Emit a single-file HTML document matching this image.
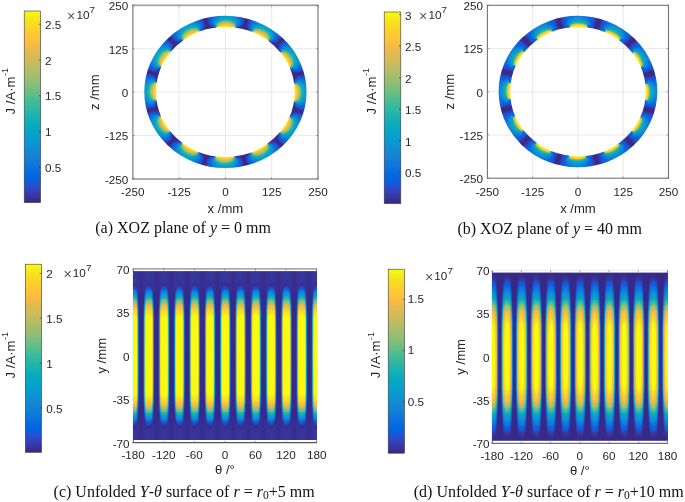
<!DOCTYPE html>
<html><head><meta charset="utf-8"><title>Figure</title>
<style>html,body{margin:0;padding:0;background:#fff}svg{display:block}</style></head>
<body><svg width="685" height="502" viewBox="0 0 685 502">
<defs><linearGradient id="ga_14750" gradientUnits="userSpaceOnUse" x1="187" y1="0" x2="219" y2="0"><stop offset="0" stop-color="#352a87"/><stop offset="0.05" stop-color="#352a87"/><stop offset="0.1" stop-color="#352a87"/><stop offset="0.15" stop-color="#352a87"/><stop offset="0.2" stop-color="#352a87"/><stop offset="0.25" stop-color="#352a87"/><stop offset="0.3" stop-color="#352a87"/><stop offset="0.35" stop-color="#352a87"/><stop offset="0.4" stop-color="#352a87"/><stop offset="0.45" stop-color="#352a87"/><stop offset="0.5" stop-color="#352b87"/><stop offset="0.55" stop-color="#352b87"/><stop offset="0.6" stop-color="#352b87"/><stop offset="0.65" stop-color="#352b87"/><stop offset="0.7" stop-color="#352a87"/><stop offset="0.75" stop-color="#352a87"/><stop offset="0.8" stop-color="#352a87"/><stop offset="0.85" stop-color="#352a87"/><stop offset="0.9" stop-color="#352a87"/><stop offset="0.95" stop-color="#352a87"/><stop offset="1" stop-color="#352a87"/></linearGradient>
<linearGradient id="ga_14250" gradientUnits="userSpaceOnUse" x1="187" y1="0" x2="219" y2="0"><stop offset="0" stop-color="#352a87"/><stop offset="0.05" stop-color="#352a87"/><stop offset="0.1" stop-color="#352a87"/><stop offset="0.15" stop-color="#352b87"/><stop offset="0.2" stop-color="#352b87"/><stop offset="0.25" stop-color="#352b88"/><stop offset="0.3" stop-color="#352b89"/><stop offset="0.35" stop-color="#352c89"/><stop offset="0.4" stop-color="#352c8a"/><stop offset="0.45" stop-color="#352d8b"/><stop offset="0.5" stop-color="#352d8c"/><stop offset="0.55" stop-color="#352d8c"/><stop offset="0.6" stop-color="#352d8c"/><stop offset="0.65" stop-color="#352d8c"/><stop offset="0.7" stop-color="#352d8c"/><stop offset="0.75" stop-color="#352c8b"/><stop offset="0.8" stop-color="#352c8b"/><stop offset="0.85" stop-color="#352c8b"/><stop offset="0.9" stop-color="#352c8a"/><stop offset="0.95" stop-color="#352c8a"/><stop offset="1" stop-color="#352c8a"/></linearGradient>
<linearGradient id="ga_13750" gradientUnits="userSpaceOnUse" x1="187" y1="0" x2="219" y2="0"><stop offset="0" stop-color="#352a87"/><stop offset="0.05" stop-color="#352a87"/><stop offset="0.1" stop-color="#352b87"/><stop offset="0.15" stop-color="#352b88"/><stop offset="0.2" stop-color="#352c89"/><stop offset="0.25" stop-color="#352d8c"/><stop offset="0.3" stop-color="#362e8e"/><stop offset="0.35" stop-color="#363092"/><stop offset="0.4" stop-color="#363195"/><stop offset="0.45" stop-color="#363398"/><stop offset="0.5" stop-color="#36339a"/><stop offset="0.55" stop-color="#36349a"/><stop offset="0.6" stop-color="#36349a"/><stop offset="0.65" stop-color="#36339a"/><stop offset="0.7" stop-color="#363398"/><stop offset="0.75" stop-color="#363297"/><stop offset="0.8" stop-color="#363296"/><stop offset="0.85" stop-color="#363195"/><stop offset="0.9" stop-color="#363194"/><stop offset="0.95" stop-color="#363093"/><stop offset="1" stop-color="#363092"/></linearGradient>
<linearGradient id="ga_13250" gradientUnits="userSpaceOnUse" x1="187" y1="0" x2="219" y2="0"><stop offset="0" stop-color="#352a87"/><stop offset="0.05" stop-color="#352a87"/><stop offset="0.1" stop-color="#352b88"/><stop offset="0.15" stop-color="#352c8a"/><stop offset="0.2" stop-color="#362e8e"/><stop offset="0.25" stop-color="#363093"/><stop offset="0.3" stop-color="#36339a"/><stop offset="0.35" stop-color="#3637a0"/><stop offset="0.4" stop-color="#3639a6"/><stop offset="0.45" stop-color="#353cab"/><stop offset="0.5" stop-color="#353eae"/><stop offset="0.55" stop-color="#353eaf"/><stop offset="0.6" stop-color="#353eaf"/><stop offset="0.65" stop-color="#353dad"/><stop offset="0.7" stop-color="#353cac"/><stop offset="0.75" stop-color="#353ba9"/><stop offset="0.8" stop-color="#363aa7"/><stop offset="0.85" stop-color="#3639a6"/><stop offset="0.9" stop-color="#3638a4"/><stop offset="0.95" stop-color="#3637a2"/><stop offset="1" stop-color="#36369f"/></linearGradient>
<linearGradient id="ga_12750" gradientUnits="userSpaceOnUse" x1="187" y1="0" x2="219" y2="0"><stop offset="0" stop-color="#352a87"/><stop offset="0.05" stop-color="#352b87"/><stop offset="0.1" stop-color="#352b89"/><stop offset="0.15" stop-color="#362e8e"/><stop offset="0.2" stop-color="#363195"/><stop offset="0.25" stop-color="#36369f"/><stop offset="0.3" stop-color="#353baa"/><stop offset="0.35" stop-color="#3440b3"/><stop offset="0.4" stop-color="#3244ba"/><stop offset="0.45" stop-color="#2e47c1"/><stop offset="0.5" stop-color="#2d49c4"/><stop offset="0.55" stop-color="#2d49c5"/><stop offset="0.6" stop-color="#2d49c4"/><stop offset="0.65" stop-color="#2e48c2"/><stop offset="0.7" stop-color="#2f47c0"/><stop offset="0.75" stop-color="#3045bd"/><stop offset="0.8" stop-color="#3244bb"/><stop offset="0.85" stop-color="#3243b8"/><stop offset="0.9" stop-color="#3341b6"/><stop offset="0.95" stop-color="#3440b3"/><stop offset="1" stop-color="#343eb0"/></linearGradient>
<linearGradient id="ga_12250" gradientUnits="userSpaceOnUse" x1="187" y1="0" x2="219" y2="0"><stop offset="0" stop-color="#352a87"/><stop offset="0.05" stop-color="#352b88"/><stop offset="0.1" stop-color="#352c8b"/><stop offset="0.15" stop-color="#363194"/><stop offset="0.2" stop-color="#3637a0"/><stop offset="0.25" stop-color="#343eaf"/><stop offset="0.3" stop-color="#3145bd"/><stop offset="0.35" stop-color="#2b4bc7"/><stop offset="0.4" stop-color="#2450cf"/><stop offset="0.45" stop-color="#1e53d5"/><stop offset="0.5" stop-color="#1b55d7"/><stop offset="0.55" stop-color="#1a56d7"/><stop offset="0.6" stop-color="#1c55d6"/><stop offset="0.65" stop-color="#1e54d5"/><stop offset="0.7" stop-color="#2152d2"/><stop offset="0.75" stop-color="#244fcf"/><stop offset="0.8" stop-color="#274ecc"/><stop offset="0.85" stop-color="#294cca"/><stop offset="0.9" stop-color="#2c4ac7"/><stop offset="0.95" stop-color="#2d49c3"/><stop offset="1" stop-color="#2f47c0"/></linearGradient>
<linearGradient id="ga_11750" gradientUnits="userSpaceOnUse" x1="187" y1="0" x2="219" y2="0"><stop offset="0" stop-color="#352a87"/><stop offset="0.05" stop-color="#352b88"/><stop offset="0.1" stop-color="#362e8f"/><stop offset="0.15" stop-color="#36369e"/><stop offset="0.2" stop-color="#343eb0"/><stop offset="0.25" stop-color="#2e48c2"/><stop offset="0.3" stop-color="#2350d0"/><stop offset="0.35" stop-color="#1857d9"/><stop offset="0.4" stop-color="#0e5cde"/><stop offset="0.45" stop-color="#0860df"/><stop offset="0.5" stop-color="#0661e0"/><stop offset="0.55" stop-color="#0661e0"/><stop offset="0.6" stop-color="#0860df"/><stop offset="0.65" stop-color="#0a5fdf"/><stop offset="0.7" stop-color="#0d5dde"/><stop offset="0.75" stop-color="#125adc"/><stop offset="0.8" stop-color="#1558da"/><stop offset="0.85" stop-color="#1956d8"/><stop offset="0.9" stop-color="#1d54d5"/><stop offset="0.95" stop-color="#2152d2"/><stop offset="1" stop-color="#254fcf"/></linearGradient>
<linearGradient id="ga_11250" gradientUnits="userSpaceOnUse" x1="187" y1="0" x2="219" y2="0"><stop offset="0" stop-color="#352a87"/><stop offset="0.05" stop-color="#352c8a"/><stop offset="0.1" stop-color="#363296"/><stop offset="0.15" stop-color="#353dad"/><stop offset="0.2" stop-color="#2e48c2"/><stop offset="0.25" stop-color="#1e54d5"/><stop offset="0.3" stop-color="#0d5dde"/><stop offset="0.35" stop-color="#0363e1"/><stop offset="0.4" stop-color="#0266e1"/><stop offset="0.45" stop-color="#0268e1"/><stop offset="0.5" stop-color="#0269e1"/><stop offset="0.55" stop-color="#0269e1"/><stop offset="0.6" stop-color="#0268e1"/><stop offset="0.65" stop-color="#0266e1"/><stop offset="0.7" stop-color="#0265e1"/><stop offset="0.75" stop-color="#0363e1"/><stop offset="0.8" stop-color="#0661e0"/><stop offset="0.85" stop-color="#095fdf"/><stop offset="0.9" stop-color="#0c5dde"/><stop offset="0.95" stop-color="#105bdd"/><stop offset="1" stop-color="#1658da"/></linearGradient>
<linearGradient id="ga_10750" gradientUnits="userSpaceOnUse" x1="187" y1="0" x2="219" y2="0"><stop offset="0" stop-color="#352a87"/><stop offset="0.05" stop-color="#352d8d"/><stop offset="0.1" stop-color="#3637a1"/><stop offset="0.15" stop-color="#2f46bf"/><stop offset="0.2" stop-color="#1d54d6"/><stop offset="0.25" stop-color="#0761e0"/><stop offset="0.3" stop-color="#0267e1"/><stop offset="0.35" stop-color="#036be0"/><stop offset="0.4" stop-color="#056ee0"/><stop offset="0.45" stop-color="#076fdf"/><stop offset="0.5" stop-color="#0770df"/><stop offset="0.55" stop-color="#066fdf"/><stop offset="0.6" stop-color="#056ee0"/><stop offset="0.65" stop-color="#046de0"/><stop offset="0.7" stop-color="#036be1"/><stop offset="0.75" stop-color="#0269e1"/><stop offset="0.8" stop-color="#0267e1"/><stop offset="0.85" stop-color="#0266e1"/><stop offset="0.9" stop-color="#0364e1"/><stop offset="0.95" stop-color="#0462e1"/><stop offset="1" stop-color="#0860df"/></linearGradient>
<linearGradient id="ga_10250" gradientUnits="userSpaceOnUse" x1="187" y1="0" x2="219" y2="0"><stop offset="0" stop-color="#352a87"/><stop offset="0.05" stop-color="#363093"/><stop offset="0.1" stop-color="#3440b2"/><stop offset="0.15" stop-color="#1f53d5"/><stop offset="0.2" stop-color="#0462e1"/><stop offset="0.25" stop-color="#036be1"/><stop offset="0.3" stop-color="#0770df"/><stop offset="0.35" stop-color="#0b73dd"/><stop offset="0.4" stop-color="#0d75dc"/><stop offset="0.45" stop-color="#0e76dc"/><stop offset="0.5" stop-color="#0e76dc"/><stop offset="0.55" stop-color="#0d75dc"/><stop offset="0.6" stop-color="#0b74dd"/><stop offset="0.65" stop-color="#0972de"/><stop offset="0.7" stop-color="#0770df"/><stop offset="0.75" stop-color="#056ee0"/><stop offset="0.8" stop-color="#046ce0"/><stop offset="0.85" stop-color="#036be1"/><stop offset="0.9" stop-color="#0269e1"/><stop offset="0.95" stop-color="#0267e1"/><stop offset="1" stop-color="#0265e1"/></linearGradient>
<linearGradient id="ga_9750" gradientUnits="userSpaceOnUse" x1="187" y1="0" x2="219" y2="0"><stop offset="0" stop-color="#352a87"/><stop offset="0.05" stop-color="#36369f"/><stop offset="0.1" stop-color="#284dca"/><stop offset="0.15" stop-color="#0363e1"/><stop offset="0.2" stop-color="#056de0"/><stop offset="0.25" stop-color="#0c74dd"/><stop offset="0.3" stop-color="#1079da"/><stop offset="0.35" stop-color="#127cd8"/><stop offset="0.4" stop-color="#137dd8"/><stop offset="0.45" stop-color="#137ed7"/><stop offset="0.5" stop-color="#127dd8"/><stop offset="0.55" stop-color="#117bd9"/><stop offset="0.6" stop-color="#1079da"/><stop offset="0.65" stop-color="#0f77db"/><stop offset="0.7" stop-color="#0d75dc"/><stop offset="0.75" stop-color="#0a72de"/><stop offset="0.8" stop-color="#0871de"/><stop offset="0.85" stop-color="#076fdf"/><stop offset="0.9" stop-color="#056ee0"/><stop offset="0.95" stop-color="#046ce0"/><stop offset="1" stop-color="#026ae1"/></linearGradient>
<linearGradient id="ga_9250" gradientUnits="userSpaceOnUse" x1="187" y1="0" x2="219" y2="0"><stop offset="0" stop-color="#352b87"/><stop offset="0.05" stop-color="#3342b6"/><stop offset="0.1" stop-color="#0760e0"/><stop offset="0.15" stop-color="#0870df"/><stop offset="0.2" stop-color="#1079da"/><stop offset="0.25" stop-color="#1480d6"/><stop offset="0.3" stop-color="#1484d4"/><stop offset="0.35" stop-color="#1486d4"/><stop offset="0.4" stop-color="#1487d3"/><stop offset="0.45" stop-color="#1486d4"/><stop offset="0.5" stop-color="#1484d4"/><stop offset="0.55" stop-color="#1481d5"/><stop offset="0.6" stop-color="#137fd7"/><stop offset="0.65" stop-color="#127cd8"/><stop offset="0.7" stop-color="#117ada"/><stop offset="0.75" stop-color="#0e77db"/><stop offset="0.8" stop-color="#0d75dc"/><stop offset="0.85" stop-color="#0b73dd"/><stop offset="0.9" stop-color="#0972de"/><stop offset="0.95" stop-color="#0770df"/><stop offset="1" stop-color="#056ee0"/></linearGradient>
<linearGradient id="ga_8750" gradientUnits="userSpaceOnUse" x1="187" y1="0" x2="219" y2="0"><stop offset="0" stop-color="#352b88"/><stop offset="0.05" stop-color="#125adc"/><stop offset="0.1" stop-color="#0a73de"/><stop offset="0.15" stop-color="#1481d6"/><stop offset="0.2" stop-color="#138ad3"/><stop offset="0.25" stop-color="#0f90d2"/><stop offset="0.3" stop-color="#0c93d2"/><stop offset="0.35" stop-color="#0c94d2"/><stop offset="0.4" stop-color="#0d93d2"/><stop offset="0.45" stop-color="#0f90d2"/><stop offset="0.5" stop-color="#118cd2"/><stop offset="0.55" stop-color="#1389d3"/><stop offset="0.6" stop-color="#1485d4"/><stop offset="0.65" stop-color="#1482d5"/><stop offset="0.7" stop-color="#137ed7"/><stop offset="0.75" stop-color="#117bd9"/><stop offset="0.8" stop-color="#1079da"/><stop offset="0.85" stop-color="#0f77db"/><stop offset="0.9" stop-color="#0d75dc"/><stop offset="0.95" stop-color="#0b73dd"/><stop offset="1" stop-color="#0971de"/></linearGradient>
<linearGradient id="ga_8250" gradientUnits="userSpaceOnUse" x1="187" y1="0" x2="219" y2="0"><stop offset="0" stop-color="#363093"/><stop offset="0.05" stop-color="#117ad9"/><stop offset="0.1" stop-color="#0e92d2"/><stop offset="0.15" stop-color="#069ece"/><stop offset="0.2" stop-color="#06a2cb"/><stop offset="0.25" stop-color="#06a3ca"/><stop offset="0.3" stop-color="#06a3cb"/><stop offset="0.35" stop-color="#06a1cc"/><stop offset="0.4" stop-color="#069fce"/><stop offset="0.45" stop-color="#089bd0"/><stop offset="0.5" stop-color="#0a96d1"/><stop offset="0.55" stop-color="#0e91d2"/><stop offset="0.6" stop-color="#128cd2"/><stop offset="0.65" stop-color="#1487d3"/><stop offset="0.7" stop-color="#1483d5"/><stop offset="0.75" stop-color="#137fd6"/><stop offset="0.8" stop-color="#137dd8"/><stop offset="0.85" stop-color="#117bd9"/><stop offset="0.9" stop-color="#1079da"/><stop offset="0.95" stop-color="#0e77db"/><stop offset="1" stop-color="#0c74dd"/></linearGradient>
<linearGradient id="ga_7750" gradientUnits="userSpaceOnUse" x1="187" y1="0" x2="219" y2="0"><stop offset="0" stop-color="#cabb5c"/><stop offset="0.05" stop-color="#45bb96"/><stop offset="0.1" stop-color="#32b8a1"/><stop offset="0.15" stop-color="#26b5a9"/><stop offset="0.2" stop-color="#1db3af"/><stop offset="0.25" stop-color="#14b0b5"/><stop offset="0.3" stop-color="#0daeba"/><stop offset="0.35" stop-color="#08abc0"/><stop offset="0.4" stop-color="#06a8c5"/><stop offset="0.45" stop-color="#06a3ca"/><stop offset="0.5" stop-color="#069ece"/><stop offset="0.55" stop-color="#0899d1"/><stop offset="0.6" stop-color="#0c93d2"/><stop offset="0.65" stop-color="#108ed2"/><stop offset="0.7" stop-color="#1389d3"/><stop offset="0.75" stop-color="#1484d4"/><stop offset="0.8" stop-color="#1481d5"/><stop offset="0.85" stop-color="#137fd7"/><stop offset="0.9" stop-color="#127cd8"/><stop offset="0.95" stop-color="#117ad9"/><stop offset="1" stop-color="#0f77db"/></linearGradient>
<linearGradient id="ga_7250" gradientUnits="userSpaceOnUse" x1="187" y1="0" x2="219" y2="0"><stop offset="0" stop-color="#f5ea19"/><stop offset="0.05" stop-color="#e9b94e"/><stop offset="0.1" stop-color="#b0bd67"/><stop offset="0.15" stop-color="#80bf7a"/><stop offset="0.2" stop-color="#5cbe8a"/><stop offset="0.25" stop-color="#3eba9a"/><stop offset="0.3" stop-color="#2ab6a6"/><stop offset="0.35" stop-color="#1bb2b0"/><stop offset="0.4" stop-color="#0faeb9"/><stop offset="0.45" stop-color="#07aac2"/><stop offset="0.5" stop-color="#06a5c9"/><stop offset="0.55" stop-color="#06a0cd"/><stop offset="0.6" stop-color="#089ad0"/><stop offset="0.65" stop-color="#0b95d2"/><stop offset="0.7" stop-color="#108ed2"/><stop offset="0.75" stop-color="#1388d3"/><stop offset="0.8" stop-color="#1485d4"/><stop offset="0.85" stop-color="#1483d5"/><stop offset="0.9" stop-color="#1480d6"/><stop offset="0.95" stop-color="#137dd8"/><stop offset="1" stop-color="#117ad9"/></linearGradient>
<linearGradient id="ga_6750" gradientUnits="userSpaceOnUse" x1="187" y1="0" x2="219" y2="0"><stop offset="0" stop-color="#f6f114"/><stop offset="0.05" stop-color="#fec931"/><stop offset="0.1" stop-color="#e5b950"/><stop offset="0.15" stop-color="#b9bd63"/><stop offset="0.2" stop-color="#95bf71"/><stop offset="0.25" stop-color="#70bf81"/><stop offset="0.3" stop-color="#4fbc91"/><stop offset="0.35" stop-color="#36b89f"/><stop offset="0.4" stop-color="#22b4ac"/><stop offset="0.45" stop-color="#10afb8"/><stop offset="0.5" stop-color="#07aac1"/><stop offset="0.55" stop-color="#06a5c8"/><stop offset="0.6" stop-color="#06a0cd"/><stop offset="0.65" stop-color="#089ad0"/><stop offset="0.7" stop-color="#0c94d2"/><stop offset="0.75" stop-color="#118dd2"/><stop offset="0.8" stop-color="#138ad3"/><stop offset="0.85" stop-color="#1487d3"/><stop offset="0.9" stop-color="#1483d5"/><stop offset="0.95" stop-color="#1480d6"/><stop offset="1" stop-color="#137dd8"/></linearGradient>
<linearGradient id="ga_6250" gradientUnits="userSpaceOnUse" x1="187" y1="0" x2="219" y2="0"><stop offset="0" stop-color="#f7f412"/><stop offset="0.05" stop-color="#f9d528"/><stop offset="0.1" stop-color="#fcbd3f"/><stop offset="0.15" stop-color="#daba55"/><stop offset="0.2" stop-color="#b8bd63"/><stop offset="0.25" stop-color="#96bf71"/><stop offset="0.3" stop-color="#73bf7f"/><stop offset="0.35" stop-color="#53bd8f"/><stop offset="0.4" stop-color="#37b99e"/><stop offset="0.45" stop-color="#1eb3ae"/><stop offset="0.5" stop-color="#0eaeba"/><stop offset="0.55" stop-color="#07a9c2"/><stop offset="0.6" stop-color="#06a4c9"/><stop offset="0.65" stop-color="#069fce"/><stop offset="0.7" stop-color="#089ad1"/><stop offset="0.75" stop-color="#0d93d2"/><stop offset="0.8" stop-color="#108ed2"/><stop offset="0.85" stop-color="#128bd3"/><stop offset="0.9" stop-color="#1487d3"/><stop offset="0.95" stop-color="#1483d5"/><stop offset="1" stop-color="#1480d6"/></linearGradient>
<linearGradient id="ga_5750" gradientUnits="userSpaceOnUse" x1="187" y1="0" x2="219" y2="0"><stop offset="0" stop-color="#f7f511"/><stop offset="0.05" stop-color="#f6db24"/><stop offset="0.1" stop-color="#fec734"/><stop offset="0.15" stop-color="#edb94c"/><stop offset="0.2" stop-color="#cfbb5a"/><stop offset="0.25" stop-color="#afbe67"/><stop offset="0.3" stop-color="#8fbf74"/><stop offset="0.35" stop-color="#6fbf81"/><stop offset="0.4" stop-color="#4ebc91"/><stop offset="0.45" stop-color="#2eb7a4"/><stop offset="0.5" stop-color="#19b2b2"/><stop offset="0.55" stop-color="#0cadbc"/><stop offset="0.6" stop-color="#06a8c4"/><stop offset="0.65" stop-color="#06a3ca"/><stop offset="0.7" stop-color="#079ecf"/><stop offset="0.75" stop-color="#0a97d1"/><stop offset="0.8" stop-color="#0d93d2"/><stop offset="0.85" stop-color="#108fd2"/><stop offset="0.9" stop-color="#128ad3"/><stop offset="0.95" stop-color="#1486d3"/><stop offset="1" stop-color="#1483d5"/></linearGradient>
<linearGradient id="ga_5250" gradientUnits="userSpaceOnUse" x1="187" y1="0" x2="219" y2="0"><stop offset="0" stop-color="#f8f611"/><stop offset="0.05" stop-color="#f5df21"/><stop offset="0.1" stop-color="#fccd2e"/><stop offset="0.15" stop-color="#fabb42"/><stop offset="0.2" stop-color="#dfba53"/><stop offset="0.25" stop-color="#c2bc5f"/><stop offset="0.3" stop-color="#a4be6b"/><stop offset="0.35" stop-color="#85bf78"/><stop offset="0.4" stop-color="#64be86"/><stop offset="0.45" stop-color="#3eba9a"/><stop offset="0.5" stop-color="#24b5aa"/><stop offset="0.55" stop-color="#14b0b5"/><stop offset="0.6" stop-color="#09abbf"/><stop offset="0.65" stop-color="#06a7c6"/><stop offset="0.7" stop-color="#06a1cc"/><stop offset="0.75" stop-color="#079bd0"/><stop offset="0.8" stop-color="#0a97d1"/><stop offset="0.85" stop-color="#0d93d2"/><stop offset="0.9" stop-color="#108ed2"/><stop offset="0.95" stop-color="#138ad3"/><stop offset="1" stop-color="#1485d4"/></linearGradient>
<linearGradient id="ga_4750" gradientUnits="userSpaceOnUse" x1="187" y1="0" x2="219" y2="0"><stop offset="0" stop-color="#f8f710"/><stop offset="0.05" stop-color="#f5e21f"/><stop offset="0.1" stop-color="#fad22b"/><stop offset="0.15" stop-color="#fec03b"/><stop offset="0.2" stop-color="#ebb94d"/><stop offset="0.25" stop-color="#cfbb5a"/><stop offset="0.3" stop-color="#b3bd65"/><stop offset="0.35" stop-color="#97bf71"/><stop offset="0.4" stop-color="#77bf7e"/><stop offset="0.45" stop-color="#4ebc91"/><stop offset="0.5" stop-color="#30b7a2"/><stop offset="0.55" stop-color="#1cb3af"/><stop offset="0.6" stop-color="#0daeba"/><stop offset="0.65" stop-color="#07a9c2"/><stop offset="0.7" stop-color="#06a4c9"/><stop offset="0.75" stop-color="#069ece"/><stop offset="0.8" stop-color="#089ad0"/><stop offset="0.85" stop-color="#0a96d1"/><stop offset="0.9" stop-color="#0e91d2"/><stop offset="0.95" stop-color="#118dd2"/><stop offset="1" stop-color="#1388d3"/></linearGradient>
<linearGradient id="ga_4250" gradientUnits="userSpaceOnUse" x1="187" y1="0" x2="219" y2="0"><stop offset="0" stop-color="#f8f710"/><stop offset="0.05" stop-color="#f5e41d"/><stop offset="0.1" stop-color="#f9d528"/><stop offset="0.15" stop-color="#fec536"/><stop offset="0.2" stop-color="#f3ba48"/><stop offset="0.25" stop-color="#d9ba55"/><stop offset="0.3" stop-color="#bfbc61"/><stop offset="0.35" stop-color="#a4be6b"/><stop offset="0.4" stop-color="#86bf78"/><stop offset="0.45" stop-color="#5dbe89"/><stop offset="0.5" stop-color="#3cba9b"/><stop offset="0.55" stop-color="#25b5a9"/><stop offset="0.6" stop-color="#13b0b6"/><stop offset="0.65" stop-color="#09acbe"/><stop offset="0.7" stop-color="#06a7c6"/><stop offset="0.75" stop-color="#06a1cc"/><stop offset="0.8" stop-color="#079dcf"/><stop offset="0.85" stop-color="#0899d1"/><stop offset="0.9" stop-color="#0b95d2"/><stop offset="0.95" stop-color="#0f90d2"/><stop offset="1" stop-color="#128bd3"/></linearGradient>
<linearGradient id="ga_3750" gradientUnits="userSpaceOnUse" x1="187" y1="0" x2="219" y2="0"><stop offset="0" stop-color="#f8f710"/><stop offset="0.05" stop-color="#f5e61c"/><stop offset="0.1" stop-color="#f8d726"/><stop offset="0.15" stop-color="#fec832"/><stop offset="0.2" stop-color="#f9bb43"/><stop offset="0.25" stop-color="#e1b952"/><stop offset="0.3" stop-color="#c8bc5d"/><stop offset="0.35" stop-color="#aebe67"/><stop offset="0.4" stop-color="#91bf73"/><stop offset="0.45" stop-color="#6abe83"/><stop offset="0.5" stop-color="#47bb95"/><stop offset="0.55" stop-color="#2db7a4"/><stop offset="0.6" stop-color="#19b2b1"/><stop offset="0.65" stop-color="#0dadbb"/><stop offset="0.7" stop-color="#07a9c3"/><stop offset="0.75" stop-color="#06a3ca"/><stop offset="0.8" stop-color="#06a0cd"/><stop offset="0.85" stop-color="#079cd0"/><stop offset="0.9" stop-color="#0997d1"/><stop offset="0.95" stop-color="#0d92d2"/><stop offset="1" stop-color="#118dd2"/></linearGradient>
<linearGradient id="ga_3250" gradientUnits="userSpaceOnUse" x1="187" y1="0" x2="219" y2="0"><stop offset="0" stop-color="#f8f810"/><stop offset="0.05" stop-color="#f5e71b"/><stop offset="0.1" stop-color="#f7d925"/><stop offset="0.15" stop-color="#fdcb30"/><stop offset="0.2" stop-color="#fcbd3f"/><stop offset="0.25" stop-color="#e7b94f"/><stop offset="0.3" stop-color="#cfbb5a"/><stop offset="0.35" stop-color="#b6bd64"/><stop offset="0.4" stop-color="#9bbf6f"/><stop offset="0.45" stop-color="#75bf7f"/><stop offset="0.5" stop-color="#50bc90"/><stop offset="0.55" stop-color="#35b89f"/><stop offset="0.6" stop-color="#1fb3ad"/><stop offset="0.65" stop-color="#11afb7"/><stop offset="0.7" stop-color="#08aac0"/><stop offset="0.75" stop-color="#06a5c8"/><stop offset="0.8" stop-color="#06a2cc"/><stop offset="0.85" stop-color="#079ecf"/><stop offset="0.9" stop-color="#0899d1"/><stop offset="0.95" stop-color="#0b94d2"/><stop offset="1" stop-color="#0f8fd2"/></linearGradient>
<linearGradient id="ga_2750" gradientUnits="userSpaceOnUse" x1="187" y1="0" x2="219" y2="0"><stop offset="0" stop-color="#f8f810"/><stop offset="0.05" stop-color="#f5e81a"/><stop offset="0.1" stop-color="#f7da24"/><stop offset="0.15" stop-color="#fccd2f"/><stop offset="0.2" stop-color="#febf3c"/><stop offset="0.25" stop-color="#ecb94c"/><stop offset="0.3" stop-color="#d5ba58"/><stop offset="0.35" stop-color="#bdbd61"/><stop offset="0.4" stop-color="#a2be6c"/><stop offset="0.45" stop-color="#7dbf7b"/><stop offset="0.5" stop-color="#59bd8c"/><stop offset="0.55" stop-color="#3cba9b"/><stop offset="0.6" stop-color="#24b5aa"/><stop offset="0.65" stop-color="#15b0b5"/><stop offset="0.7" stop-color="#0aacbe"/><stop offset="0.75" stop-color="#06a6c6"/><stop offset="0.8" stop-color="#06a3ca"/><stop offset="0.85" stop-color="#06a0cd"/><stop offset="0.9" stop-color="#079bd0"/><stop offset="0.95" stop-color="#0a96d1"/><stop offset="1" stop-color="#0e91d2"/></linearGradient>
<linearGradient id="ga_2250" gradientUnits="userSpaceOnUse" x1="187" y1="0" x2="219" y2="0"><stop offset="0" stop-color="#f8f810"/><stop offset="0.05" stop-color="#f5e81a"/><stop offset="0.1" stop-color="#f6dc23"/><stop offset="0.15" stop-color="#fcce2d"/><stop offset="0.2" stop-color="#fec139"/><stop offset="0.25" stop-color="#f0b94a"/><stop offset="0.3" stop-color="#d9ba56"/><stop offset="0.35" stop-color="#c2bc5f"/><stop offset="0.4" stop-color="#a7be6a"/><stop offset="0.45" stop-color="#84bf78"/><stop offset="0.5" stop-color="#60be88"/><stop offset="0.55" stop-color="#42bb98"/><stop offset="0.6" stop-color="#29b6a7"/><stop offset="0.65" stop-color="#18b2b2"/><stop offset="0.7" stop-color="#0cadbc"/><stop offset="0.75" stop-color="#06a8c5"/><stop offset="0.8" stop-color="#06a4c9"/><stop offset="0.85" stop-color="#06a1cc"/><stop offset="0.9" stop-color="#079dcf"/><stop offset="0.95" stop-color="#0998d1"/><stop offset="1" stop-color="#0d93d2"/></linearGradient>
<linearGradient id="ga_1750" gradientUnits="userSpaceOnUse" x1="187" y1="0" x2="219" y2="0"><stop offset="0" stop-color="#f8f810"/><stop offset="0.05" stop-color="#f5e91a"/><stop offset="0.1" stop-color="#f6dc23"/><stop offset="0.15" stop-color="#fbcf2c"/><stop offset="0.2" stop-color="#ffc338"/><stop offset="0.25" stop-color="#f2b948"/><stop offset="0.3" stop-color="#dcba54"/><stop offset="0.35" stop-color="#c5bc5e"/><stop offset="0.4" stop-color="#acbe68"/><stop offset="0.45" stop-color="#89bf76"/><stop offset="0.5" stop-color="#65be85"/><stop offset="0.55" stop-color="#47bb95"/><stop offset="0.6" stop-color="#2db7a5"/><stop offset="0.65" stop-color="#1bb2b0"/><stop offset="0.7" stop-color="#0eaeba"/><stop offset="0.75" stop-color="#06a9c3"/><stop offset="0.8" stop-color="#06a5c8"/><stop offset="0.85" stop-color="#06a2cb"/><stop offset="0.9" stop-color="#079ecf"/><stop offset="0.95" stop-color="#0899d1"/><stop offset="1" stop-color="#0c94d2"/></linearGradient>
<linearGradient id="ga_1250" gradientUnits="userSpaceOnUse" x1="187" y1="0" x2="219" y2="0"><stop offset="0" stop-color="#f8f810"/><stop offset="0.05" stop-color="#f5e919"/><stop offset="0.1" stop-color="#f6dd22"/><stop offset="0.15" stop-color="#fbd02c"/><stop offset="0.2" stop-color="#ffc437"/><stop offset="0.25" stop-color="#f4ba47"/><stop offset="0.3" stop-color="#dfba53"/><stop offset="0.35" stop-color="#c8bc5d"/><stop offset="0.4" stop-color="#afbe67"/><stop offset="0.45" stop-color="#8dbf75"/><stop offset="0.5" stop-color="#6abe84"/><stop offset="0.55" stop-color="#4bbc93"/><stop offset="0.6" stop-color="#30b7a3"/><stop offset="0.65" stop-color="#1eb3ae"/><stop offset="0.7" stop-color="#0faeb9"/><stop offset="0.75" stop-color="#07a9c2"/><stop offset="0.8" stop-color="#06a6c7"/><stop offset="0.85" stop-color="#06a3cb"/><stop offset="0.9" stop-color="#069fce"/><stop offset="0.95" stop-color="#089ad0"/><stop offset="1" stop-color="#0b95d2"/></linearGradient>
<linearGradient id="ga_750" gradientUnits="userSpaceOnUse" x1="187" y1="0" x2="219" y2="0"><stop offset="0" stop-color="#f8f80f"/><stop offset="0.05" stop-color="#f5ea19"/><stop offset="0.1" stop-color="#f6dd22"/><stop offset="0.15" stop-color="#fbd12b"/><stop offset="0.2" stop-color="#ffc436"/><stop offset="0.25" stop-color="#f5ba46"/><stop offset="0.3" stop-color="#e0ba52"/><stop offset="0.35" stop-color="#cabb5c"/><stop offset="0.4" stop-color="#b1bd66"/><stop offset="0.45" stop-color="#8fbf74"/><stop offset="0.5" stop-color="#6cbf82"/><stop offset="0.55" stop-color="#4dbc92"/><stop offset="0.6" stop-color="#32b8a2"/><stop offset="0.65" stop-color="#1fb3ad"/><stop offset="0.7" stop-color="#10afb8"/><stop offset="0.75" stop-color="#07aac2"/><stop offset="0.8" stop-color="#06a7c6"/><stop offset="0.85" stop-color="#06a3ca"/><stop offset="0.9" stop-color="#069fce"/><stop offset="0.95" stop-color="#089bd0"/><stop offset="1" stop-color="#0b95d1"/></linearGradient>
<linearGradient id="ga_250" gradientUnits="userSpaceOnUse" x1="187" y1="0" x2="219" y2="0"><stop offset="0" stop-color="#f8f80f"/><stop offset="0.05" stop-color="#f5ea19"/><stop offset="0.1" stop-color="#f6dd22"/><stop offset="0.15" stop-color="#fbd12b"/><stop offset="0.2" stop-color="#fec536"/><stop offset="0.25" stop-color="#f6ba46"/><stop offset="0.3" stop-color="#e1ba52"/><stop offset="0.35" stop-color="#cbbb5c"/><stop offset="0.4" stop-color="#b2bd66"/><stop offset="0.45" stop-color="#90bf73"/><stop offset="0.5" stop-color="#6ebf82"/><stop offset="0.55" stop-color="#4ebc91"/><stop offset="0.6" stop-color="#33b8a1"/><stop offset="0.65" stop-color="#20b4ad"/><stop offset="0.7" stop-color="#11afb8"/><stop offset="0.75" stop-color="#07aac1"/><stop offset="0.8" stop-color="#06a7c6"/><stop offset="0.85" stop-color="#06a3ca"/><stop offset="0.9" stop-color="#06a0cd"/><stop offset="0.95" stop-color="#079bd0"/><stop offset="1" stop-color="#0b96d1"/></linearGradient>
<g id="seca"><polygon transform="rotate(-14.75)" points="184,-0.8 222,-0.97 222.01,2.91 221.9,6.78 183.91,5.62" fill="url(#ga_14750)"/><polygon transform="rotate(-14.25)" points="184,-0.8 222,-0.97 222.01,2.91 221.9,6.78 183.91,5.62" fill="url(#ga_14250)"/><polygon transform="rotate(-13.75)" points="184,-0.8 222,-0.97 222.01,2.91 221.9,6.78 183.91,5.62" fill="url(#ga_13750)"/><polygon transform="rotate(-13.25)" points="184,-0.8 222,-0.97 222.01,2.91 221.9,6.78 183.91,5.62" fill="url(#ga_13250)"/><polygon transform="rotate(-12.75)" points="184,-0.8 222,-0.97 222.01,2.91 221.9,6.78 183.91,5.62" fill="url(#ga_12750)"/><polygon transform="rotate(-12.25)" points="184,-0.8 222,-0.97 222.01,2.91 221.9,6.78 183.91,5.62" fill="url(#ga_12250)"/><polygon transform="rotate(-11.75)" points="184,-0.8 222,-0.97 222.01,2.91 221.9,6.78 183.91,5.62" fill="url(#ga_11750)"/><polygon transform="rotate(-11.25)" points="184,-0.8 222,-0.97 222.01,2.91 221.9,6.78 183.91,5.62" fill="url(#ga_11250)"/><polygon transform="rotate(-10.75)" points="184,-0.8 222,-0.97 222.01,2.91 221.9,6.78 183.91,5.62" fill="url(#ga_10750)"/><polygon transform="rotate(-10.25)" points="184,-0.8 222,-0.97 222.01,2.91 221.9,6.78 183.91,5.62" fill="url(#ga_10250)"/><polygon transform="rotate(-9.75)" points="184,-0.8 222,-0.97 222.01,2.91 221.9,6.78 183.91,5.62" fill="url(#ga_9750)"/><polygon transform="rotate(-9.25)" points="184,-0.8 222,-0.97 222.01,2.91 221.9,6.78 183.91,5.62" fill="url(#ga_9250)"/><polygon transform="rotate(-8.75)" points="184,-0.8 222,-0.97 222.01,2.91 221.9,6.78 183.91,5.62" fill="url(#ga_8750)"/><polygon transform="rotate(-8.25)" points="184,-0.8 222,-0.97 222.01,2.91 221.9,6.78 183.91,5.62" fill="url(#ga_8250)"/><polygon transform="rotate(-7.75)" points="184,-0.8 222,-0.97 222.01,2.91 221.9,6.78 183.91,5.62" fill="url(#ga_7750)"/><polygon transform="rotate(-7.25)" points="184,-0.8 222,-0.97 222.01,2.91 221.9,6.78 183.91,5.62" fill="url(#ga_7250)"/><polygon transform="rotate(-6.75)" points="184,-0.8 222,-0.97 222.01,2.91 221.9,6.78 183.91,5.62" fill="url(#ga_6750)"/><polygon transform="rotate(-6.25)" points="184,-0.8 222,-0.97 222.01,2.91 221.9,6.78 183.91,5.62" fill="url(#ga_6250)"/><polygon transform="rotate(-5.75)" points="184,-0.8 222,-0.97 222.01,2.91 221.9,6.78 183.91,5.62" fill="url(#ga_5750)"/><polygon transform="rotate(-5.25)" points="184,-0.8 222,-0.97 222.01,2.91 221.9,6.78 183.91,5.62" fill="url(#ga_5250)"/><polygon transform="rotate(-4.75)" points="184,-0.8 222,-0.97 222.01,2.91 221.9,6.78 183.91,5.62" fill="url(#ga_4750)"/><polygon transform="rotate(-4.25)" points="184,-0.8 222,-0.97 222.01,2.91 221.9,6.78 183.91,5.62" fill="url(#ga_4250)"/><polygon transform="rotate(-3.75)" points="184,-0.8 222,-0.97 222.01,2.91 221.9,6.78 183.91,5.62" fill="url(#ga_3750)"/><polygon transform="rotate(-3.25)" points="184,-0.8 222,-0.97 222.01,2.91 221.9,6.78 183.91,5.62" fill="url(#ga_3250)"/><polygon transform="rotate(-2.75)" points="184,-0.8 222,-0.97 222.01,2.91 221.9,6.78 183.91,5.62" fill="url(#ga_2750)"/><polygon transform="rotate(-2.25)" points="184,-0.8 222,-0.97 222.01,2.91 221.9,6.78 183.91,5.62" fill="url(#ga_2250)"/><polygon transform="rotate(-1.75)" points="184,-0.8 222,-0.97 222.01,2.91 221.9,6.78 183.91,5.62" fill="url(#ga_1750)"/><polygon transform="rotate(-1.25)" points="184,-0.8 222,-0.97 222.01,2.91 221.9,6.78 183.91,5.62" fill="url(#ga_1250)"/><polygon transform="rotate(-0.75)" points="184,-0.8 222,-0.97 222.01,2.91 221.9,6.78 183.91,5.62" fill="url(#ga_750)"/><polygon transform="rotate(-0.25)" points="184,-0.8 222,-0.97 222.01,2.91 221.9,6.78 183.91,5.62" fill="url(#ga_250)"/><polygon transform="rotate(0.25)" points="184,-0.8 222,-0.97 222.01,2.91 221.9,6.78 183.91,5.62" fill="url(#ga_250)"/><polygon transform="rotate(0.75)" points="184,-0.8 222,-0.97 222.01,2.91 221.9,6.78 183.91,5.62" fill="url(#ga_750)"/><polygon transform="rotate(1.25)" points="184,-0.8 222,-0.97 222.01,2.91 221.9,6.78 183.91,5.62" fill="url(#ga_1250)"/><polygon transform="rotate(1.75)" points="184,-0.8 222,-0.97 222.01,2.91 221.9,6.78 183.91,5.62" fill="url(#ga_1750)"/><polygon transform="rotate(2.25)" points="184,-0.8 222,-0.97 222.01,2.91 221.9,6.78 183.91,5.62" fill="url(#ga_2250)"/><polygon transform="rotate(2.75)" points="184,-0.8 222,-0.97 222.01,2.91 221.9,6.78 183.91,5.62" fill="url(#ga_2750)"/><polygon transform="rotate(3.25)" points="184,-0.8 222,-0.97 222.01,2.91 221.9,6.78 183.91,5.62" fill="url(#ga_3250)"/><polygon transform="rotate(3.75)" points="184,-0.8 222,-0.97 222.01,2.91 221.9,6.78 183.91,5.62" fill="url(#ga_3750)"/><polygon transform="rotate(4.25)" points="184,-0.8 222,-0.97 222.01,2.91 221.9,6.78 183.91,5.62" fill="url(#ga_4250)"/><polygon transform="rotate(4.75)" points="184,-0.8 222,-0.97 222.01,2.91 221.9,6.78 183.91,5.62" fill="url(#ga_4750)"/><polygon transform="rotate(5.25)" points="184,-0.8 222,-0.97 222.01,2.91 221.9,6.78 183.91,5.62" fill="url(#ga_5250)"/><polygon transform="rotate(5.75)" points="184,-0.8 222,-0.97 222.01,2.91 221.9,6.78 183.91,5.62" fill="url(#ga_5750)"/><polygon transform="rotate(6.25)" points="184,-0.8 222,-0.97 222.01,2.91 221.9,6.78 183.91,5.62" fill="url(#ga_6250)"/><polygon transform="rotate(6.75)" points="184,-0.8 222,-0.97 222.01,2.91 221.9,6.78 183.91,5.62" fill="url(#ga_6750)"/><polygon transform="rotate(7.25)" points="184,-0.8 222,-0.97 222.01,2.91 221.9,6.78 183.91,5.62" fill="url(#ga_7250)"/><polygon transform="rotate(7.75)" points="184,-0.8 222,-0.97 222.01,2.91 221.9,6.78 183.91,5.62" fill="url(#ga_7750)"/><polygon transform="rotate(8.25)" points="184,-0.8 222,-0.97 222.01,2.91 221.9,6.78 183.91,5.62" fill="url(#ga_8250)"/><polygon transform="rotate(8.75)" points="184,-0.8 222,-0.97 222.01,2.91 221.9,6.78 183.91,5.62" fill="url(#ga_8750)"/><polygon transform="rotate(9.25)" points="184,-0.8 222,-0.97 222.01,2.91 221.9,6.78 183.91,5.62" fill="url(#ga_9250)"/><polygon transform="rotate(9.75)" points="184,-0.8 222,-0.97 222.01,2.91 221.9,6.78 183.91,5.62" fill="url(#ga_9750)"/><polygon transform="rotate(10.25)" points="184,-0.8 222,-0.97 222.01,2.91 221.9,6.78 183.91,5.62" fill="url(#ga_10250)"/><polygon transform="rotate(10.75)" points="184,-0.8 222,-0.97 222.01,2.91 221.9,6.78 183.91,5.62" fill="url(#ga_10750)"/><polygon transform="rotate(11.25)" points="184,-0.8 222,-0.97 222.01,2.91 221.9,6.78 183.91,5.62" fill="url(#ga_11250)"/><polygon transform="rotate(11.75)" points="184,-0.8 222,-0.97 222.01,2.91 221.9,6.78 183.91,5.62" fill="url(#ga_11750)"/><polygon transform="rotate(12.25)" points="184,-0.8 222,-0.97 222.01,2.91 221.9,6.78 183.91,5.62" fill="url(#ga_12250)"/><polygon transform="rotate(12.75)" points="184,-0.8 222,-0.97 222.01,2.91 221.9,6.78 183.91,5.62" fill="url(#ga_12750)"/><polygon transform="rotate(13.25)" points="184,-0.8 222,-0.97 222.01,2.91 221.9,6.78 183.91,5.62" fill="url(#ga_13250)"/><polygon transform="rotate(13.75)" points="184,-0.8 222,-0.97 222.01,2.91 221.9,6.78 183.91,5.62" fill="url(#ga_13750)"/><polygon transform="rotate(14.25)" points="184,-0.8 222,-0.97 222.01,2.91 221.9,6.78 183.91,5.62" fill="url(#ga_14250)"/><polygon transform="rotate(14.75)" points="184,-0.8 222,-0.97 222.01,2.91 221.9,6.78 183.91,5.62" fill="url(#ga_14750)"/></g>
<g id="fixa"><polygon transform="rotate(-14.75)" points="184,-0.8 222,-0.97 222.01,2.32 221.93,5.62 183.94,4.66" fill="url(#ga_14750)"/><polygon transform="rotate(-14.25)" points="184,-0.8 222,-0.97 222,1.74 221.96,4.46 183.96,3.69" fill="url(#ga_14250)"/><polygon transform="rotate(-13.75)" points="184,-0.8 222,-0.97 222,1.16 221.98,3.29 183.98,2.73" fill="url(#ga_13750)"/><polygon transform="rotate(-13.25)" points="184,-0.8 222,-0.97 222,0.58 221.99,2.13 183.99,1.77" fill="url(#ga_13250)"/><polygon transform="rotate(-12.75)" points="184,-0.8 222,-0.97 222,0 222,0.97 184,0.8" fill="url(#ga_12750)"/></g>
<mask id="rca" maskUnits="userSpaceOnUse" x="-260" y="-260" width="520" height="520"><rect x="-260" y="-260" width="520" height="520" fill="#000"/><circle r="203" fill="none" stroke="#fff" stroke-width="32"/></mask>
<linearGradient id="cba" x1="0" y1="0" x2="0" y2="1"><stop offset="0" stop-color="#f9fb0e"/><stop offset="0.02" stop-color="#f6f313"/><stop offset="0.03" stop-color="#f5eb18"/><stop offset="0.05" stop-color="#f5e51d"/><stop offset="0.06" stop-color="#f5de21"/><stop offset="0.08" stop-color="#f7d925"/><stop offset="0.09" stop-color="#f9d329"/><stop offset="0.11" stop-color="#fcce2d"/><stop offset="0.12" stop-color="#fec932"/><stop offset="0.14" stop-color="#ffc436"/><stop offset="0.16" stop-color="#febf3c"/><stop offset="0.17" stop-color="#f9bb43"/><stop offset="0.19" stop-color="#f2b949"/><stop offset="0.2" stop-color="#ebb94d"/><stop offset="0.22" stop-color="#e3b951"/><stop offset="0.23" stop-color="#dbba55"/><stop offset="0.25" stop-color="#d3bb58"/><stop offset="0.27" stop-color="#cbbb5c"/><stop offset="0.28" stop-color="#c2bc5f"/><stop offset="0.3" stop-color="#babd63"/><stop offset="0.31" stop-color="#b1bd66"/><stop offset="0.33" stop-color="#a8be6a"/><stop offset="0.34" stop-color="#9fbe6d"/><stop offset="0.36" stop-color="#95bf71"/><stop offset="0.38" stop-color="#8bbf75"/><stop offset="0.39" stop-color="#80bf7a"/><stop offset="0.41" stop-color="#75bf7e"/><stop offset="0.42" stop-color="#6abe83"/><stop offset="0.44" stop-color="#5ebe89"/><stop offset="0.45" stop-color="#52bd8f"/><stop offset="0.47" stop-color="#47bb95"/><stop offset="0.48" stop-color="#3dba9b"/><stop offset="0.5" stop-color="#33b8a1"/><stop offset="0.52" stop-color="#2ab6a7"/><stop offset="0.53" stop-color="#21b4ac"/><stop offset="0.55" stop-color="#1ab2b1"/><stop offset="0.56" stop-color="#13b0b6"/><stop offset="0.58" stop-color="#0dadbb"/><stop offset="0.59" stop-color="#09abbf"/><stop offset="0.61" stop-color="#06a8c4"/><stop offset="0.62" stop-color="#06a6c7"/><stop offset="0.64" stop-color="#06a2cb"/><stop offset="0.66" stop-color="#069fce"/><stop offset="0.67" stop-color="#079bd0"/><stop offset="0.69" stop-color="#0a97d1"/><stop offset="0.7" stop-color="#0e92d2"/><stop offset="0.72" stop-color="#118dd2"/><stop offset="0.73" stop-color="#1388d3"/><stop offset="0.75" stop-color="#1484d4"/><stop offset="0.77" stop-color="#1480d6"/><stop offset="0.78" stop-color="#127cd8"/><stop offset="0.8" stop-color="#0f78db"/><stop offset="0.81" stop-color="#0c74dd"/><stop offset="0.83" stop-color="#0870df"/><stop offset="0.84" stop-color="#046ce0"/><stop offset="0.86" stop-color="#0267e1"/><stop offset="0.88" stop-color="#0462e0"/><stop offset="0.89" stop-color="#115bdc"/><stop offset="0.91" stop-color="#2152d3"/><stop offset="0.92" stop-color="#2c4ac6"/><stop offset="0.94" stop-color="#3243b9"/><stop offset="0.95" stop-color="#353dac"/><stop offset="0.97" stop-color="#36369f"/><stop offset="0.98" stop-color="#363093"/><stop offset="1" stop-color="#352a87"/></linearGradient>
<linearGradient id="gb_14750" gradientUnits="userSpaceOnUse" x1="187" y1="0" x2="219" y2="0"><stop offset="0" stop-color="#352a87"/><stop offset="0.05" stop-color="#352a87"/><stop offset="0.1" stop-color="#352a87"/><stop offset="0.15" stop-color="#352a87"/><stop offset="0.2" stop-color="#352a87"/><stop offset="0.25" stop-color="#352a87"/><stop offset="0.3" stop-color="#352a87"/><stop offset="0.35" stop-color="#352a87"/><stop offset="0.4" stop-color="#352a87"/><stop offset="0.45" stop-color="#352a87"/><stop offset="0.5" stop-color="#352a87"/><stop offset="0.55" stop-color="#352a87"/><stop offset="0.6" stop-color="#352a87"/><stop offset="0.65" stop-color="#352a87"/><stop offset="0.7" stop-color="#352a87"/><stop offset="0.75" stop-color="#352a87"/><stop offset="0.8" stop-color="#352a87"/><stop offset="0.85" stop-color="#352a87"/><stop offset="0.9" stop-color="#352a87"/><stop offset="0.95" stop-color="#352a87"/><stop offset="1" stop-color="#352a87"/></linearGradient>
<linearGradient id="gb_14250" gradientUnits="userSpaceOnUse" x1="187" y1="0" x2="219" y2="0"><stop offset="0" stop-color="#352b88"/><stop offset="0.05" stop-color="#352b88"/><stop offset="0.1" stop-color="#352b88"/><stop offset="0.15" stop-color="#352b88"/><stop offset="0.2" stop-color="#352b88"/><stop offset="0.25" stop-color="#352b88"/><stop offset="0.3" stop-color="#352b88"/><stop offset="0.35" stop-color="#352b88"/><stop offset="0.4" stop-color="#352b88"/><stop offset="0.45" stop-color="#352b88"/><stop offset="0.5" stop-color="#352b88"/><stop offset="0.55" stop-color="#352b88"/><stop offset="0.6" stop-color="#352b88"/><stop offset="0.65" stop-color="#352b88"/><stop offset="0.7" stop-color="#352b88"/><stop offset="0.75" stop-color="#352b88"/><stop offset="0.8" stop-color="#352b88"/><stop offset="0.85" stop-color="#352b88"/><stop offset="0.9" stop-color="#352b88"/><stop offset="0.95" stop-color="#352b88"/><stop offset="1" stop-color="#352b88"/></linearGradient>
<linearGradient id="gb_13750" gradientUnits="userSpaceOnUse" x1="187" y1="0" x2="219" y2="0"><stop offset="0" stop-color="#362d8d"/><stop offset="0.05" stop-color="#362d8d"/><stop offset="0.1" stop-color="#362d8d"/><stop offset="0.15" stop-color="#362d8d"/><stop offset="0.2" stop-color="#362d8d"/><stop offset="0.25" stop-color="#362d8d"/><stop offset="0.3" stop-color="#362d8d"/><stop offset="0.35" stop-color="#362d8d"/><stop offset="0.4" stop-color="#362d8d"/><stop offset="0.45" stop-color="#362d8d"/><stop offset="0.5" stop-color="#362d8d"/><stop offset="0.55" stop-color="#362d8d"/><stop offset="0.6" stop-color="#362d8d"/><stop offset="0.65" stop-color="#362d8d"/><stop offset="0.7" stop-color="#362d8d"/><stop offset="0.75" stop-color="#362d8d"/><stop offset="0.8" stop-color="#362d8d"/><stop offset="0.85" stop-color="#362d8d"/><stop offset="0.9" stop-color="#362d8d"/><stop offset="0.95" stop-color="#362d8d"/><stop offset="1" stop-color="#362d8d"/></linearGradient>
<linearGradient id="gb_13250" gradientUnits="userSpaceOnUse" x1="187" y1="0" x2="219" y2="0"><stop offset="0" stop-color="#363296"/><stop offset="0.05" stop-color="#363296"/><stop offset="0.1" stop-color="#363296"/><stop offset="0.15" stop-color="#363296"/><stop offset="0.2" stop-color="#363296"/><stop offset="0.25" stop-color="#363296"/><stop offset="0.3" stop-color="#363296"/><stop offset="0.35" stop-color="#363296"/><stop offset="0.4" stop-color="#363296"/><stop offset="0.45" stop-color="#363296"/><stop offset="0.5" stop-color="#363296"/><stop offset="0.55" stop-color="#363296"/><stop offset="0.6" stop-color="#363296"/><stop offset="0.65" stop-color="#363296"/><stop offset="0.7" stop-color="#363296"/><stop offset="0.75" stop-color="#363296"/><stop offset="0.8" stop-color="#363296"/><stop offset="0.85" stop-color="#363296"/><stop offset="0.9" stop-color="#363296"/><stop offset="0.95" stop-color="#363296"/><stop offset="1" stop-color="#363296"/></linearGradient>
<linearGradient id="gb_12750" gradientUnits="userSpaceOnUse" x1="187" y1="0" x2="219" y2="0"><stop offset="0" stop-color="#3638a2"/><stop offset="0.05" stop-color="#3638a2"/><stop offset="0.1" stop-color="#3638a2"/><stop offset="0.15" stop-color="#3638a2"/><stop offset="0.2" stop-color="#3638a2"/><stop offset="0.25" stop-color="#3638a2"/><stop offset="0.3" stop-color="#3638a2"/><stop offset="0.35" stop-color="#3638a2"/><stop offset="0.4" stop-color="#3638a2"/><stop offset="0.45" stop-color="#3638a2"/><stop offset="0.5" stop-color="#3638a2"/><stop offset="0.55" stop-color="#3638a2"/><stop offset="0.6" stop-color="#3638a2"/><stop offset="0.65" stop-color="#3638a2"/><stop offset="0.7" stop-color="#3638a2"/><stop offset="0.75" stop-color="#3638a2"/><stop offset="0.8" stop-color="#3638a2"/><stop offset="0.85" stop-color="#3638a2"/><stop offset="0.9" stop-color="#3638a2"/><stop offset="0.95" stop-color="#3638a2"/><stop offset="1" stop-color="#3638a2"/></linearGradient>
<linearGradient id="gb_12250" gradientUnits="userSpaceOnUse" x1="187" y1="0" x2="219" y2="0"><stop offset="0" stop-color="#343fb1"/><stop offset="0.05" stop-color="#343fb1"/><stop offset="0.1" stop-color="#343fb1"/><stop offset="0.15" stop-color="#343fb1"/><stop offset="0.2" stop-color="#343fb1"/><stop offset="0.25" stop-color="#343fb1"/><stop offset="0.3" stop-color="#343fb1"/><stop offset="0.35" stop-color="#343fb1"/><stop offset="0.4" stop-color="#343fb1"/><stop offset="0.45" stop-color="#343fb1"/><stop offset="0.5" stop-color="#343fb1"/><stop offset="0.55" stop-color="#343fb1"/><stop offset="0.6" stop-color="#343fb1"/><stop offset="0.65" stop-color="#343fb1"/><stop offset="0.7" stop-color="#343fb1"/><stop offset="0.75" stop-color="#343fb1"/><stop offset="0.8" stop-color="#343fb1"/><stop offset="0.85" stop-color="#343fb1"/><stop offset="0.9" stop-color="#343fb1"/><stop offset="0.95" stop-color="#343fb1"/><stop offset="1" stop-color="#343fb1"/></linearGradient>
<linearGradient id="gb_11750" gradientUnits="userSpaceOnUse" x1="187" y1="0" x2="219" y2="0"><stop offset="0" stop-color="#2f47c0"/><stop offset="0.05" stop-color="#2f47c0"/><stop offset="0.1" stop-color="#2f47c0"/><stop offset="0.15" stop-color="#2f47c0"/><stop offset="0.2" stop-color="#2f47c0"/><stop offset="0.25" stop-color="#2f47c0"/><stop offset="0.3" stop-color="#2f47c0"/><stop offset="0.35" stop-color="#2f47c0"/><stop offset="0.4" stop-color="#2f47c0"/><stop offset="0.45" stop-color="#2f47c0"/><stop offset="0.5" stop-color="#2f47c0"/><stop offset="0.55" stop-color="#2f47c0"/><stop offset="0.6" stop-color="#2f47c0"/><stop offset="0.65" stop-color="#2f47c0"/><stop offset="0.7" stop-color="#2f47c0"/><stop offset="0.75" stop-color="#2f47c0"/><stop offset="0.8" stop-color="#2f47c0"/><stop offset="0.85" stop-color="#2f47c0"/><stop offset="0.9" stop-color="#2f47c0"/><stop offset="0.95" stop-color="#2f47c0"/><stop offset="1" stop-color="#2f47c0"/></linearGradient>
<linearGradient id="gb_11250" gradientUnits="userSpaceOnUse" x1="187" y1="0" x2="219" y2="0"><stop offset="0" stop-color="#254fcf"/><stop offset="0.05" stop-color="#254fcf"/><stop offset="0.1" stop-color="#254fcf"/><stop offset="0.15" stop-color="#254fcf"/><stop offset="0.2" stop-color="#254fcf"/><stop offset="0.25" stop-color="#254fcf"/><stop offset="0.3" stop-color="#254fcf"/><stop offset="0.35" stop-color="#254fcf"/><stop offset="0.4" stop-color="#254fcf"/><stop offset="0.45" stop-color="#254fcf"/><stop offset="0.5" stop-color="#254fcf"/><stop offset="0.55" stop-color="#254fcf"/><stop offset="0.6" stop-color="#254fcf"/><stop offset="0.65" stop-color="#254fcf"/><stop offset="0.7" stop-color="#254fcf"/><stop offset="0.75" stop-color="#254fcf"/><stop offset="0.8" stop-color="#254fcf"/><stop offset="0.85" stop-color="#254fcf"/><stop offset="0.9" stop-color="#254fcf"/><stop offset="0.95" stop-color="#254fcf"/><stop offset="1" stop-color="#254fcf"/></linearGradient>
<linearGradient id="gb_10750" gradientUnits="userSpaceOnUse" x1="187" y1="0" x2="219" y2="0"><stop offset="0" stop-color="#1658da"/><stop offset="0.05" stop-color="#1658da"/><stop offset="0.1" stop-color="#1658da"/><stop offset="0.15" stop-color="#1658da"/><stop offset="0.2" stop-color="#1658da"/><stop offset="0.25" stop-color="#1658da"/><stop offset="0.3" stop-color="#1658da"/><stop offset="0.35" stop-color="#1658da"/><stop offset="0.4" stop-color="#1658da"/><stop offset="0.45" stop-color="#1658da"/><stop offset="0.5" stop-color="#1658da"/><stop offset="0.55" stop-color="#1658da"/><stop offset="0.6" stop-color="#1658da"/><stop offset="0.65" stop-color="#1658da"/><stop offset="0.7" stop-color="#1658da"/><stop offset="0.75" stop-color="#1658da"/><stop offset="0.8" stop-color="#1658da"/><stop offset="0.85" stop-color="#1658da"/><stop offset="0.9" stop-color="#1658da"/><stop offset="0.95" stop-color="#1658da"/><stop offset="1" stop-color="#1658da"/></linearGradient>
<linearGradient id="gb_10250" gradientUnits="userSpaceOnUse" x1="187" y1="0" x2="219" y2="0"><stop offset="0" stop-color="#095fdf"/><stop offset="0.05" stop-color="#095fdf"/><stop offset="0.1" stop-color="#095fdf"/><stop offset="0.15" stop-color="#095fdf"/><stop offset="0.2" stop-color="#095fdf"/><stop offset="0.25" stop-color="#095fdf"/><stop offset="0.3" stop-color="#0363e1"/><stop offset="0.35" stop-color="#0364e1"/><stop offset="0.4" stop-color="#0462e1"/><stop offset="0.45" stop-color="#095fdf"/><stop offset="0.5" stop-color="#095fdf"/><stop offset="0.55" stop-color="#095fdf"/><stop offset="0.6" stop-color="#095fdf"/><stop offset="0.65" stop-color="#095fdf"/><stop offset="0.7" stop-color="#095fdf"/><stop offset="0.75" stop-color="#095fdf"/><stop offset="0.8" stop-color="#095fdf"/><stop offset="0.85" stop-color="#095fdf"/><stop offset="0.9" stop-color="#095fdf"/><stop offset="0.95" stop-color="#095fdf"/><stop offset="1" stop-color="#095fdf"/></linearGradient>
<linearGradient id="gb_9750" gradientUnits="userSpaceOnUse" x1="187" y1="0" x2="219" y2="0"><stop offset="0" stop-color="#0364e1"/><stop offset="0.05" stop-color="#0364e1"/><stop offset="0.1" stop-color="#0364e1"/><stop offset="0.15" stop-color="#0364e1"/><stop offset="0.2" stop-color="#0364e1"/><stop offset="0.25" stop-color="#0364e1"/><stop offset="0.3" stop-color="#066fdf"/><stop offset="0.35" stop-color="#066fdf"/><stop offset="0.4" stop-color="#046ce0"/><stop offset="0.45" stop-color="#026ae1"/><stop offset="0.5" stop-color="#0267e1"/><stop offset="0.55" stop-color="#0364e1"/><stop offset="0.6" stop-color="#0364e1"/><stop offset="0.65" stop-color="#0364e1"/><stop offset="0.7" stop-color="#0364e1"/><stop offset="0.75" stop-color="#0364e1"/><stop offset="0.8" stop-color="#0364e1"/><stop offset="0.85" stop-color="#0364e1"/><stop offset="0.9" stop-color="#0364e1"/><stop offset="0.95" stop-color="#0364e1"/><stop offset="1" stop-color="#0364e1"/></linearGradient>
<linearGradient id="gb_9250" gradientUnits="userSpaceOnUse" x1="187" y1="0" x2="219" y2="0"><stop offset="0" stop-color="#0268e1"/><stop offset="0.05" stop-color="#0268e1"/><stop offset="0.1" stop-color="#0268e1"/><stop offset="0.15" stop-color="#0268e1"/><stop offset="0.2" stop-color="#0268e1"/><stop offset="0.25" stop-color="#0972de"/><stop offset="0.3" stop-color="#1079da"/><stop offset="0.35" stop-color="#0f77db"/><stop offset="0.4" stop-color="#0c74dd"/><stop offset="0.45" stop-color="#0972de"/><stop offset="0.5" stop-color="#066edf"/><stop offset="0.55" stop-color="#036be1"/><stop offset="0.6" stop-color="#0268e1"/><stop offset="0.65" stop-color="#0268e1"/><stop offset="0.7" stop-color="#0268e1"/><stop offset="0.75" stop-color="#0268e1"/><stop offset="0.8" stop-color="#0268e1"/><stop offset="0.85" stop-color="#0268e1"/><stop offset="0.9" stop-color="#0268e1"/><stop offset="0.95" stop-color="#0268e1"/><stop offset="1" stop-color="#0268e1"/></linearGradient>
<linearGradient id="gb_8750" gradientUnits="userSpaceOnUse" x1="187" y1="0" x2="219" y2="0"><stop offset="0" stop-color="#036ae1"/><stop offset="0.05" stop-color="#036ae1"/><stop offset="0.1" stop-color="#036ae1"/><stop offset="0.15" stop-color="#036ae1"/><stop offset="0.2" stop-color="#036ae1"/><stop offset="0.25" stop-color="#137fd7"/><stop offset="0.3" stop-color="#1482d5"/><stop offset="0.35" stop-color="#1480d6"/><stop offset="0.4" stop-color="#127bd9"/><stop offset="0.45" stop-color="#1078da"/><stop offset="0.5" stop-color="#0d75dc"/><stop offset="0.55" stop-color="#0971de"/><stop offset="0.6" stop-color="#056ee0"/><stop offset="0.65" stop-color="#036be0"/><stop offset="0.7" stop-color="#036ae1"/><stop offset="0.75" stop-color="#036ae1"/><stop offset="0.8" stop-color="#036ae1"/><stop offset="0.85" stop-color="#036ae1"/><stop offset="0.9" stop-color="#036ae1"/><stop offset="0.95" stop-color="#036ae1"/><stop offset="1" stop-color="#036ae1"/></linearGradient>
<linearGradient id="gb_8250" gradientUnits="userSpaceOnUse" x1="187" y1="0" x2="219" y2="0"><stop offset="0" stop-color="#046ce0"/><stop offset="0.05" stop-color="#046ce0"/><stop offset="0.1" stop-color="#046ce0"/><stop offset="0.15" stop-color="#046ce0"/><stop offset="0.2" stop-color="#137dd8"/><stop offset="0.25" stop-color="#0f8fd2"/><stop offset="0.3" stop-color="#118dd2"/><stop offset="0.35" stop-color="#1388d3"/><stop offset="0.4" stop-color="#1482d5"/><stop offset="0.45" stop-color="#137fd7"/><stop offset="0.5" stop-color="#127bd9"/><stop offset="0.55" stop-color="#0f77db"/><stop offset="0.6" stop-color="#0b73dd"/><stop offset="0.65" stop-color="#0871de"/><stop offset="0.7" stop-color="#056ee0"/><stop offset="0.75" stop-color="#046ce0"/><stop offset="0.8" stop-color="#046ce0"/><stop offset="0.85" stop-color="#046ce0"/><stop offset="0.9" stop-color="#046ce0"/><stop offset="0.95" stop-color="#046ce0"/><stop offset="1" stop-color="#046ce0"/></linearGradient>
<linearGradient id="gb_7750" gradientUnits="userSpaceOnUse" x1="187" y1="0" x2="219" y2="0"><stop offset="0" stop-color="#056ee0"/><stop offset="0.05" stop-color="#056ee0"/><stop offset="0.1" stop-color="#056ee0"/><stop offset="0.15" stop-color="#118dd2"/><stop offset="0.2" stop-color="#089bd0"/><stop offset="0.25" stop-color="#06a0cd"/><stop offset="0.3" stop-color="#0899d1"/><stop offset="0.35" stop-color="#0d92d2"/><stop offset="0.4" stop-color="#138ad3"/><stop offset="0.45" stop-color="#1486d4"/><stop offset="0.5" stop-color="#1481d6"/><stop offset="0.55" stop-color="#127cd8"/><stop offset="0.6" stop-color="#1078da"/><stop offset="0.65" stop-color="#0d76dc"/><stop offset="0.7" stop-color="#0a73dd"/><stop offset="0.75" stop-color="#0770df"/><stop offset="0.8" stop-color="#056ee0"/><stop offset="0.85" stop-color="#056ee0"/><stop offset="0.9" stop-color="#056ee0"/><stop offset="0.95" stop-color="#056ee0"/><stop offset="1" stop-color="#056ee0"/></linearGradient>
<linearGradient id="gb_7250" gradientUnits="userSpaceOnUse" x1="187" y1="0" x2="219" y2="0"><stop offset="0" stop-color="#1482d5"/><stop offset="0.05" stop-color="#0eaeba"/><stop offset="0.1" stop-color="#17b1b3"/><stop offset="0.15" stop-color="#1ab2b1"/><stop offset="0.2" stop-color="#16b1b4"/><stop offset="0.25" stop-color="#09abbf"/><stop offset="0.3" stop-color="#06a2cc"/><stop offset="0.35" stop-color="#079bd0"/><stop offset="0.4" stop-color="#0d92d2"/><stop offset="0.45" stop-color="#118dd2"/><stop offset="0.5" stop-color="#1487d3"/><stop offset="0.55" stop-color="#1482d5"/><stop offset="0.6" stop-color="#137dd8"/><stop offset="0.65" stop-color="#117ad9"/><stop offset="0.7" stop-color="#0f77db"/><stop offset="0.75" stop-color="#0c74dd"/><stop offset="0.8" stop-color="#0871de"/><stop offset="0.85" stop-color="#066fdf"/><stop offset="0.9" stop-color="#066fdf"/><stop offset="0.95" stop-color="#066fdf"/><stop offset="1" stop-color="#066fdf"/></linearGradient>
<linearGradient id="gb_6750" gradientUnits="userSpaceOnUse" x1="187" y1="0" x2="219" y2="0"><stop offset="0" stop-color="#f5e81a"/><stop offset="0.05" stop-color="#fdbe3d"/><stop offset="0.1" stop-color="#d3bb58"/><stop offset="0.15" stop-color="#8ebf74"/><stop offset="0.2" stop-color="#61be88"/><stop offset="0.25" stop-color="#22b4ac"/><stop offset="0.3" stop-color="#06a8c3"/><stop offset="0.35" stop-color="#06a2cb"/><stop offset="0.4" stop-color="#089ad1"/><stop offset="0.45" stop-color="#0c94d2"/><stop offset="0.5" stop-color="#118dd2"/><stop offset="0.55" stop-color="#1487d3"/><stop offset="0.6" stop-color="#1482d5"/><stop offset="0.65" stop-color="#137fd7"/><stop offset="0.7" stop-color="#127cd9"/><stop offset="0.75" stop-color="#1078da"/><stop offset="0.8" stop-color="#0d75dc"/><stop offset="0.85" stop-color="#0971de"/><stop offset="0.9" stop-color="#0770df"/><stop offset="0.95" stop-color="#0770df"/><stop offset="1" stop-color="#0770df"/></linearGradient>
<linearGradient id="gb_6250" gradientUnits="userSpaceOnUse" x1="187" y1="0" x2="219" y2="0"><stop offset="0" stop-color="#f6f114"/><stop offset="0.05" stop-color="#f8d727"/><stop offset="0.1" stop-color="#ffc338"/><stop offset="0.15" stop-color="#cfbb5a"/><stop offset="0.2" stop-color="#a2be6c"/><stop offset="0.25" stop-color="#44bb97"/><stop offset="0.3" stop-color="#0eaeba"/><stop offset="0.35" stop-color="#06a7c5"/><stop offset="0.4" stop-color="#06a0cd"/><stop offset="0.45" stop-color="#089ad0"/><stop offset="0.5" stop-color="#0c94d2"/><stop offset="0.55" stop-color="#118cd2"/><stop offset="0.6" stop-color="#1486d3"/><stop offset="0.65" stop-color="#1483d5"/><stop offset="0.7" stop-color="#1380d6"/><stop offset="0.75" stop-color="#127cd8"/><stop offset="0.8" stop-color="#1079da"/><stop offset="0.85" stop-color="#0d75dc"/><stop offset="0.9" stop-color="#0871de"/><stop offset="0.95" stop-color="#0871de"/><stop offset="1" stop-color="#0871de"/></linearGradient>
<linearGradient id="gb_5750" gradientUnits="userSpaceOnUse" x1="187" y1="0" x2="219" y2="0"><stop offset="0" stop-color="#f7f412"/><stop offset="0.05" stop-color="#f5e020"/><stop offset="0.1" stop-color="#fbd12b"/><stop offset="0.15" stop-color="#efb94b"/><stop offset="0.2" stop-color="#c7bc5d"/><stop offset="0.25" stop-color="#68be84"/><stop offset="0.3" stop-color="#1bb2b0"/><stop offset="0.35" stop-color="#0aacbe"/><stop offset="0.4" stop-color="#06a4c9"/><stop offset="0.45" stop-color="#069fce"/><stop offset="0.5" stop-color="#0899d1"/><stop offset="0.55" stop-color="#0e92d2"/><stop offset="0.6" stop-color="#128bd2"/><stop offset="0.65" stop-color="#1487d3"/><stop offset="0.7" stop-color="#1483d5"/><stop offset="0.75" stop-color="#1480d6"/><stop offset="0.8" stop-color="#127cd8"/><stop offset="0.85" stop-color="#0f78db"/><stop offset="0.9" stop-color="#0c74dd"/><stop offset="0.95" stop-color="#0972de"/><stop offset="1" stop-color="#0972de"/></linearGradient>
<linearGradient id="gb_5250" gradientUnits="userSpaceOnUse" x1="187" y1="0" x2="219" y2="0"><stop offset="0" stop-color="#f7f511"/><stop offset="0.05" stop-color="#f5e51c"/><stop offset="0.1" stop-color="#f7d826"/><stop offset="0.15" stop-color="#fdbe3d"/><stop offset="0.2" stop-color="#deba53"/><stop offset="0.25" stop-color="#86bf77"/><stop offset="0.3" stop-color="#2ab6a6"/><stop offset="0.35" stop-color="#12afb7"/><stop offset="0.4" stop-color="#06a8c4"/><stop offset="0.45" stop-color="#06a3ca"/><stop offset="0.5" stop-color="#079dcf"/><stop offset="0.55" stop-color="#0a96d1"/><stop offset="0.6" stop-color="#0f90d2"/><stop offset="0.65" stop-color="#128bd2"/><stop offset="0.7" stop-color="#1487d3"/><stop offset="0.75" stop-color="#1483d5"/><stop offset="0.8" stop-color="#137fd7"/><stop offset="0.85" stop-color="#117bd9"/><stop offset="0.9" stop-color="#0e77db"/><stop offset="0.95" stop-color="#0a72de"/><stop offset="1" stop-color="#0a72de"/></linearGradient>
<linearGradient id="gb_4750" gradientUnits="userSpaceOnUse" x1="187" y1="0" x2="219" y2="0"><stop offset="0" stop-color="#f8f611"/><stop offset="0.05" stop-color="#f5e81a"/><stop offset="0.1" stop-color="#f6dc23"/><stop offset="0.15" stop-color="#fec635"/><stop offset="0.2" stop-color="#edb94c"/><stop offset="0.25" stop-color="#9cbf6f"/><stop offset="0.3" stop-color="#3ab99d"/><stop offset="0.35" stop-color="#1cb3b0"/><stop offset="0.4" stop-color="#09abbf"/><stop offset="0.45" stop-color="#06a6c6"/><stop offset="0.5" stop-color="#06a1cc"/><stop offset="0.55" stop-color="#089ad0"/><stop offset="0.6" stop-color="#0c94d2"/><stop offset="0.65" stop-color="#108fd2"/><stop offset="0.7" stop-color="#128ad3"/><stop offset="0.75" stop-color="#1486d4"/><stop offset="0.8" stop-color="#1482d5"/><stop offset="0.85" stop-color="#137ed7"/><stop offset="0.9" stop-color="#1079da"/><stop offset="0.95" stop-color="#0d75dc"/><stop offset="1" stop-color="#0a73de"/></linearGradient>
<linearGradient id="gb_4250" gradientUnits="userSpaceOnUse" x1="187" y1="0" x2="219" y2="0"><stop offset="0" stop-color="#f8f710"/><stop offset="0.05" stop-color="#f5ea19"/><stop offset="0.1" stop-color="#f5e020"/><stop offset="0.15" stop-color="#fdcb30"/><stop offset="0.2" stop-color="#f8ba44"/><stop offset="0.25" stop-color="#acbe68"/><stop offset="0.3" stop-color="#49bc94"/><stop offset="0.35" stop-color="#26b5a9"/><stop offset="0.4" stop-color="#0dadbb"/><stop offset="0.45" stop-color="#07a9c3"/><stop offset="0.5" stop-color="#06a4c9"/><stop offset="0.55" stop-color="#079ecf"/><stop offset="0.6" stop-color="#0997d1"/><stop offset="0.65" stop-color="#0d93d2"/><stop offset="0.7" stop-color="#108ed2"/><stop offset="0.75" stop-color="#1389d3"/><stop offset="0.8" stop-color="#1484d4"/><stop offset="0.85" stop-color="#1480d6"/><stop offset="0.9" stop-color="#127cd8"/><stop offset="0.95" stop-color="#0f77db"/><stop offset="1" stop-color="#0b73dd"/></linearGradient>
<linearGradient id="gb_3750" gradientUnits="userSpaceOnUse" x1="187" y1="0" x2="219" y2="0"><stop offset="0" stop-color="#f8f710"/><stop offset="0.05" stop-color="#f5ec18"/><stop offset="0.1" stop-color="#f5e21f"/><stop offset="0.15" stop-color="#fbcf2d"/><stop offset="0.2" stop-color="#fdbe3e"/><stop offset="0.25" stop-color="#b8bd63"/><stop offset="0.3" stop-color="#58bd8c"/><stop offset="0.35" stop-color="#30b7a3"/><stop offset="0.4" stop-color="#13b0b6"/><stop offset="0.45" stop-color="#09abbf"/><stop offset="0.5" stop-color="#06a6c7"/><stop offset="0.55" stop-color="#06a0cd"/><stop offset="0.6" stop-color="#089ad0"/><stop offset="0.65" stop-color="#0a96d1"/><stop offset="0.7" stop-color="#0e91d2"/><stop offset="0.75" stop-color="#128cd2"/><stop offset="0.8" stop-color="#1487d3"/><stop offset="0.85" stop-color="#1482d5"/><stop offset="0.9" stop-color="#137ed7"/><stop offset="0.95" stop-color="#1079da"/><stop offset="1" stop-color="#0c74dd"/></linearGradient>
<linearGradient id="gb_3250" gradientUnits="userSpaceOnUse" x1="187" y1="0" x2="219" y2="0"><stop offset="0" stop-color="#f8f810"/><stop offset="0.05" stop-color="#f5ed17"/><stop offset="0.1" stop-color="#f5e41d"/><stop offset="0.15" stop-color="#fad22b"/><stop offset="0.2" stop-color="#fec139"/><stop offset="0.25" stop-color="#c1bc60"/><stop offset="0.3" stop-color="#64be86"/><stop offset="0.35" stop-color="#39b99d"/><stop offset="0.4" stop-color="#18b2b2"/><stop offset="0.45" stop-color="#0cadbb"/><stop offset="0.5" stop-color="#06a8c4"/><stop offset="0.55" stop-color="#06a2cb"/><stop offset="0.6" stop-color="#079dcf"/><stop offset="0.65" stop-color="#0999d1"/><stop offset="0.7" stop-color="#0c94d2"/><stop offset="0.75" stop-color="#108ed2"/><stop offset="0.8" stop-color="#1389d3"/><stop offset="0.85" stop-color="#1484d4"/><stop offset="0.9" stop-color="#137fd6"/><stop offset="0.95" stop-color="#117bd9"/><stop offset="1" stop-color="#0d76dc"/></linearGradient>
<linearGradient id="gb_2750" gradientUnits="userSpaceOnUse" x1="187" y1="0" x2="219" y2="0"><stop offset="0" stop-color="#f8f810"/><stop offset="0.05" stop-color="#f5ee16"/><stop offset="0.1" stop-color="#f5e51c"/><stop offset="0.15" stop-color="#f9d429"/><stop offset="0.2" stop-color="#ffc436"/><stop offset="0.25" stop-color="#c8bc5d"/><stop offset="0.3" stop-color="#6fbf81"/><stop offset="0.35" stop-color="#41ba98"/><stop offset="0.4" stop-color="#1eb3ae"/><stop offset="0.45" stop-color="#10afb8"/><stop offset="0.5" stop-color="#07aac1"/><stop offset="0.55" stop-color="#06a4c9"/><stop offset="0.6" stop-color="#069fce"/><stop offset="0.65" stop-color="#089bd0"/><stop offset="0.7" stop-color="#0a96d1"/><stop offset="0.75" stop-color="#0e91d2"/><stop offset="0.8" stop-color="#128bd2"/><stop offset="0.85" stop-color="#1486d4"/><stop offset="0.9" stop-color="#1481d6"/><stop offset="0.95" stop-color="#127cd8"/><stop offset="1" stop-color="#0f77db"/></linearGradient>
<linearGradient id="gb_2250" gradientUnits="userSpaceOnUse" x1="187" y1="0" x2="219" y2="0"><stop offset="0" stop-color="#f8f810"/><stop offset="0.05" stop-color="#f5ee16"/><stop offset="0.1" stop-color="#f5e61c"/><stop offset="0.15" stop-color="#f9d528"/><stop offset="0.2" stop-color="#fec634"/><stop offset="0.25" stop-color="#cebb5a"/><stop offset="0.3" stop-color="#77bf7e"/><stop offset="0.35" stop-color="#48bb94"/><stop offset="0.4" stop-color="#23b4ab"/><stop offset="0.45" stop-color="#13b0b6"/><stop offset="0.5" stop-color="#09abbf"/><stop offset="0.55" stop-color="#06a6c7"/><stop offset="0.6" stop-color="#06a0cd"/><stop offset="0.65" stop-color="#079ccf"/><stop offset="0.7" stop-color="#0998d1"/><stop offset="0.75" stop-color="#0d93d2"/><stop offset="0.8" stop-color="#118dd2"/><stop offset="0.85" stop-color="#1487d3"/><stop offset="0.9" stop-color="#1482d5"/><stop offset="0.95" stop-color="#137dd7"/><stop offset="1" stop-color="#1078da"/></linearGradient>
<linearGradient id="gb_1750" gradientUnits="userSpaceOnUse" x1="187" y1="0" x2="219" y2="0"><stop offset="0" stop-color="#f8f810"/><stop offset="0.05" stop-color="#f6ef16"/><stop offset="0.1" stop-color="#f5e61b"/><stop offset="0.15" stop-color="#f8d627"/><stop offset="0.2" stop-color="#fec833"/><stop offset="0.25" stop-color="#d2bb59"/><stop offset="0.3" stop-color="#7dbf7b"/><stop offset="0.35" stop-color="#4ebc91"/><stop offset="0.4" stop-color="#26b5a9"/><stop offset="0.45" stop-color="#16b1b4"/><stop offset="0.5" stop-color="#0aacbd"/><stop offset="0.55" stop-color="#06a7c6"/><stop offset="0.6" stop-color="#06a1cc"/><stop offset="0.65" stop-color="#079ecf"/><stop offset="0.7" stop-color="#0899d1"/><stop offset="0.75" stop-color="#0c94d2"/><stop offset="0.8" stop-color="#108ed2"/><stop offset="0.85" stop-color="#1389d3"/><stop offset="0.9" stop-color="#1483d4"/><stop offset="0.95" stop-color="#137ed7"/><stop offset="1" stop-color="#1079da"/></linearGradient>
<linearGradient id="gb_1250" gradientUnits="userSpaceOnUse" x1="187" y1="0" x2="219" y2="0"><stop offset="0" stop-color="#f8f810"/><stop offset="0.05" stop-color="#f6ef16"/><stop offset="0.1" stop-color="#f5e71b"/><stop offset="0.15" stop-color="#f8d727"/><stop offset="0.2" stop-color="#fec932"/><stop offset="0.25" stop-color="#d5ba57"/><stop offset="0.3" stop-color="#81bf79"/><stop offset="0.35" stop-color="#53bd8f"/><stop offset="0.4" stop-color="#2ab6a7"/><stop offset="0.45" stop-color="#19b2b2"/><stop offset="0.5" stop-color="#0cadbc"/><stop offset="0.55" stop-color="#06a7c5"/><stop offset="0.6" stop-color="#06a2cb"/><stop offset="0.65" stop-color="#069fce"/><stop offset="0.7" stop-color="#089ad0"/><stop offset="0.75" stop-color="#0b95d2"/><stop offset="0.8" stop-color="#0f8fd2"/><stop offset="0.85" stop-color="#138ad3"/><stop offset="0.9" stop-color="#1484d4"/><stop offset="0.95" stop-color="#137fd7"/><stop offset="1" stop-color="#117ad9"/></linearGradient>
<linearGradient id="gb_750" gradientUnits="userSpaceOnUse" x1="187" y1="0" x2="219" y2="0"><stop offset="0" stop-color="#f8f80f"/><stop offset="0.05" stop-color="#f6ef15"/><stop offset="0.1" stop-color="#f5e71b"/><stop offset="0.15" stop-color="#f8d726"/><stop offset="0.2" stop-color="#fdca31"/><stop offset="0.25" stop-color="#d7ba57"/><stop offset="0.3" stop-color="#84bf78"/><stop offset="0.35" stop-color="#56bd8d"/><stop offset="0.4" stop-color="#2cb6a5"/><stop offset="0.45" stop-color="#1ab2b1"/><stop offset="0.5" stop-color="#0dadbb"/><stop offset="0.55" stop-color="#06a8c4"/><stop offset="0.6" stop-color="#06a3cb"/><stop offset="0.65" stop-color="#069fce"/><stop offset="0.7" stop-color="#089bd0"/><stop offset="0.75" stop-color="#0b96d1"/><stop offset="0.8" stop-color="#0f90d2"/><stop offset="0.85" stop-color="#128ad3"/><stop offset="0.9" stop-color="#1485d4"/><stop offset="0.95" stop-color="#1480d6"/><stop offset="1" stop-color="#117bd9"/></linearGradient>
<linearGradient id="gb_250" gradientUnits="userSpaceOnUse" x1="187" y1="0" x2="219" y2="0"><stop offset="0" stop-color="#f8f80f"/><stop offset="0.05" stop-color="#f6ef15"/><stop offset="0.1" stop-color="#f5e71b"/><stop offset="0.15" stop-color="#f8d826"/><stop offset="0.2" stop-color="#fdca31"/><stop offset="0.25" stop-color="#d8ba56"/><stop offset="0.3" stop-color="#86bf77"/><stop offset="0.35" stop-color="#57bd8c"/><stop offset="0.4" stop-color="#2db7a5"/><stop offset="0.45" stop-color="#1bb2b0"/><stop offset="0.5" stop-color="#0daebb"/><stop offset="0.55" stop-color="#06a8c4"/><stop offset="0.6" stop-color="#06a3ca"/><stop offset="0.65" stop-color="#069fce"/><stop offset="0.7" stop-color="#079bd0"/><stop offset="0.75" stop-color="#0a96d1"/><stop offset="0.8" stop-color="#0f90d2"/><stop offset="0.85" stop-color="#128bd3"/><stop offset="0.9" stop-color="#1485d4"/><stop offset="0.95" stop-color="#1480d6"/><stop offset="1" stop-color="#117bd9"/></linearGradient>
<g id="secb"><polygon transform="rotate(-14.75)" points="184,-0.8 222,-0.97 222.01,2.91 221.9,6.78 183.91,5.62" fill="url(#gb_14750)"/><polygon transform="rotate(-14.25)" points="184,-0.8 222,-0.97 222.01,2.91 221.9,6.78 183.91,5.62" fill="url(#gb_14250)"/><polygon transform="rotate(-13.75)" points="184,-0.8 222,-0.97 222.01,2.91 221.9,6.78 183.91,5.62" fill="url(#gb_13750)"/><polygon transform="rotate(-13.25)" points="184,-0.8 222,-0.97 222.01,2.91 221.9,6.78 183.91,5.62" fill="url(#gb_13250)"/><polygon transform="rotate(-12.75)" points="184,-0.8 222,-0.97 222.01,2.91 221.9,6.78 183.91,5.62" fill="url(#gb_12750)"/><polygon transform="rotate(-12.25)" points="184,-0.8 222,-0.97 222.01,2.91 221.9,6.78 183.91,5.62" fill="url(#gb_12250)"/><polygon transform="rotate(-11.75)" points="184,-0.8 222,-0.97 222.01,2.91 221.9,6.78 183.91,5.62" fill="url(#gb_11750)"/><polygon transform="rotate(-11.25)" points="184,-0.8 222,-0.97 222.01,2.91 221.9,6.78 183.91,5.62" fill="url(#gb_11250)"/><polygon transform="rotate(-10.75)" points="184,-0.8 222,-0.97 222.01,2.91 221.9,6.78 183.91,5.62" fill="url(#gb_10750)"/><polygon transform="rotate(-10.25)" points="184,-0.8 222,-0.97 222.01,2.91 221.9,6.78 183.91,5.62" fill="url(#gb_10250)"/><polygon transform="rotate(-9.75)" points="184,-0.8 222,-0.97 222.01,2.91 221.9,6.78 183.91,5.62" fill="url(#gb_9750)"/><polygon transform="rotate(-9.25)" points="184,-0.8 222,-0.97 222.01,2.91 221.9,6.78 183.91,5.62" fill="url(#gb_9250)"/><polygon transform="rotate(-8.75)" points="184,-0.8 222,-0.97 222.01,2.91 221.9,6.78 183.91,5.62" fill="url(#gb_8750)"/><polygon transform="rotate(-8.25)" points="184,-0.8 222,-0.97 222.01,2.91 221.9,6.78 183.91,5.62" fill="url(#gb_8250)"/><polygon transform="rotate(-7.75)" points="184,-0.8 222,-0.97 222.01,2.91 221.9,6.78 183.91,5.62" fill="url(#gb_7750)"/><polygon transform="rotate(-7.25)" points="184,-0.8 222,-0.97 222.01,2.91 221.9,6.78 183.91,5.62" fill="url(#gb_7250)"/><polygon transform="rotate(-6.75)" points="184,-0.8 222,-0.97 222.01,2.91 221.9,6.78 183.91,5.62" fill="url(#gb_6750)"/><polygon transform="rotate(-6.25)" points="184,-0.8 222,-0.97 222.01,2.91 221.9,6.78 183.91,5.62" fill="url(#gb_6250)"/><polygon transform="rotate(-5.75)" points="184,-0.8 222,-0.97 222.01,2.91 221.9,6.78 183.91,5.62" fill="url(#gb_5750)"/><polygon transform="rotate(-5.25)" points="184,-0.8 222,-0.97 222.01,2.91 221.9,6.78 183.91,5.62" fill="url(#gb_5250)"/><polygon transform="rotate(-4.75)" points="184,-0.8 222,-0.97 222.01,2.91 221.9,6.78 183.91,5.62" fill="url(#gb_4750)"/><polygon transform="rotate(-4.25)" points="184,-0.8 222,-0.97 222.01,2.91 221.9,6.78 183.91,5.62" fill="url(#gb_4250)"/><polygon transform="rotate(-3.75)" points="184,-0.8 222,-0.97 222.01,2.91 221.9,6.78 183.91,5.62" fill="url(#gb_3750)"/><polygon transform="rotate(-3.25)" points="184,-0.8 222,-0.97 222.01,2.91 221.9,6.78 183.91,5.62" fill="url(#gb_3250)"/><polygon transform="rotate(-2.75)" points="184,-0.8 222,-0.97 222.01,2.91 221.9,6.78 183.91,5.62" fill="url(#gb_2750)"/><polygon transform="rotate(-2.25)" points="184,-0.8 222,-0.97 222.01,2.91 221.9,6.78 183.91,5.62" fill="url(#gb_2250)"/><polygon transform="rotate(-1.75)" points="184,-0.8 222,-0.97 222.01,2.91 221.9,6.78 183.91,5.62" fill="url(#gb_1750)"/><polygon transform="rotate(-1.25)" points="184,-0.8 222,-0.97 222.01,2.91 221.9,6.78 183.91,5.62" fill="url(#gb_1250)"/><polygon transform="rotate(-0.75)" points="184,-0.8 222,-0.97 222.01,2.91 221.9,6.78 183.91,5.62" fill="url(#gb_750)"/><polygon transform="rotate(-0.25)" points="184,-0.8 222,-0.97 222.01,2.91 221.9,6.78 183.91,5.62" fill="url(#gb_250)"/><polygon transform="rotate(0.25)" points="184,-0.8 222,-0.97 222.01,2.91 221.9,6.78 183.91,5.62" fill="url(#gb_250)"/><polygon transform="rotate(0.75)" points="184,-0.8 222,-0.97 222.01,2.91 221.9,6.78 183.91,5.62" fill="url(#gb_750)"/><polygon transform="rotate(1.25)" points="184,-0.8 222,-0.97 222.01,2.91 221.9,6.78 183.91,5.62" fill="url(#gb_1250)"/><polygon transform="rotate(1.75)" points="184,-0.8 222,-0.97 222.01,2.91 221.9,6.78 183.91,5.62" fill="url(#gb_1750)"/><polygon transform="rotate(2.25)" points="184,-0.8 222,-0.97 222.01,2.91 221.9,6.78 183.91,5.62" fill="url(#gb_2250)"/><polygon transform="rotate(2.75)" points="184,-0.8 222,-0.97 222.01,2.91 221.9,6.78 183.91,5.62" fill="url(#gb_2750)"/><polygon transform="rotate(3.25)" points="184,-0.8 222,-0.97 222.01,2.91 221.9,6.78 183.91,5.62" fill="url(#gb_3250)"/><polygon transform="rotate(3.75)" points="184,-0.8 222,-0.97 222.01,2.91 221.9,6.78 183.91,5.62" fill="url(#gb_3750)"/><polygon transform="rotate(4.25)" points="184,-0.8 222,-0.97 222.01,2.91 221.9,6.78 183.91,5.62" fill="url(#gb_4250)"/><polygon transform="rotate(4.75)" points="184,-0.8 222,-0.97 222.01,2.91 221.9,6.78 183.91,5.62" fill="url(#gb_4750)"/><polygon transform="rotate(5.25)" points="184,-0.8 222,-0.97 222.01,2.91 221.9,6.78 183.91,5.62" fill="url(#gb_5250)"/><polygon transform="rotate(5.75)" points="184,-0.8 222,-0.97 222.01,2.91 221.9,6.78 183.91,5.62" fill="url(#gb_5750)"/><polygon transform="rotate(6.25)" points="184,-0.8 222,-0.97 222.01,2.91 221.9,6.78 183.91,5.62" fill="url(#gb_6250)"/><polygon transform="rotate(6.75)" points="184,-0.8 222,-0.97 222.01,2.91 221.9,6.78 183.91,5.62" fill="url(#gb_6750)"/><polygon transform="rotate(7.25)" points="184,-0.8 222,-0.97 222.01,2.91 221.9,6.78 183.91,5.62" fill="url(#gb_7250)"/><polygon transform="rotate(7.75)" points="184,-0.8 222,-0.97 222.01,2.91 221.9,6.78 183.91,5.62" fill="url(#gb_7750)"/><polygon transform="rotate(8.25)" points="184,-0.8 222,-0.97 222.01,2.91 221.9,6.78 183.91,5.62" fill="url(#gb_8250)"/><polygon transform="rotate(8.75)" points="184,-0.8 222,-0.97 222.01,2.91 221.9,6.78 183.91,5.62" fill="url(#gb_8750)"/><polygon transform="rotate(9.25)" points="184,-0.8 222,-0.97 222.01,2.91 221.9,6.78 183.91,5.62" fill="url(#gb_9250)"/><polygon transform="rotate(9.75)" points="184,-0.8 222,-0.97 222.01,2.91 221.9,6.78 183.91,5.62" fill="url(#gb_9750)"/><polygon transform="rotate(10.25)" points="184,-0.8 222,-0.97 222.01,2.91 221.9,6.78 183.91,5.62" fill="url(#gb_10250)"/><polygon transform="rotate(10.75)" points="184,-0.8 222,-0.97 222.01,2.91 221.9,6.78 183.91,5.62" fill="url(#gb_10750)"/><polygon transform="rotate(11.25)" points="184,-0.8 222,-0.97 222.01,2.91 221.9,6.78 183.91,5.62" fill="url(#gb_11250)"/><polygon transform="rotate(11.75)" points="184,-0.8 222,-0.97 222.01,2.91 221.9,6.78 183.91,5.62" fill="url(#gb_11750)"/><polygon transform="rotate(12.25)" points="184,-0.8 222,-0.97 222.01,2.91 221.9,6.78 183.91,5.62" fill="url(#gb_12250)"/><polygon transform="rotate(12.75)" points="184,-0.8 222,-0.97 222.01,2.91 221.9,6.78 183.91,5.62" fill="url(#gb_12750)"/><polygon transform="rotate(13.25)" points="184,-0.8 222,-0.97 222.01,2.91 221.9,6.78 183.91,5.62" fill="url(#gb_13250)"/><polygon transform="rotate(13.75)" points="184,-0.8 222,-0.97 222.01,2.91 221.9,6.78 183.91,5.62" fill="url(#gb_13750)"/><polygon transform="rotate(14.25)" points="184,-0.8 222,-0.97 222.01,2.91 221.9,6.78 183.91,5.62" fill="url(#gb_14250)"/><polygon transform="rotate(14.75)" points="184,-0.8 222,-0.97 222.01,2.91 221.9,6.78 183.91,5.62" fill="url(#gb_14750)"/></g>
<g id="fixb"><polygon transform="rotate(-14.75)" points="184,-0.8 222,-0.97 222.01,2.32 221.93,5.62 183.94,4.66" fill="url(#gb_14750)"/><polygon transform="rotate(-14.25)" points="184,-0.8 222,-0.97 222,1.74 221.96,4.46 183.96,3.69" fill="url(#gb_14250)"/><polygon transform="rotate(-13.75)" points="184,-0.8 222,-0.97 222,1.16 221.98,3.29 183.98,2.73" fill="url(#gb_13750)"/><polygon transform="rotate(-13.25)" points="184,-0.8 222,-0.97 222,0.58 221.99,2.13 183.99,1.77" fill="url(#gb_13250)"/><polygon transform="rotate(-12.75)" points="184,-0.8 222,-0.97 222,0 222,0.97 184,0.8" fill="url(#gb_12750)"/></g>
<mask id="rcb" maskUnits="userSpaceOnUse" x="-260" y="-260" width="520" height="520"><rect x="-260" y="-260" width="520" height="520" fill="#000"/><circle r="203" fill="none" stroke="#fff" stroke-width="32"/></mask>
<linearGradient id="cbb" x1="0" y1="0" x2="0" y2="1"><stop offset="0" stop-color="#f9fb0e"/><stop offset="0.02" stop-color="#f6f313"/><stop offset="0.03" stop-color="#f5eb18"/><stop offset="0.05" stop-color="#f5e51d"/><stop offset="0.06" stop-color="#f5de21"/><stop offset="0.08" stop-color="#f7d925"/><stop offset="0.09" stop-color="#f9d329"/><stop offset="0.11" stop-color="#fcce2d"/><stop offset="0.12" stop-color="#fec932"/><stop offset="0.14" stop-color="#ffc436"/><stop offset="0.16" stop-color="#febf3c"/><stop offset="0.17" stop-color="#f9bb43"/><stop offset="0.19" stop-color="#f2b949"/><stop offset="0.2" stop-color="#ebb94d"/><stop offset="0.22" stop-color="#e3b951"/><stop offset="0.23" stop-color="#dbba55"/><stop offset="0.25" stop-color="#d3bb58"/><stop offset="0.27" stop-color="#cbbb5c"/><stop offset="0.28" stop-color="#c2bc5f"/><stop offset="0.3" stop-color="#babd63"/><stop offset="0.31" stop-color="#b1bd66"/><stop offset="0.33" stop-color="#a8be6a"/><stop offset="0.34" stop-color="#9fbe6d"/><stop offset="0.36" stop-color="#95bf71"/><stop offset="0.38" stop-color="#8bbf75"/><stop offset="0.39" stop-color="#80bf7a"/><stop offset="0.41" stop-color="#75bf7e"/><stop offset="0.42" stop-color="#6abe83"/><stop offset="0.44" stop-color="#5ebe89"/><stop offset="0.45" stop-color="#52bd8f"/><stop offset="0.47" stop-color="#47bb95"/><stop offset="0.48" stop-color="#3dba9b"/><stop offset="0.5" stop-color="#33b8a1"/><stop offset="0.52" stop-color="#2ab6a7"/><stop offset="0.53" stop-color="#21b4ac"/><stop offset="0.55" stop-color="#1ab2b1"/><stop offset="0.56" stop-color="#13b0b6"/><stop offset="0.58" stop-color="#0dadbb"/><stop offset="0.59" stop-color="#09abbf"/><stop offset="0.61" stop-color="#06a8c4"/><stop offset="0.62" stop-color="#06a6c7"/><stop offset="0.64" stop-color="#06a2cb"/><stop offset="0.66" stop-color="#069fce"/><stop offset="0.67" stop-color="#079bd0"/><stop offset="0.69" stop-color="#0a97d1"/><stop offset="0.7" stop-color="#0e92d2"/><stop offset="0.72" stop-color="#118dd2"/><stop offset="0.73" stop-color="#1388d3"/><stop offset="0.75" stop-color="#1484d4"/><stop offset="0.77" stop-color="#1480d6"/><stop offset="0.78" stop-color="#127cd8"/><stop offset="0.8" stop-color="#0f78db"/><stop offset="0.81" stop-color="#0c74dd"/><stop offset="0.83" stop-color="#0870df"/><stop offset="0.84" stop-color="#046ce0"/><stop offset="0.86" stop-color="#0267e1"/><stop offset="0.88" stop-color="#0462e0"/><stop offset="0.89" stop-color="#115bdc"/><stop offset="0.91" stop-color="#2152d3"/><stop offset="0.92" stop-color="#2c4ac6"/><stop offset="0.94" stop-color="#3243b9"/><stop offset="0.95" stop-color="#353dac"/><stop offset="0.97" stop-color="#36369f"/><stop offset="0.98" stop-color="#363093"/><stop offset="1" stop-color="#352a87"/></linearGradient>
<linearGradient id="hc_48438" x1="0" y1="0" x2="0" y2="1"><stop offset="0" stop-color="#352c8b"/><stop offset="0.02" stop-color="#352c8b"/><stop offset="0.03" stop-color="#352c8b"/><stop offset="0.05" stop-color="#352c8b"/><stop offset="0.06" stop-color="#352c8b"/><stop offset="0.08" stop-color="#352c8b"/><stop offset="0.09" stop-color="#352c8b"/><stop offset="0.11" stop-color="#352c8a"/><stop offset="0.12" stop-color="#352b89"/><stop offset="0.14" stop-color="#352b87"/><stop offset="0.16" stop-color="#352a87"/><stop offset="0.17" stop-color="#352a87"/><stop offset="0.19" stop-color="#352a87"/><stop offset="0.2" stop-color="#352a87"/><stop offset="0.22" stop-color="#352a87"/><stop offset="0.23" stop-color="#352a87"/><stop offset="0.25" stop-color="#352a87"/><stop offset="0.27" stop-color="#352a87"/><stop offset="0.28" stop-color="#352a87"/><stop offset="0.3" stop-color="#352a87"/><stop offset="0.31" stop-color="#352a87"/><stop offset="0.33" stop-color="#352a87"/><stop offset="0.34" stop-color="#352a87"/><stop offset="0.36" stop-color="#352a87"/><stop offset="0.38" stop-color="#352a87"/><stop offset="0.39" stop-color="#352a87"/><stop offset="0.41" stop-color="#352a87"/><stop offset="0.42" stop-color="#352a87"/><stop offset="0.44" stop-color="#352a87"/><stop offset="0.45" stop-color="#352a87"/><stop offset="0.47" stop-color="#352a87"/><stop offset="0.48" stop-color="#352a87"/><stop offset="0.5" stop-color="#352a87"/><stop offset="0.52" stop-color="#352a87"/><stop offset="0.53" stop-color="#352a87"/><stop offset="0.55" stop-color="#352a87"/><stop offset="0.56" stop-color="#352a87"/><stop offset="0.58" stop-color="#352a87"/><stop offset="0.59" stop-color="#352a87"/><stop offset="0.61" stop-color="#352a87"/><stop offset="0.62" stop-color="#352a87"/><stop offset="0.64" stop-color="#352a87"/><stop offset="0.66" stop-color="#352a87"/><stop offset="0.67" stop-color="#352a87"/><stop offset="0.69" stop-color="#352a87"/><stop offset="0.7" stop-color="#352a87"/><stop offset="0.72" stop-color="#352a87"/><stop offset="0.73" stop-color="#352a87"/><stop offset="0.75" stop-color="#352a87"/><stop offset="0.77" stop-color="#352a87"/><stop offset="0.78" stop-color="#352a87"/><stop offset="0.8" stop-color="#352a87"/><stop offset="0.81" stop-color="#352a87"/><stop offset="0.83" stop-color="#352a87"/><stop offset="0.84" stop-color="#352a87"/><stop offset="0.86" stop-color="#352b87"/><stop offset="0.88" stop-color="#352b89"/><stop offset="0.89" stop-color="#352c8a"/><stop offset="0.91" stop-color="#352c8b"/><stop offset="0.92" stop-color="#352c8b"/><stop offset="0.94" stop-color="#352c8b"/><stop offset="0.95" stop-color="#352c8b"/><stop offset="0.97" stop-color="#352c8b"/><stop offset="0.98" stop-color="#352c8b"/><stop offset="1" stop-color="#352c8b"/></linearGradient>
<linearGradient id="hc_45312" x1="0" y1="0" x2="0" y2="1"><stop offset="0" stop-color="#362e8e"/><stop offset="0.02" stop-color="#362e8e"/><stop offset="0.03" stop-color="#362e8e"/><stop offset="0.05" stop-color="#362e8e"/><stop offset="0.06" stop-color="#362e8e"/><stop offset="0.08" stop-color="#362e8e"/><stop offset="0.09" stop-color="#362e8e"/><stop offset="0.11" stop-color="#362d8d"/><stop offset="0.12" stop-color="#352c8b"/><stop offset="0.14" stop-color="#352b88"/><stop offset="0.16" stop-color="#352a87"/><stop offset="0.17" stop-color="#352a87"/><stop offset="0.19" stop-color="#352a87"/><stop offset="0.2" stop-color="#352a87"/><stop offset="0.22" stop-color="#352a87"/><stop offset="0.23" stop-color="#352a87"/><stop offset="0.25" stop-color="#352a87"/><stop offset="0.27" stop-color="#352a87"/><stop offset="0.28" stop-color="#352a87"/><stop offset="0.3" stop-color="#352a87"/><stop offset="0.31" stop-color="#352a87"/><stop offset="0.33" stop-color="#352a87"/><stop offset="0.34" stop-color="#352a87"/><stop offset="0.36" stop-color="#352a87"/><stop offset="0.38" stop-color="#352a87"/><stop offset="0.39" stop-color="#352a87"/><stop offset="0.41" stop-color="#352a87"/><stop offset="0.42" stop-color="#352a87"/><stop offset="0.44" stop-color="#352a87"/><stop offset="0.45" stop-color="#352a87"/><stop offset="0.47" stop-color="#352a87"/><stop offset="0.48" stop-color="#352a87"/><stop offset="0.5" stop-color="#352a87"/><stop offset="0.52" stop-color="#352a87"/><stop offset="0.53" stop-color="#352a87"/><stop offset="0.55" stop-color="#352a87"/><stop offset="0.56" stop-color="#352a87"/><stop offset="0.58" stop-color="#352a87"/><stop offset="0.59" stop-color="#352a87"/><stop offset="0.61" stop-color="#352a87"/><stop offset="0.62" stop-color="#352a87"/><stop offset="0.64" stop-color="#352a87"/><stop offset="0.66" stop-color="#352a87"/><stop offset="0.67" stop-color="#352a87"/><stop offset="0.69" stop-color="#352a87"/><stop offset="0.7" stop-color="#352a87"/><stop offset="0.72" stop-color="#352a87"/><stop offset="0.73" stop-color="#352a87"/><stop offset="0.75" stop-color="#352a87"/><stop offset="0.77" stop-color="#352a87"/><stop offset="0.78" stop-color="#352a87"/><stop offset="0.8" stop-color="#352a87"/><stop offset="0.81" stop-color="#352a87"/><stop offset="0.83" stop-color="#352a87"/><stop offset="0.84" stop-color="#352a87"/><stop offset="0.86" stop-color="#352b88"/><stop offset="0.88" stop-color="#352c8b"/><stop offset="0.89" stop-color="#362d8d"/><stop offset="0.91" stop-color="#362e8e"/><stop offset="0.92" stop-color="#362e8e"/><stop offset="0.94" stop-color="#362e8e"/><stop offset="0.95" stop-color="#362e8e"/><stop offset="0.97" stop-color="#362e8e"/><stop offset="0.98" stop-color="#362e8e"/><stop offset="1" stop-color="#362e8e"/></linearGradient>
<linearGradient id="hc_42188" x1="0" y1="0" x2="0" y2="1"><stop offset="0" stop-color="#362f91"/><stop offset="0.02" stop-color="#362f91"/><stop offset="0.03" stop-color="#362f91"/><stop offset="0.05" stop-color="#362f91"/><stop offset="0.06" stop-color="#362f91"/><stop offset="0.08" stop-color="#362f91"/><stop offset="0.09" stop-color="#362f91"/><stop offset="0.11" stop-color="#362f90"/><stop offset="0.12" stop-color="#352d8c"/><stop offset="0.14" stop-color="#352b88"/><stop offset="0.16" stop-color="#352a87"/><stop offset="0.17" stop-color="#352a87"/><stop offset="0.19" stop-color="#352a87"/><stop offset="0.2" stop-color="#352a87"/><stop offset="0.22" stop-color="#352a87"/><stop offset="0.23" stop-color="#352a87"/><stop offset="0.25" stop-color="#352a87"/><stop offset="0.27" stop-color="#352a87"/><stop offset="0.28" stop-color="#352a87"/><stop offset="0.3" stop-color="#352a87"/><stop offset="0.31" stop-color="#352a87"/><stop offset="0.33" stop-color="#352a87"/><stop offset="0.34" stop-color="#352a87"/><stop offset="0.36" stop-color="#352a87"/><stop offset="0.38" stop-color="#352a87"/><stop offset="0.39" stop-color="#352a87"/><stop offset="0.41" stop-color="#352a87"/><stop offset="0.42" stop-color="#352a87"/><stop offset="0.44" stop-color="#352a87"/><stop offset="0.45" stop-color="#352a87"/><stop offset="0.47" stop-color="#352a87"/><stop offset="0.48" stop-color="#352a87"/><stop offset="0.5" stop-color="#352a87"/><stop offset="0.52" stop-color="#352a87"/><stop offset="0.53" stop-color="#352a87"/><stop offset="0.55" stop-color="#352a87"/><stop offset="0.56" stop-color="#352a87"/><stop offset="0.58" stop-color="#352a87"/><stop offset="0.59" stop-color="#352a87"/><stop offset="0.61" stop-color="#352a87"/><stop offset="0.62" stop-color="#352a87"/><stop offset="0.64" stop-color="#352a87"/><stop offset="0.66" stop-color="#352a87"/><stop offset="0.67" stop-color="#352a87"/><stop offset="0.69" stop-color="#352a87"/><stop offset="0.7" stop-color="#352a87"/><stop offset="0.72" stop-color="#352a87"/><stop offset="0.73" stop-color="#352a87"/><stop offset="0.75" stop-color="#352a87"/><stop offset="0.77" stop-color="#352a87"/><stop offset="0.78" stop-color="#352a87"/><stop offset="0.8" stop-color="#352a87"/><stop offset="0.81" stop-color="#352a87"/><stop offset="0.83" stop-color="#352a87"/><stop offset="0.84" stop-color="#352a87"/><stop offset="0.86" stop-color="#352b88"/><stop offset="0.88" stop-color="#352d8c"/><stop offset="0.89" stop-color="#362f90"/><stop offset="0.91" stop-color="#362f91"/><stop offset="0.92" stop-color="#362f91"/><stop offset="0.94" stop-color="#362f91"/><stop offset="0.95" stop-color="#362f91"/><stop offset="0.97" stop-color="#362f91"/><stop offset="0.98" stop-color="#362f91"/><stop offset="1" stop-color="#362f91"/></linearGradient>
<linearGradient id="hc_39062" x1="0" y1="0" x2="0" y2="1"><stop offset="0" stop-color="#363093"/><stop offset="0.02" stop-color="#363093"/><stop offset="0.03" stop-color="#363093"/><stop offset="0.05" stop-color="#363093"/><stop offset="0.06" stop-color="#363093"/><stop offset="0.08" stop-color="#363093"/><stop offset="0.09" stop-color="#363093"/><stop offset="0.11" stop-color="#362f91"/><stop offset="0.12" stop-color="#362d8d"/><stop offset="0.14" stop-color="#352b89"/><stop offset="0.16" stop-color="#352a87"/><stop offset="0.17" stop-color="#352a87"/><stop offset="0.19" stop-color="#352a87"/><stop offset="0.2" stop-color="#352a87"/><stop offset="0.22" stop-color="#352a87"/><stop offset="0.23" stop-color="#352a87"/><stop offset="0.25" stop-color="#352a87"/><stop offset="0.27" stop-color="#352a87"/><stop offset="0.28" stop-color="#352a87"/><stop offset="0.3" stop-color="#352a87"/><stop offset="0.31" stop-color="#352a87"/><stop offset="0.33" stop-color="#352a87"/><stop offset="0.34" stop-color="#352a87"/><stop offset="0.36" stop-color="#352a87"/><stop offset="0.38" stop-color="#352a87"/><stop offset="0.39" stop-color="#352a87"/><stop offset="0.41" stop-color="#352a87"/><stop offset="0.42" stop-color="#352a87"/><stop offset="0.44" stop-color="#352a87"/><stop offset="0.45" stop-color="#352a87"/><stop offset="0.47" stop-color="#352a87"/><stop offset="0.48" stop-color="#352a87"/><stop offset="0.5" stop-color="#352a87"/><stop offset="0.52" stop-color="#352a87"/><stop offset="0.53" stop-color="#352a87"/><stop offset="0.55" stop-color="#352a87"/><stop offset="0.56" stop-color="#352a87"/><stop offset="0.58" stop-color="#352a87"/><stop offset="0.59" stop-color="#352a87"/><stop offset="0.61" stop-color="#352a87"/><stop offset="0.62" stop-color="#352a87"/><stop offset="0.64" stop-color="#352a87"/><stop offset="0.66" stop-color="#352a87"/><stop offset="0.67" stop-color="#352a87"/><stop offset="0.69" stop-color="#352a87"/><stop offset="0.7" stop-color="#352a87"/><stop offset="0.72" stop-color="#352a87"/><stop offset="0.73" stop-color="#352a87"/><stop offset="0.75" stop-color="#352a87"/><stop offset="0.77" stop-color="#352a87"/><stop offset="0.78" stop-color="#352a87"/><stop offset="0.8" stop-color="#352a87"/><stop offset="0.81" stop-color="#352a87"/><stop offset="0.83" stop-color="#352a87"/><stop offset="0.84" stop-color="#352a87"/><stop offset="0.86" stop-color="#352b89"/><stop offset="0.88" stop-color="#362d8d"/><stop offset="0.89" stop-color="#362f91"/><stop offset="0.91" stop-color="#363093"/><stop offset="0.92" stop-color="#363093"/><stop offset="0.94" stop-color="#363093"/><stop offset="0.95" stop-color="#363093"/><stop offset="0.97" stop-color="#363093"/><stop offset="0.98" stop-color="#363093"/><stop offset="1" stop-color="#363093"/></linearGradient>
<linearGradient id="hc_35938" x1="0" y1="0" x2="0" y2="1"><stop offset="0" stop-color="#363195"/><stop offset="0.02" stop-color="#363195"/><stop offset="0.03" stop-color="#363195"/><stop offset="0.05" stop-color="#363195"/><stop offset="0.06" stop-color="#363195"/><stop offset="0.08" stop-color="#363195"/><stop offset="0.09" stop-color="#363195"/><stop offset="0.11" stop-color="#363093"/><stop offset="0.12" stop-color="#362e8e"/><stop offset="0.14" stop-color="#352b89"/><stop offset="0.16" stop-color="#352a87"/><stop offset="0.17" stop-color="#352a87"/><stop offset="0.19" stop-color="#352a87"/><stop offset="0.2" stop-color="#352a87"/><stop offset="0.22" stop-color="#352b87"/><stop offset="0.23" stop-color="#352c8a"/><stop offset="0.25" stop-color="#362e8e"/><stop offset="0.27" stop-color="#362f91"/><stop offset="0.28" stop-color="#363195"/><stop offset="0.3" stop-color="#363398"/><stop offset="0.31" stop-color="#363398"/><stop offset="0.33" stop-color="#363398"/><stop offset="0.34" stop-color="#363398"/><stop offset="0.36" stop-color="#363398"/><stop offset="0.38" stop-color="#363399"/><stop offset="0.39" stop-color="#363399"/><stop offset="0.41" stop-color="#363399"/><stop offset="0.42" stop-color="#363399"/><stop offset="0.44" stop-color="#363399"/><stop offset="0.45" stop-color="#363399"/><stop offset="0.47" stop-color="#363399"/><stop offset="0.48" stop-color="#363399"/><stop offset="0.5" stop-color="#363399"/><stop offset="0.52" stop-color="#363399"/><stop offset="0.53" stop-color="#363399"/><stop offset="0.55" stop-color="#363399"/><stop offset="0.56" stop-color="#363399"/><stop offset="0.58" stop-color="#363399"/><stop offset="0.59" stop-color="#363399"/><stop offset="0.61" stop-color="#363399"/><stop offset="0.62" stop-color="#363399"/><stop offset="0.64" stop-color="#363398"/><stop offset="0.66" stop-color="#363398"/><stop offset="0.67" stop-color="#363398"/><stop offset="0.69" stop-color="#363398"/><stop offset="0.7" stop-color="#363398"/><stop offset="0.72" stop-color="#363195"/><stop offset="0.73" stop-color="#362f91"/><stop offset="0.75" stop-color="#362e8e"/><stop offset="0.77" stop-color="#352c8a"/><stop offset="0.78" stop-color="#352b87"/><stop offset="0.8" stop-color="#352a87"/><stop offset="0.81" stop-color="#352a87"/><stop offset="0.83" stop-color="#352a87"/><stop offset="0.84" stop-color="#352a87"/><stop offset="0.86" stop-color="#352b89"/><stop offset="0.88" stop-color="#362e8e"/><stop offset="0.89" stop-color="#363093"/><stop offset="0.91" stop-color="#363195"/><stop offset="0.92" stop-color="#363195"/><stop offset="0.94" stop-color="#363195"/><stop offset="0.95" stop-color="#363195"/><stop offset="0.97" stop-color="#363195"/><stop offset="0.98" stop-color="#363195"/><stop offset="1" stop-color="#363195"/></linearGradient>
<linearGradient id="hc_32812" x1="0" y1="0" x2="0" y2="1"><stop offset="0" stop-color="#363297"/><stop offset="0.02" stop-color="#363297"/><stop offset="0.03" stop-color="#363297"/><stop offset="0.05" stop-color="#363297"/><stop offset="0.06" stop-color="#363297"/><stop offset="0.08" stop-color="#363297"/><stop offset="0.09" stop-color="#363297"/><stop offset="0.11" stop-color="#363194"/><stop offset="0.12" stop-color="#362e8f"/><stop offset="0.14" stop-color="#352b89"/><stop offset="0.16" stop-color="#352c8a"/><stop offset="0.17" stop-color="#362f91"/><stop offset="0.19" stop-color="#36369e"/><stop offset="0.2" stop-color="#343eaf"/><stop offset="0.22" stop-color="#2d49c3"/><stop offset="0.23" stop-color="#1857d9"/><stop offset="0.25" stop-color="#0562e0"/><stop offset="0.27" stop-color="#0269e1"/><stop offset="0.28" stop-color="#056de0"/><stop offset="0.3" stop-color="#0870df"/><stop offset="0.31" stop-color="#0971de"/><stop offset="0.33" stop-color="#0971de"/><stop offset="0.34" stop-color="#0971de"/><stop offset="0.36" stop-color="#0972de"/><stop offset="0.38" stop-color="#0972de"/><stop offset="0.39" stop-color="#0a72de"/><stop offset="0.41" stop-color="#0a72de"/><stop offset="0.42" stop-color="#0a72de"/><stop offset="0.44" stop-color="#0a73de"/><stop offset="0.45" stop-color="#0a73dd"/><stop offset="0.47" stop-color="#0a73dd"/><stop offset="0.48" stop-color="#0b73dd"/><stop offset="0.5" stop-color="#0b73dd"/><stop offset="0.52" stop-color="#0b73dd"/><stop offset="0.53" stop-color="#0a73dd"/><stop offset="0.55" stop-color="#0a73dd"/><stop offset="0.56" stop-color="#0a73de"/><stop offset="0.58" stop-color="#0a72de"/><stop offset="0.59" stop-color="#0a72de"/><stop offset="0.61" stop-color="#0a72de"/><stop offset="0.62" stop-color="#0972de"/><stop offset="0.64" stop-color="#0972de"/><stop offset="0.66" stop-color="#0971de"/><stop offset="0.67" stop-color="#0971de"/><stop offset="0.69" stop-color="#0971de"/><stop offset="0.7" stop-color="#0870df"/><stop offset="0.72" stop-color="#056de0"/><stop offset="0.73" stop-color="#0269e1"/><stop offset="0.75" stop-color="#0562e0"/><stop offset="0.77" stop-color="#1857d9"/><stop offset="0.78" stop-color="#2d49c3"/><stop offset="0.8" stop-color="#343eaf"/><stop offset="0.81" stop-color="#36369e"/><stop offset="0.83" stop-color="#362f91"/><stop offset="0.84" stop-color="#352c8a"/><stop offset="0.86" stop-color="#352b89"/><stop offset="0.88" stop-color="#362e8f"/><stop offset="0.89" stop-color="#363194"/><stop offset="0.91" stop-color="#363297"/><stop offset="0.92" stop-color="#363297"/><stop offset="0.94" stop-color="#363297"/><stop offset="0.95" stop-color="#363297"/><stop offset="0.97" stop-color="#363297"/><stop offset="0.98" stop-color="#363297"/><stop offset="1" stop-color="#363297"/></linearGradient>
<linearGradient id="hc_29688" x1="0" y1="0" x2="0" y2="1"><stop offset="0" stop-color="#363398"/><stop offset="0.02" stop-color="#363398"/><stop offset="0.03" stop-color="#363398"/><stop offset="0.05" stop-color="#363398"/><stop offset="0.06" stop-color="#363398"/><stop offset="0.08" stop-color="#363398"/><stop offset="0.09" stop-color="#363398"/><stop offset="0.11" stop-color="#363194"/><stop offset="0.12" stop-color="#352a87"/><stop offset="0.14" stop-color="#36349a"/><stop offset="0.16" stop-color="#343eb0"/><stop offset="0.17" stop-color="#2450cf"/><stop offset="0.19" stop-color="#0268e1"/><stop offset="0.2" stop-color="#0d75dc"/><stop offset="0.22" stop-color="#1482d5"/><stop offset="0.23" stop-color="#0d92d2"/><stop offset="0.25" stop-color="#079dcf"/><stop offset="0.27" stop-color="#06a4c9"/><stop offset="0.28" stop-color="#07aac1"/><stop offset="0.3" stop-color="#0aacbd"/><stop offset="0.31" stop-color="#0cadbc"/><stop offset="0.33" stop-color="#0cadbb"/><stop offset="0.34" stop-color="#0dadbb"/><stop offset="0.36" stop-color="#0eaeba"/><stop offset="0.38" stop-color="#0eaeba"/><stop offset="0.39" stop-color="#0faeb9"/><stop offset="0.41" stop-color="#0faeb9"/><stop offset="0.42" stop-color="#10afb8"/><stop offset="0.44" stop-color="#11afb8"/><stop offset="0.45" stop-color="#11afb7"/><stop offset="0.47" stop-color="#12afb7"/><stop offset="0.48" stop-color="#13b0b6"/><stop offset="0.5" stop-color="#13b0b6"/><stop offset="0.52" stop-color="#13b0b6"/><stop offset="0.53" stop-color="#12afb7"/><stop offset="0.55" stop-color="#11afb7"/><stop offset="0.56" stop-color="#11afb8"/><stop offset="0.58" stop-color="#10afb8"/><stop offset="0.59" stop-color="#0faeb9"/><stop offset="0.61" stop-color="#0faeb9"/><stop offset="0.62" stop-color="#0eaeba"/><stop offset="0.64" stop-color="#0eaeba"/><stop offset="0.66" stop-color="#0dadbb"/><stop offset="0.67" stop-color="#0cadbb"/><stop offset="0.69" stop-color="#0cadbc"/><stop offset="0.7" stop-color="#0aacbd"/><stop offset="0.72" stop-color="#07aac1"/><stop offset="0.73" stop-color="#06a4c9"/><stop offset="0.75" stop-color="#079dcf"/><stop offset="0.77" stop-color="#0d92d2"/><stop offset="0.78" stop-color="#1482d5"/><stop offset="0.8" stop-color="#0d75dc"/><stop offset="0.81" stop-color="#0268e1"/><stop offset="0.83" stop-color="#2450cf"/><stop offset="0.84" stop-color="#343eb0"/><stop offset="0.86" stop-color="#36349a"/><stop offset="0.88" stop-color="#352a87"/><stop offset="0.89" stop-color="#363194"/><stop offset="0.91" stop-color="#363398"/><stop offset="0.92" stop-color="#363398"/><stop offset="0.94" stop-color="#363398"/><stop offset="0.95" stop-color="#363398"/><stop offset="0.97" stop-color="#363398"/><stop offset="0.98" stop-color="#363398"/><stop offset="1" stop-color="#363398"/></linearGradient>
<linearGradient id="hc_26562" x1="0" y1="0" x2="0" y2="1"><stop offset="0" stop-color="#363399"/><stop offset="0.02" stop-color="#363399"/><stop offset="0.03" stop-color="#363399"/><stop offset="0.05" stop-color="#363399"/><stop offset="0.06" stop-color="#363399"/><stop offset="0.08" stop-color="#363399"/><stop offset="0.09" stop-color="#363296"/><stop offset="0.11" stop-color="#352c8a"/><stop offset="0.12" stop-color="#3638a4"/><stop offset="0.14" stop-color="#264ecd"/><stop offset="0.16" stop-color="#0267e1"/><stop offset="0.17" stop-color="#127cd9"/><stop offset="0.19" stop-color="#0c93d2"/><stop offset="0.2" stop-color="#06a7c6"/><stop offset="0.22" stop-color="#1db3af"/><stop offset="0.23" stop-color="#47bb95"/><stop offset="0.25" stop-color="#6ebf81"/><stop offset="0.27" stop-color="#8cbf75"/><stop offset="0.28" stop-color="#a3be6c"/><stop offset="0.3" stop-color="#b0bd66"/><stop offset="0.31" stop-color="#b1bd66"/><stop offset="0.33" stop-color="#b3bd65"/><stop offset="0.34" stop-color="#b5bd65"/><stop offset="0.36" stop-color="#b6bd64"/><stop offset="0.38" stop-color="#b8bd63"/><stop offset="0.39" stop-color="#b9bd63"/><stop offset="0.41" stop-color="#bbbd62"/><stop offset="0.42" stop-color="#bcbd62"/><stop offset="0.44" stop-color="#bebc61"/><stop offset="0.45" stop-color="#bfbc60"/><stop offset="0.47" stop-color="#c1bc60"/><stop offset="0.48" stop-color="#c2bc5f"/><stop offset="0.5" stop-color="#c4bc5e"/><stop offset="0.52" stop-color="#c2bc5f"/><stop offset="0.53" stop-color="#c1bc60"/><stop offset="0.55" stop-color="#bfbc60"/><stop offset="0.56" stop-color="#bebc61"/><stop offset="0.58" stop-color="#bcbd62"/><stop offset="0.59" stop-color="#bbbd62"/><stop offset="0.61" stop-color="#b9bd63"/><stop offset="0.62" stop-color="#b8bd63"/><stop offset="0.64" stop-color="#b6bd64"/><stop offset="0.66" stop-color="#b5bd65"/><stop offset="0.67" stop-color="#b3bd65"/><stop offset="0.69" stop-color="#b1bd66"/><stop offset="0.7" stop-color="#b0bd66"/><stop offset="0.72" stop-color="#a3be6c"/><stop offset="0.73" stop-color="#8cbf75"/><stop offset="0.75" stop-color="#6ebf81"/><stop offset="0.77" stop-color="#47bb95"/><stop offset="0.78" stop-color="#1db3af"/><stop offset="0.8" stop-color="#06a7c6"/><stop offset="0.81" stop-color="#0c93d2"/><stop offset="0.83" stop-color="#127cd9"/><stop offset="0.84" stop-color="#0267e1"/><stop offset="0.86" stop-color="#264ecd"/><stop offset="0.88" stop-color="#3638a4"/><stop offset="0.89" stop-color="#352c8a"/><stop offset="0.91" stop-color="#363296"/><stop offset="0.92" stop-color="#363399"/><stop offset="0.94" stop-color="#363399"/><stop offset="0.95" stop-color="#363399"/><stop offset="0.97" stop-color="#363399"/><stop offset="0.98" stop-color="#363399"/><stop offset="1" stop-color="#363399"/></linearGradient>
<linearGradient id="hc_23438" x1="0" y1="0" x2="0" y2="1"><stop offset="0" stop-color="#36349b"/><stop offset="0.02" stop-color="#36349b"/><stop offset="0.03" stop-color="#36349b"/><stop offset="0.05" stop-color="#36349b"/><stop offset="0.06" stop-color="#36349b"/><stop offset="0.08" stop-color="#363399"/><stop offset="0.09" stop-color="#362f90"/><stop offset="0.11" stop-color="#363399"/><stop offset="0.12" stop-color="#2152d2"/><stop offset="0.14" stop-color="#0770df"/><stop offset="0.16" stop-color="#1484d4"/><stop offset="0.17" stop-color="#06a4ca"/><stop offset="0.19" stop-color="#23b4ab"/><stop offset="0.2" stop-color="#66be85"/><stop offset="0.22" stop-color="#a7be6a"/><stop offset="0.23" stop-color="#d0bb5a"/><stop offset="0.25" stop-color="#efb94b"/><stop offset="0.27" stop-color="#fec13a"/><stop offset="0.28" stop-color="#fcce2d"/><stop offset="0.3" stop-color="#f8d627"/><stop offset="0.31" stop-color="#f8d727"/><stop offset="0.33" stop-color="#f7d826"/><stop offset="0.34" stop-color="#f7da25"/><stop offset="0.36" stop-color="#f6db24"/><stop offset="0.38" stop-color="#f6dc23"/><stop offset="0.39" stop-color="#f6de22"/><stop offset="0.41" stop-color="#f5df21"/><stop offset="0.42" stop-color="#f5e11f"/><stop offset="0.44" stop-color="#f5e21e"/><stop offset="0.45" stop-color="#f5e41d"/><stop offset="0.47" stop-color="#f5e51c"/><stop offset="0.48" stop-color="#f5e71b"/><stop offset="0.5" stop-color="#f5e81a"/><stop offset="0.52" stop-color="#f5e71b"/><stop offset="0.53" stop-color="#f5e51c"/><stop offset="0.55" stop-color="#f5e41d"/><stop offset="0.56" stop-color="#f5e21e"/><stop offset="0.58" stop-color="#f5e11f"/><stop offset="0.59" stop-color="#f5df21"/><stop offset="0.61" stop-color="#f6de22"/><stop offset="0.62" stop-color="#f6dc23"/><stop offset="0.64" stop-color="#f6db24"/><stop offset="0.66" stop-color="#f7da25"/><stop offset="0.67" stop-color="#f7d826"/><stop offset="0.69" stop-color="#f8d727"/><stop offset="0.7" stop-color="#f8d627"/><stop offset="0.72" stop-color="#fcce2d"/><stop offset="0.73" stop-color="#fec13a"/><stop offset="0.75" stop-color="#efb94b"/><stop offset="0.77" stop-color="#d0bb5a"/><stop offset="0.78" stop-color="#a7be6a"/><stop offset="0.8" stop-color="#66be85"/><stop offset="0.81" stop-color="#23b4ab"/><stop offset="0.83" stop-color="#06a4ca"/><stop offset="0.84" stop-color="#1484d4"/><stop offset="0.86" stop-color="#0770df"/><stop offset="0.88" stop-color="#2152d2"/><stop offset="0.89" stop-color="#363399"/><stop offset="0.91" stop-color="#362f90"/><stop offset="0.92" stop-color="#363399"/><stop offset="0.94" stop-color="#36349b"/><stop offset="0.95" stop-color="#36349b"/><stop offset="0.97" stop-color="#36349b"/><stop offset="0.98" stop-color="#36349b"/><stop offset="1" stop-color="#36349b"/></linearGradient>
<linearGradient id="hc_20312" x1="0" y1="0" x2="0" y2="1"><stop offset="0" stop-color="#36349c"/><stop offset="0.02" stop-color="#36349c"/><stop offset="0.03" stop-color="#36349c"/><stop offset="0.05" stop-color="#36349c"/><stop offset="0.06" stop-color="#36349c"/><stop offset="0.08" stop-color="#363297"/><stop offset="0.09" stop-color="#352b89"/><stop offset="0.11" stop-color="#3243b9"/><stop offset="0.12" stop-color="#046ce0"/><stop offset="0.14" stop-color="#1484d4"/><stop offset="0.16" stop-color="#06a3cb"/><stop offset="0.17" stop-color="#2db7a4"/><stop offset="0.19" stop-color="#7dbf7b"/><stop offset="0.2" stop-color="#bebc61"/><stop offset="0.22" stop-color="#f1b94a"/><stop offset="0.23" stop-color="#fdca31"/><stop offset="0.25" stop-color="#f6dd22"/><stop offset="0.27" stop-color="#f6f015"/><stop offset="0.28" stop-color="#f9fb0e"/><stop offset="0.3" stop-color="#f9fb0e"/><stop offset="0.31" stop-color="#f9fb0e"/><stop offset="0.33" stop-color="#f9fb0e"/><stop offset="0.34" stop-color="#f9fb0e"/><stop offset="0.36" stop-color="#f9fb0e"/><stop offset="0.38" stop-color="#f9fb0e"/><stop offset="0.39" stop-color="#f9fb0e"/><stop offset="0.41" stop-color="#f9fb0e"/><stop offset="0.42" stop-color="#f9fb0e"/><stop offset="0.44" stop-color="#f9fb0e"/><stop offset="0.45" stop-color="#f9fb0e"/><stop offset="0.47" stop-color="#f9fb0e"/><stop offset="0.48" stop-color="#f9fb0e"/><stop offset="0.5" stop-color="#f9fb0e"/><stop offset="0.52" stop-color="#f9fb0e"/><stop offset="0.53" stop-color="#f9fb0e"/><stop offset="0.55" stop-color="#f9fb0e"/><stop offset="0.56" stop-color="#f9fb0e"/><stop offset="0.58" stop-color="#f9fb0e"/><stop offset="0.59" stop-color="#f9fb0e"/><stop offset="0.61" stop-color="#f9fb0e"/><stop offset="0.62" stop-color="#f9fb0e"/><stop offset="0.64" stop-color="#f9fb0e"/><stop offset="0.66" stop-color="#f9fb0e"/><stop offset="0.67" stop-color="#f9fb0e"/><stop offset="0.69" stop-color="#f9fb0e"/><stop offset="0.7" stop-color="#f9fb0e"/><stop offset="0.72" stop-color="#f9fb0e"/><stop offset="0.73" stop-color="#f6f015"/><stop offset="0.75" stop-color="#f6dd22"/><stop offset="0.77" stop-color="#fdca31"/><stop offset="0.78" stop-color="#f1b94a"/><stop offset="0.8" stop-color="#bebc61"/><stop offset="0.81" stop-color="#7dbf7b"/><stop offset="0.83" stop-color="#2db7a4"/><stop offset="0.84" stop-color="#06a3cb"/><stop offset="0.86" stop-color="#1484d4"/><stop offset="0.88" stop-color="#046ce0"/><stop offset="0.89" stop-color="#3243b9"/><stop offset="0.91" stop-color="#352b89"/><stop offset="0.92" stop-color="#363297"/><stop offset="0.94" stop-color="#36349c"/><stop offset="0.95" stop-color="#36349c"/><stop offset="0.97" stop-color="#36349c"/><stop offset="0.98" stop-color="#36349c"/><stop offset="1" stop-color="#36349c"/></linearGradient>
<linearGradient id="hc_17188" x1="0" y1="0" x2="0" y2="1"><stop offset="0" stop-color="#36359c"/><stop offset="0.02" stop-color="#36359c"/><stop offset="0.03" stop-color="#36359c"/><stop offset="0.05" stop-color="#36359c"/><stop offset="0.06" stop-color="#36359c"/><stop offset="0.08" stop-color="#363093"/><stop offset="0.09" stop-color="#363298"/><stop offset="0.11" stop-color="#1b55d6"/><stop offset="0.12" stop-color="#1078da"/><stop offset="0.14" stop-color="#0b95d2"/><stop offset="0.16" stop-color="#0eaeba"/><stop offset="0.17" stop-color="#54bd8e"/><stop offset="0.19" stop-color="#9cbf6e"/><stop offset="0.2" stop-color="#d3bb58"/><stop offset="0.22" stop-color="#fdbe3d"/><stop offset="0.23" stop-color="#fad12b"/><stop offset="0.25" stop-color="#f5e31d"/><stop offset="0.27" stop-color="#f8f710"/><stop offset="0.28" stop-color="#f9fb0e"/><stop offset="0.3" stop-color="#f9fb0e"/><stop offset="0.31" stop-color="#f9fb0e"/><stop offset="0.33" stop-color="#f9fb0e"/><stop offset="0.34" stop-color="#f9fb0e"/><stop offset="0.36" stop-color="#f9fb0e"/><stop offset="0.38" stop-color="#f9fb0e"/><stop offset="0.39" stop-color="#f9fb0e"/><stop offset="0.41" stop-color="#f9fb0e"/><stop offset="0.42" stop-color="#f9fb0e"/><stop offset="0.44" stop-color="#f9fb0e"/><stop offset="0.45" stop-color="#f9fb0e"/><stop offset="0.47" stop-color="#f9fb0e"/><stop offset="0.48" stop-color="#f9fb0e"/><stop offset="0.5" stop-color="#f9fb0e"/><stop offset="0.52" stop-color="#f9fb0e"/><stop offset="0.53" stop-color="#f9fb0e"/><stop offset="0.55" stop-color="#f9fb0e"/><stop offset="0.56" stop-color="#f9fb0e"/><stop offset="0.58" stop-color="#f9fb0e"/><stop offset="0.59" stop-color="#f9fb0e"/><stop offset="0.61" stop-color="#f9fb0e"/><stop offset="0.62" stop-color="#f9fb0e"/><stop offset="0.64" stop-color="#f9fb0e"/><stop offset="0.66" stop-color="#f9fb0e"/><stop offset="0.67" stop-color="#f9fb0e"/><stop offset="0.69" stop-color="#f9fb0e"/><stop offset="0.7" stop-color="#f9fb0e"/><stop offset="0.72" stop-color="#f9fb0e"/><stop offset="0.73" stop-color="#f8f710"/><stop offset="0.75" stop-color="#f5e31d"/><stop offset="0.77" stop-color="#fad12b"/><stop offset="0.78" stop-color="#fdbe3d"/><stop offset="0.8" stop-color="#d3bb58"/><stop offset="0.81" stop-color="#9cbf6e"/><stop offset="0.83" stop-color="#54bd8e"/><stop offset="0.84" stop-color="#0eaeba"/><stop offset="0.86" stop-color="#0b95d2"/><stop offset="0.88" stop-color="#1078da"/><stop offset="0.89" stop-color="#1b55d6"/><stop offset="0.91" stop-color="#363298"/><stop offset="0.92" stop-color="#363093"/><stop offset="0.94" stop-color="#36359c"/><stop offset="0.95" stop-color="#36359c"/><stop offset="0.97" stop-color="#36359c"/><stop offset="0.98" stop-color="#36359c"/><stop offset="1" stop-color="#36359c"/></linearGradient>
<linearGradient id="hc_14062" x1="0" y1="0" x2="0" y2="1"><stop offset="0" stop-color="#36359d"/><stop offset="0.02" stop-color="#36359d"/><stop offset="0.03" stop-color="#36359d"/><stop offset="0.05" stop-color="#36359d"/><stop offset="0.06" stop-color="#36359d"/><stop offset="0.08" stop-color="#362e8e"/><stop offset="0.09" stop-color="#3638a3"/><stop offset="0.11" stop-color="#0860df"/><stop offset="0.12" stop-color="#127dd8"/><stop offset="0.14" stop-color="#089ad0"/><stop offset="0.16" stop-color="#15b1b4"/><stop offset="0.17" stop-color="#60be88"/><stop offset="0.19" stop-color="#a6be6a"/><stop offset="0.2" stop-color="#daba55"/><stop offset="0.22" stop-color="#fec13a"/><stop offset="0.23" stop-color="#f9d429"/><stop offset="0.25" stop-color="#f5e61c"/><stop offset="0.27" stop-color="#f9fa0e"/><stop offset="0.28" stop-color="#f9fb0e"/><stop offset="0.3" stop-color="#f9fb0e"/><stop offset="0.31" stop-color="#f9fb0e"/><stop offset="0.33" stop-color="#f9fb0e"/><stop offset="0.34" stop-color="#f9fb0e"/><stop offset="0.36" stop-color="#f9fb0e"/><stop offset="0.38" stop-color="#f9fb0e"/><stop offset="0.39" stop-color="#f9fb0e"/><stop offset="0.41" stop-color="#f9fb0e"/><stop offset="0.42" stop-color="#f9fb0e"/><stop offset="0.44" stop-color="#f9fb0e"/><stop offset="0.45" stop-color="#f9fb0e"/><stop offset="0.47" stop-color="#f9fb0e"/><stop offset="0.48" stop-color="#f9fb0e"/><stop offset="0.5" stop-color="#f9fb0e"/><stop offset="0.52" stop-color="#f9fb0e"/><stop offset="0.53" stop-color="#f9fb0e"/><stop offset="0.55" stop-color="#f9fb0e"/><stop offset="0.56" stop-color="#f9fb0e"/><stop offset="0.58" stop-color="#f9fb0e"/><stop offset="0.59" stop-color="#f9fb0e"/><stop offset="0.61" stop-color="#f9fb0e"/><stop offset="0.62" stop-color="#f9fb0e"/><stop offset="0.64" stop-color="#f9fb0e"/><stop offset="0.66" stop-color="#f9fb0e"/><stop offset="0.67" stop-color="#f9fb0e"/><stop offset="0.69" stop-color="#f9fb0e"/><stop offset="0.7" stop-color="#f9fb0e"/><stop offset="0.72" stop-color="#f9fb0e"/><stop offset="0.73" stop-color="#f9fa0e"/><stop offset="0.75" stop-color="#f5e61c"/><stop offset="0.77" stop-color="#f9d429"/><stop offset="0.78" stop-color="#fec13a"/><stop offset="0.8" stop-color="#daba55"/><stop offset="0.81" stop-color="#a6be6a"/><stop offset="0.83" stop-color="#60be88"/><stop offset="0.84" stop-color="#15b1b4"/><stop offset="0.86" stop-color="#089ad0"/><stop offset="0.88" stop-color="#127dd8"/><stop offset="0.89" stop-color="#0860df"/><stop offset="0.91" stop-color="#3638a3"/><stop offset="0.92" stop-color="#362e8e"/><stop offset="0.94" stop-color="#36359d"/><stop offset="0.95" stop-color="#36359d"/><stop offset="0.97" stop-color="#36359d"/><stop offset="0.98" stop-color="#36359d"/><stop offset="1" stop-color="#36359d"/></linearGradient>
<linearGradient id="hc_10938" x1="0" y1="0" x2="0" y2="1"><stop offset="0" stop-color="#36359e"/><stop offset="0.02" stop-color="#36359e"/><stop offset="0.03" stop-color="#36359e"/><stop offset="0.05" stop-color="#36359e"/><stop offset="0.06" stop-color="#36359d"/><stop offset="0.08" stop-color="#352d8b"/><stop offset="0.09" stop-color="#353ba8"/><stop offset="0.11" stop-color="#0364e1"/><stop offset="0.12" stop-color="#137fd6"/><stop offset="0.14" stop-color="#079dcf"/><stop offset="0.16" stop-color="#1cb3af"/><stop offset="0.17" stop-color="#6abe84"/><stop offset="0.19" stop-color="#adbe68"/><stop offset="0.2" stop-color="#e0ba53"/><stop offset="0.22" stop-color="#ffc337"/><stop offset="0.23" stop-color="#f8d727"/><stop offset="0.25" stop-color="#f5e81a"/><stop offset="0.27" stop-color="#f9fb0e"/><stop offset="0.28" stop-color="#f9fb0e"/><stop offset="0.3" stop-color="#f9fb0e"/><stop offset="0.31" stop-color="#f9fb0e"/><stop offset="0.33" stop-color="#f9fb0e"/><stop offset="0.34" stop-color="#f9fb0e"/><stop offset="0.36" stop-color="#f9fb0e"/><stop offset="0.38" stop-color="#f9fb0e"/><stop offset="0.39" stop-color="#f9fb0e"/><stop offset="0.41" stop-color="#f9fb0e"/><stop offset="0.42" stop-color="#f9fb0e"/><stop offset="0.44" stop-color="#f9fb0e"/><stop offset="0.45" stop-color="#f9fb0e"/><stop offset="0.47" stop-color="#f9fb0e"/><stop offset="0.48" stop-color="#f9fb0e"/><stop offset="0.5" stop-color="#f9fb0e"/><stop offset="0.52" stop-color="#f9fb0e"/><stop offset="0.53" stop-color="#f9fb0e"/><stop offset="0.55" stop-color="#f9fb0e"/><stop offset="0.56" stop-color="#f9fb0e"/><stop offset="0.58" stop-color="#f9fb0e"/><stop offset="0.59" stop-color="#f9fb0e"/><stop offset="0.61" stop-color="#f9fb0e"/><stop offset="0.62" stop-color="#f9fb0e"/><stop offset="0.64" stop-color="#f9fb0e"/><stop offset="0.66" stop-color="#f9fb0e"/><stop offset="0.67" stop-color="#f9fb0e"/><stop offset="0.69" stop-color="#f9fb0e"/><stop offset="0.7" stop-color="#f9fb0e"/><stop offset="0.72" stop-color="#f9fb0e"/><stop offset="0.73" stop-color="#f9fb0e"/><stop offset="0.75" stop-color="#f5e81a"/><stop offset="0.77" stop-color="#f8d727"/><stop offset="0.78" stop-color="#ffc337"/><stop offset="0.8" stop-color="#e0ba53"/><stop offset="0.81" stop-color="#adbe68"/><stop offset="0.83" stop-color="#6abe84"/><stop offset="0.84" stop-color="#1cb3af"/><stop offset="0.86" stop-color="#079dcf"/><stop offset="0.88" stop-color="#137fd6"/><stop offset="0.89" stop-color="#0364e1"/><stop offset="0.91" stop-color="#353ba8"/><stop offset="0.92" stop-color="#352d8b"/><stop offset="0.94" stop-color="#36359d"/><stop offset="0.95" stop-color="#36359e"/><stop offset="0.97" stop-color="#36359e"/><stop offset="0.98" stop-color="#36359e"/><stop offset="1" stop-color="#36359e"/></linearGradient>
<linearGradient id="hc_7812" x1="0" y1="0" x2="0" y2="1"><stop offset="0" stop-color="#36369e"/><stop offset="0.02" stop-color="#36369e"/><stop offset="0.03" stop-color="#36369e"/><stop offset="0.05" stop-color="#36369e"/><stop offset="0.06" stop-color="#36359c"/><stop offset="0.08" stop-color="#352c89"/><stop offset="0.09" stop-color="#353dac"/><stop offset="0.11" stop-color="#0267e1"/><stop offset="0.12" stop-color="#1481d5"/><stop offset="0.14" stop-color="#069fce"/><stop offset="0.16" stop-color="#22b4ab"/><stop offset="0.17" stop-color="#71bf80"/><stop offset="0.19" stop-color="#b3bd65"/><stop offset="0.2" stop-color="#e4b950"/><stop offset="0.22" stop-color="#fec535"/><stop offset="0.23" stop-color="#f7d826"/><stop offset="0.25" stop-color="#f5ea19"/><stop offset="0.27" stop-color="#f9fb0e"/><stop offset="0.28" stop-color="#f9fb0e"/><stop offset="0.3" stop-color="#f9fb0e"/><stop offset="0.31" stop-color="#f9fb0e"/><stop offset="0.33" stop-color="#f9fb0e"/><stop offset="0.34" stop-color="#f9fb0e"/><stop offset="0.36" stop-color="#f9fb0e"/><stop offset="0.38" stop-color="#f9fb0e"/><stop offset="0.39" stop-color="#f9fb0e"/><stop offset="0.41" stop-color="#f9fb0e"/><stop offset="0.42" stop-color="#f9fb0e"/><stop offset="0.44" stop-color="#f9fb0e"/><stop offset="0.45" stop-color="#f9fb0e"/><stop offset="0.47" stop-color="#f9fb0e"/><stop offset="0.48" stop-color="#f9fb0e"/><stop offset="0.5" stop-color="#f9fb0e"/><stop offset="0.52" stop-color="#f9fb0e"/><stop offset="0.53" stop-color="#f9fb0e"/><stop offset="0.55" stop-color="#f9fb0e"/><stop offset="0.56" stop-color="#f9fb0e"/><stop offset="0.58" stop-color="#f9fb0e"/><stop offset="0.59" stop-color="#f9fb0e"/><stop offset="0.61" stop-color="#f9fb0e"/><stop offset="0.62" stop-color="#f9fb0e"/><stop offset="0.64" stop-color="#f9fb0e"/><stop offset="0.66" stop-color="#f9fb0e"/><stop offset="0.67" stop-color="#f9fb0e"/><stop offset="0.69" stop-color="#f9fb0e"/><stop offset="0.7" stop-color="#f9fb0e"/><stop offset="0.72" stop-color="#f9fb0e"/><stop offset="0.73" stop-color="#f9fb0e"/><stop offset="0.75" stop-color="#f5ea19"/><stop offset="0.77" stop-color="#f7d826"/><stop offset="0.78" stop-color="#fec535"/><stop offset="0.8" stop-color="#e4b950"/><stop offset="0.81" stop-color="#b3bd65"/><stop offset="0.83" stop-color="#71bf80"/><stop offset="0.84" stop-color="#22b4ab"/><stop offset="0.86" stop-color="#069fce"/><stop offset="0.88" stop-color="#1481d5"/><stop offset="0.89" stop-color="#0267e1"/><stop offset="0.91" stop-color="#353dac"/><stop offset="0.92" stop-color="#352c89"/><stop offset="0.94" stop-color="#36359c"/><stop offset="0.95" stop-color="#36369e"/><stop offset="0.97" stop-color="#36369e"/><stop offset="0.98" stop-color="#36369e"/><stop offset="1" stop-color="#36369e"/></linearGradient>
<linearGradient id="hc_4688" x1="0" y1="0" x2="0" y2="1"><stop offset="0" stop-color="#36369e"/><stop offset="0.02" stop-color="#36369e"/><stop offset="0.03" stop-color="#36369e"/><stop offset="0.05" stop-color="#36369e"/><stop offset="0.06" stop-color="#36349c"/><stop offset="0.08" stop-color="#352b88"/><stop offset="0.09" stop-color="#343eaf"/><stop offset="0.11" stop-color="#0269e1"/><stop offset="0.12" stop-color="#1483d5"/><stop offset="0.14" stop-color="#06a0cd"/><stop offset="0.16" stop-color="#26b5a9"/><stop offset="0.17" stop-color="#75bf7e"/><stop offset="0.19" stop-color="#b6bd64"/><stop offset="0.2" stop-color="#e7b94f"/><stop offset="0.22" stop-color="#fec634"/><stop offset="0.23" stop-color="#f7da25"/><stop offset="0.25" stop-color="#f5eb18"/><stop offset="0.27" stop-color="#f9fb0e"/><stop offset="0.28" stop-color="#f9fb0e"/><stop offset="0.3" stop-color="#f9fb0e"/><stop offset="0.31" stop-color="#f9fb0e"/><stop offset="0.33" stop-color="#f9fb0e"/><stop offset="0.34" stop-color="#f9fb0e"/><stop offset="0.36" stop-color="#f9fb0e"/><stop offset="0.38" stop-color="#f9fb0e"/><stop offset="0.39" stop-color="#f9fb0e"/><stop offset="0.41" stop-color="#f9fb0e"/><stop offset="0.42" stop-color="#f9fb0e"/><stop offset="0.44" stop-color="#f9fb0e"/><stop offset="0.45" stop-color="#f9fb0e"/><stop offset="0.47" stop-color="#f9fb0e"/><stop offset="0.48" stop-color="#f9fb0e"/><stop offset="0.5" stop-color="#f9fb0e"/><stop offset="0.52" stop-color="#f9fb0e"/><stop offset="0.53" stop-color="#f9fb0e"/><stop offset="0.55" stop-color="#f9fb0e"/><stop offset="0.56" stop-color="#f9fb0e"/><stop offset="0.58" stop-color="#f9fb0e"/><stop offset="0.59" stop-color="#f9fb0e"/><stop offset="0.61" stop-color="#f9fb0e"/><stop offset="0.62" stop-color="#f9fb0e"/><stop offset="0.64" stop-color="#f9fb0e"/><stop offset="0.66" stop-color="#f9fb0e"/><stop offset="0.67" stop-color="#f9fb0e"/><stop offset="0.69" stop-color="#f9fb0e"/><stop offset="0.7" stop-color="#f9fb0e"/><stop offset="0.72" stop-color="#f9fb0e"/><stop offset="0.73" stop-color="#f9fb0e"/><stop offset="0.75" stop-color="#f5eb18"/><stop offset="0.77" stop-color="#f7da25"/><stop offset="0.78" stop-color="#fec634"/><stop offset="0.8" stop-color="#e7b94f"/><stop offset="0.81" stop-color="#b6bd64"/><stop offset="0.83" stop-color="#75bf7e"/><stop offset="0.84" stop-color="#26b5a9"/><stop offset="0.86" stop-color="#06a0cd"/><stop offset="0.88" stop-color="#1483d5"/><stop offset="0.89" stop-color="#0269e1"/><stop offset="0.91" stop-color="#343eaf"/><stop offset="0.92" stop-color="#352b88"/><stop offset="0.94" stop-color="#36349c"/><stop offset="0.95" stop-color="#36369e"/><stop offset="0.97" stop-color="#36369e"/><stop offset="0.98" stop-color="#36369e"/><stop offset="1" stop-color="#36369e"/></linearGradient>
<linearGradient id="hc_1562" x1="0" y1="0" x2="0" y2="1"><stop offset="0" stop-color="#36369e"/><stop offset="0.02" stop-color="#36369e"/><stop offset="0.03" stop-color="#36369e"/><stop offset="0.05" stop-color="#36369e"/><stop offset="0.06" stop-color="#36349b"/><stop offset="0.08" stop-color="#352b87"/><stop offset="0.09" stop-color="#343fb1"/><stop offset="0.11" stop-color="#026ae1"/><stop offset="0.12" stop-color="#1483d4"/><stop offset="0.14" stop-color="#06a1cc"/><stop offset="0.16" stop-color="#28b6a7"/><stop offset="0.17" stop-color="#78bf7d"/><stop offset="0.19" stop-color="#b8bd63"/><stop offset="0.2" stop-color="#e9b94e"/><stop offset="0.22" stop-color="#fec734"/><stop offset="0.23" stop-color="#f7da24"/><stop offset="0.25" stop-color="#f5ec18"/><stop offset="0.27" stop-color="#f9fb0e"/><stop offset="0.28" stop-color="#f9fb0e"/><stop offset="0.3" stop-color="#f9fb0e"/><stop offset="0.31" stop-color="#f9fb0e"/><stop offset="0.33" stop-color="#f9fb0e"/><stop offset="0.34" stop-color="#f9fb0e"/><stop offset="0.36" stop-color="#f9fb0e"/><stop offset="0.38" stop-color="#f9fb0e"/><stop offset="0.39" stop-color="#f9fb0e"/><stop offset="0.41" stop-color="#f9fb0e"/><stop offset="0.42" stop-color="#f9fb0e"/><stop offset="0.44" stop-color="#f9fb0e"/><stop offset="0.45" stop-color="#f9fb0e"/><stop offset="0.47" stop-color="#f9fb0e"/><stop offset="0.48" stop-color="#f9fb0e"/><stop offset="0.5" stop-color="#f9fb0e"/><stop offset="0.52" stop-color="#f9fb0e"/><stop offset="0.53" stop-color="#f9fb0e"/><stop offset="0.55" stop-color="#f9fb0e"/><stop offset="0.56" stop-color="#f9fb0e"/><stop offset="0.58" stop-color="#f9fb0e"/><stop offset="0.59" stop-color="#f9fb0e"/><stop offset="0.61" stop-color="#f9fb0e"/><stop offset="0.62" stop-color="#f9fb0e"/><stop offset="0.64" stop-color="#f9fb0e"/><stop offset="0.66" stop-color="#f9fb0e"/><stop offset="0.67" stop-color="#f9fb0e"/><stop offset="0.69" stop-color="#f9fb0e"/><stop offset="0.7" stop-color="#f9fb0e"/><stop offset="0.72" stop-color="#f9fb0e"/><stop offset="0.73" stop-color="#f9fb0e"/><stop offset="0.75" stop-color="#f5ec18"/><stop offset="0.77" stop-color="#f7da24"/><stop offset="0.78" stop-color="#fec734"/><stop offset="0.8" stop-color="#e9b94e"/><stop offset="0.81" stop-color="#b8bd63"/><stop offset="0.83" stop-color="#78bf7d"/><stop offset="0.84" stop-color="#28b6a7"/><stop offset="0.86" stop-color="#06a1cc"/><stop offset="0.88" stop-color="#1483d4"/><stop offset="0.89" stop-color="#026ae1"/><stop offset="0.91" stop-color="#343fb1"/><stop offset="0.92" stop-color="#352b87"/><stop offset="0.94" stop-color="#36349b"/><stop offset="0.95" stop-color="#36369e"/><stop offset="0.97" stop-color="#36369e"/><stop offset="0.98" stop-color="#36369e"/><stop offset="1" stop-color="#36369e"/></linearGradient>
<g id="perc"><rect x="0" y="0" width="2.48" height="168.6" fill="url(#hc_48438)"/><rect x="0.48" y="0" width="2.48" height="168.6" fill="url(#hc_45312)"/><rect x="0.96" y="0" width="2.48" height="168.6" fill="url(#hc_42188)"/><rect x="1.43" y="0" width="2.48" height="168.6" fill="url(#hc_39062)"/><rect x="1.91" y="0" width="2.48" height="168.6" fill="url(#hc_35938)"/><rect x="2.39" y="0" width="2.48" height="168.6" fill="url(#hc_32812)"/><rect x="2.87" y="0" width="2.48" height="168.6" fill="url(#hc_29688)"/><rect x="3.35" y="0" width="2.48" height="168.6" fill="url(#hc_26562)"/><rect x="3.82" y="0" width="2.48" height="168.6" fill="url(#hc_23438)"/><rect x="4.3" y="0" width="2.48" height="168.6" fill="url(#hc_20312)"/><rect x="4.78" y="0" width="2.48" height="168.6" fill="url(#hc_17188)"/><rect x="5.26" y="0" width="2.48" height="168.6" fill="url(#hc_14062)"/><rect x="5.74" y="0" width="2.48" height="168.6" fill="url(#hc_10938)"/><rect x="6.22" y="0" width="2.48" height="168.6" fill="url(#hc_7812)"/><rect x="6.69" y="0" width="2.48" height="168.6" fill="url(#hc_4688)"/><rect x="7.17" y="0" width="2.48" height="168.6" fill="url(#hc_1562)"/><rect x="7.65" y="0" width="2.48" height="168.6" fill="url(#hc_1562)"/><rect x="8.13" y="0" width="2.48" height="168.6" fill="url(#hc_4688)"/><rect x="8.61" y="0" width="2.48" height="168.6" fill="url(#hc_7812)"/><rect x="9.08" y="0" width="2.48" height="168.6" fill="url(#hc_10938)"/><rect x="9.56" y="0" width="2.48" height="168.6" fill="url(#hc_14062)"/><rect x="10.04" y="0" width="2.48" height="168.6" fill="url(#hc_17188)"/><rect x="10.52" y="0" width="2.48" height="168.6" fill="url(#hc_20312)"/><rect x="11" y="0" width="2.48" height="168.6" fill="url(#hc_23438)"/><rect x="11.47" y="0" width="2.48" height="168.6" fill="url(#hc_26562)"/><rect x="11.95" y="0" width="2.48" height="168.6" fill="url(#hc_29688)"/><rect x="12.43" y="0" width="2.48" height="168.6" fill="url(#hc_32812)"/><rect x="12.91" y="0" width="2.48" height="168.6" fill="url(#hc_35938)"/><rect x="13.39" y="0" width="2.48" height="168.6" fill="url(#hc_39062)"/><rect x="13.87" y="0" width="2.48" height="168.6" fill="url(#hc_42188)"/><rect x="14.34" y="0" width="2.48" height="168.6" fill="url(#hc_45312)"/><rect x="14.82" y="0" width="2.48" height="168.6" fill="url(#hc_48438)"/></g>
<clipPath id="clipc"><rect x="133.1" y="271.4" width="183.6" height="168.6"/></clipPath>
<linearGradient id="cbc" x1="0" y1="0" x2="0" y2="1"><stop offset="0" stop-color="#f9fb0e"/><stop offset="0.02" stop-color="#f6f313"/><stop offset="0.03" stop-color="#f5eb18"/><stop offset="0.05" stop-color="#f5e51d"/><stop offset="0.06" stop-color="#f5de21"/><stop offset="0.08" stop-color="#f7d925"/><stop offset="0.09" stop-color="#f9d329"/><stop offset="0.11" stop-color="#fcce2d"/><stop offset="0.12" stop-color="#fec932"/><stop offset="0.14" stop-color="#ffc436"/><stop offset="0.16" stop-color="#febf3c"/><stop offset="0.17" stop-color="#f9bb43"/><stop offset="0.19" stop-color="#f2b949"/><stop offset="0.2" stop-color="#ebb94d"/><stop offset="0.22" stop-color="#e3b951"/><stop offset="0.23" stop-color="#dbba55"/><stop offset="0.25" stop-color="#d3bb58"/><stop offset="0.27" stop-color="#cbbb5c"/><stop offset="0.28" stop-color="#c2bc5f"/><stop offset="0.3" stop-color="#babd63"/><stop offset="0.31" stop-color="#b1bd66"/><stop offset="0.33" stop-color="#a8be6a"/><stop offset="0.34" stop-color="#9fbe6d"/><stop offset="0.36" stop-color="#95bf71"/><stop offset="0.38" stop-color="#8bbf75"/><stop offset="0.39" stop-color="#80bf7a"/><stop offset="0.41" stop-color="#75bf7e"/><stop offset="0.42" stop-color="#6abe83"/><stop offset="0.44" stop-color="#5ebe89"/><stop offset="0.45" stop-color="#52bd8f"/><stop offset="0.47" stop-color="#47bb95"/><stop offset="0.48" stop-color="#3dba9b"/><stop offset="0.5" stop-color="#33b8a1"/><stop offset="0.52" stop-color="#2ab6a7"/><stop offset="0.53" stop-color="#21b4ac"/><stop offset="0.55" stop-color="#1ab2b1"/><stop offset="0.56" stop-color="#13b0b6"/><stop offset="0.58" stop-color="#0dadbb"/><stop offset="0.59" stop-color="#09abbf"/><stop offset="0.61" stop-color="#06a8c4"/><stop offset="0.62" stop-color="#06a6c7"/><stop offset="0.64" stop-color="#06a2cb"/><stop offset="0.66" stop-color="#069fce"/><stop offset="0.67" stop-color="#079bd0"/><stop offset="0.69" stop-color="#0a97d1"/><stop offset="0.7" stop-color="#0e92d2"/><stop offset="0.72" stop-color="#118dd2"/><stop offset="0.73" stop-color="#1388d3"/><stop offset="0.75" stop-color="#1484d4"/><stop offset="0.77" stop-color="#1480d6"/><stop offset="0.78" stop-color="#127cd8"/><stop offset="0.8" stop-color="#0f78db"/><stop offset="0.81" stop-color="#0c74dd"/><stop offset="0.83" stop-color="#0870df"/><stop offset="0.84" stop-color="#046ce0"/><stop offset="0.86" stop-color="#0267e1"/><stop offset="0.88" stop-color="#0462e0"/><stop offset="0.89" stop-color="#115bdc"/><stop offset="0.91" stop-color="#2152d3"/><stop offset="0.92" stop-color="#2c4ac6"/><stop offset="0.94" stop-color="#3243b9"/><stop offset="0.95" stop-color="#353dac"/><stop offset="0.97" stop-color="#36369f"/><stop offset="0.98" stop-color="#363093"/><stop offset="1" stop-color="#352a87"/></linearGradient>
<linearGradient id="hd_48438" x1="0" y1="0" x2="0" y2="1"><stop offset="0" stop-color="#352a87"/><stop offset="0.02" stop-color="#352a87"/><stop offset="0.03" stop-color="#352a87"/><stop offset="0.05" stop-color="#352a87"/><stop offset="0.06" stop-color="#352a87"/><stop offset="0.08" stop-color="#352a87"/><stop offset="0.09" stop-color="#352a87"/><stop offset="0.11" stop-color="#352a87"/><stop offset="0.12" stop-color="#352a87"/><stop offset="0.14" stop-color="#352a87"/><stop offset="0.16" stop-color="#352a87"/><stop offset="0.17" stop-color="#352a87"/><stop offset="0.19" stop-color="#352a87"/><stop offset="0.2" stop-color="#352a87"/><stop offset="0.22" stop-color="#352a87"/><stop offset="0.23" stop-color="#352a87"/><stop offset="0.25" stop-color="#352a87"/><stop offset="0.27" stop-color="#352a87"/><stop offset="0.28" stop-color="#352a87"/><stop offset="0.3" stop-color="#352a87"/><stop offset="0.31" stop-color="#352a87"/><stop offset="0.33" stop-color="#352a87"/><stop offset="0.34" stop-color="#352a87"/><stop offset="0.36" stop-color="#352a87"/><stop offset="0.38" stop-color="#352a87"/><stop offset="0.39" stop-color="#352a87"/><stop offset="0.41" stop-color="#352a87"/><stop offset="0.42" stop-color="#352a87"/><stop offset="0.44" stop-color="#352a87"/><stop offset="0.45" stop-color="#352a87"/><stop offset="0.47" stop-color="#352a87"/><stop offset="0.48" stop-color="#352a87"/><stop offset="0.5" stop-color="#352a87"/><stop offset="0.52" stop-color="#352a87"/><stop offset="0.53" stop-color="#352a87"/><stop offset="0.55" stop-color="#352a87"/><stop offset="0.56" stop-color="#352a87"/><stop offset="0.58" stop-color="#352a87"/><stop offset="0.59" stop-color="#352a87"/><stop offset="0.61" stop-color="#352a87"/><stop offset="0.62" stop-color="#352a87"/><stop offset="0.64" stop-color="#352a87"/><stop offset="0.66" stop-color="#352a87"/><stop offset="0.67" stop-color="#352a87"/><stop offset="0.69" stop-color="#352a87"/><stop offset="0.7" stop-color="#352a87"/><stop offset="0.72" stop-color="#352a87"/><stop offset="0.73" stop-color="#352a87"/><stop offset="0.75" stop-color="#352a87"/><stop offset="0.77" stop-color="#352a87"/><stop offset="0.78" stop-color="#352a87"/><stop offset="0.8" stop-color="#352a87"/><stop offset="0.81" stop-color="#352a87"/><stop offset="0.83" stop-color="#352a87"/><stop offset="0.84" stop-color="#352a87"/><stop offset="0.86" stop-color="#352a87"/><stop offset="0.88" stop-color="#352a87"/><stop offset="0.89" stop-color="#352a87"/><stop offset="0.91" stop-color="#352a87"/><stop offset="0.92" stop-color="#352a87"/><stop offset="0.94" stop-color="#352a87"/><stop offset="0.95" stop-color="#352a87"/><stop offset="0.97" stop-color="#352a87"/><stop offset="0.98" stop-color="#352a87"/><stop offset="1" stop-color="#352a87"/></linearGradient>
<linearGradient id="hd_45312" x1="0" y1="0" x2="0" y2="1"><stop offset="0" stop-color="#352a87"/><stop offset="0.02" stop-color="#352a87"/><stop offset="0.03" stop-color="#352a87"/><stop offset="0.05" stop-color="#352a87"/><stop offset="0.06" stop-color="#352a87"/><stop offset="0.08" stop-color="#352a87"/><stop offset="0.09" stop-color="#352a87"/><stop offset="0.11" stop-color="#352a87"/><stop offset="0.12" stop-color="#352a87"/><stop offset="0.14" stop-color="#352a87"/><stop offset="0.16" stop-color="#352a87"/><stop offset="0.17" stop-color="#352a87"/><stop offset="0.19" stop-color="#352a87"/><stop offset="0.2" stop-color="#352a87"/><stop offset="0.22" stop-color="#352a87"/><stop offset="0.23" stop-color="#352a87"/><stop offset="0.25" stop-color="#352a87"/><stop offset="0.27" stop-color="#352a87"/><stop offset="0.28" stop-color="#352a87"/><stop offset="0.3" stop-color="#352a87"/><stop offset="0.31" stop-color="#352a87"/><stop offset="0.33" stop-color="#352a87"/><stop offset="0.34" stop-color="#352a87"/><stop offset="0.36" stop-color="#352a87"/><stop offset="0.38" stop-color="#352a87"/><stop offset="0.39" stop-color="#352a87"/><stop offset="0.41" stop-color="#352a87"/><stop offset="0.42" stop-color="#352a87"/><stop offset="0.44" stop-color="#352a87"/><stop offset="0.45" stop-color="#352a87"/><stop offset="0.47" stop-color="#352a87"/><stop offset="0.48" stop-color="#352a87"/><stop offset="0.5" stop-color="#352a87"/><stop offset="0.52" stop-color="#352a87"/><stop offset="0.53" stop-color="#352a87"/><stop offset="0.55" stop-color="#352a87"/><stop offset="0.56" stop-color="#352a87"/><stop offset="0.58" stop-color="#352a87"/><stop offset="0.59" stop-color="#352a87"/><stop offset="0.61" stop-color="#352a87"/><stop offset="0.62" stop-color="#352a87"/><stop offset="0.64" stop-color="#352a87"/><stop offset="0.66" stop-color="#352a87"/><stop offset="0.67" stop-color="#352a87"/><stop offset="0.69" stop-color="#352a87"/><stop offset="0.7" stop-color="#352a87"/><stop offset="0.72" stop-color="#352a87"/><stop offset="0.73" stop-color="#352a87"/><stop offset="0.75" stop-color="#352a87"/><stop offset="0.77" stop-color="#352a87"/><stop offset="0.78" stop-color="#352a87"/><stop offset="0.8" stop-color="#352a87"/><stop offset="0.81" stop-color="#352a87"/><stop offset="0.83" stop-color="#352a87"/><stop offset="0.84" stop-color="#352a87"/><stop offset="0.86" stop-color="#352a87"/><stop offset="0.88" stop-color="#352a87"/><stop offset="0.89" stop-color="#352a87"/><stop offset="0.91" stop-color="#352a87"/><stop offset="0.92" stop-color="#352a87"/><stop offset="0.94" stop-color="#352a87"/><stop offset="0.95" stop-color="#352a87"/><stop offset="0.97" stop-color="#352a87"/><stop offset="0.98" stop-color="#352a87"/><stop offset="1" stop-color="#352a87"/></linearGradient>
<linearGradient id="hd_42188" x1="0" y1="0" x2="0" y2="1"><stop offset="0" stop-color="#352a87"/><stop offset="0.02" stop-color="#352a87"/><stop offset="0.03" stop-color="#352a87"/><stop offset="0.05" stop-color="#352a87"/><stop offset="0.06" stop-color="#352a87"/><stop offset="0.08" stop-color="#352a87"/><stop offset="0.09" stop-color="#352a87"/><stop offset="0.11" stop-color="#352a87"/><stop offset="0.12" stop-color="#352a87"/><stop offset="0.14" stop-color="#352a87"/><stop offset="0.16" stop-color="#352a87"/><stop offset="0.17" stop-color="#352a87"/><stop offset="0.19" stop-color="#352a87"/><stop offset="0.2" stop-color="#352a87"/><stop offset="0.22" stop-color="#352a87"/><stop offset="0.23" stop-color="#352a87"/><stop offset="0.25" stop-color="#352a87"/><stop offset="0.27" stop-color="#352a87"/><stop offset="0.28" stop-color="#352a87"/><stop offset="0.3" stop-color="#352c8a"/><stop offset="0.31" stop-color="#362f90"/><stop offset="0.33" stop-color="#363092"/><stop offset="0.34" stop-color="#363092"/><stop offset="0.36" stop-color="#363092"/><stop offset="0.38" stop-color="#363092"/><stop offset="0.39" stop-color="#363092"/><stop offset="0.41" stop-color="#363092"/><stop offset="0.42" stop-color="#363092"/><stop offset="0.44" stop-color="#363092"/><stop offset="0.45" stop-color="#363092"/><stop offset="0.47" stop-color="#363092"/><stop offset="0.48" stop-color="#363092"/><stop offset="0.5" stop-color="#363092"/><stop offset="0.52" stop-color="#363092"/><stop offset="0.53" stop-color="#363092"/><stop offset="0.55" stop-color="#363092"/><stop offset="0.56" stop-color="#363092"/><stop offset="0.58" stop-color="#363092"/><stop offset="0.59" stop-color="#363092"/><stop offset="0.61" stop-color="#363092"/><stop offset="0.62" stop-color="#363092"/><stop offset="0.64" stop-color="#363092"/><stop offset="0.66" stop-color="#363092"/><stop offset="0.67" stop-color="#363092"/><stop offset="0.69" stop-color="#362f90"/><stop offset="0.7" stop-color="#352c8a"/><stop offset="0.72" stop-color="#352a87"/><stop offset="0.73" stop-color="#352a87"/><stop offset="0.75" stop-color="#352a87"/><stop offset="0.77" stop-color="#352a87"/><stop offset="0.78" stop-color="#352a87"/><stop offset="0.8" stop-color="#352a87"/><stop offset="0.81" stop-color="#352a87"/><stop offset="0.83" stop-color="#352a87"/><stop offset="0.84" stop-color="#352a87"/><stop offset="0.86" stop-color="#352a87"/><stop offset="0.88" stop-color="#352a87"/><stop offset="0.89" stop-color="#352a87"/><stop offset="0.91" stop-color="#352a87"/><stop offset="0.92" stop-color="#352a87"/><stop offset="0.94" stop-color="#352a87"/><stop offset="0.95" stop-color="#352a87"/><stop offset="0.97" stop-color="#352a87"/><stop offset="0.98" stop-color="#352a87"/><stop offset="1" stop-color="#352a87"/></linearGradient>
<linearGradient id="hd_39062" x1="0" y1="0" x2="0" y2="1"><stop offset="0" stop-color="#352a87"/><stop offset="0.02" stop-color="#352a87"/><stop offset="0.03" stop-color="#352a87"/><stop offset="0.05" stop-color="#352a87"/><stop offset="0.06" stop-color="#352a87"/><stop offset="0.08" stop-color="#352a87"/><stop offset="0.09" stop-color="#352a87"/><stop offset="0.11" stop-color="#352a87"/><stop offset="0.12" stop-color="#352a87"/><stop offset="0.14" stop-color="#352a87"/><stop offset="0.16" stop-color="#352a87"/><stop offset="0.17" stop-color="#352a87"/><stop offset="0.19" stop-color="#352a87"/><stop offset="0.2" stop-color="#352a87"/><stop offset="0.22" stop-color="#352d8c"/><stop offset="0.23" stop-color="#363195"/><stop offset="0.25" stop-color="#36359e"/><stop offset="0.27" stop-color="#3639a5"/><stop offset="0.28" stop-color="#353dac"/><stop offset="0.3" stop-color="#3144bb"/><stop offset="0.31" stop-color="#284dca"/><stop offset="0.33" stop-color="#2450cf"/><stop offset="0.34" stop-color="#2350d0"/><stop offset="0.36" stop-color="#2251d1"/><stop offset="0.38" stop-color="#2251d1"/><stop offset="0.39" stop-color="#2251d2"/><stop offset="0.41" stop-color="#2251d2"/><stop offset="0.42" stop-color="#2152d2"/><stop offset="0.44" stop-color="#2152d2"/><stop offset="0.45" stop-color="#2152d2"/><stop offset="0.47" stop-color="#2152d3"/><stop offset="0.48" stop-color="#2152d3"/><stop offset="0.5" stop-color="#2052d3"/><stop offset="0.52" stop-color="#2152d3"/><stop offset="0.53" stop-color="#2152d3"/><stop offset="0.55" stop-color="#2152d2"/><stop offset="0.56" stop-color="#2152d2"/><stop offset="0.58" stop-color="#2152d2"/><stop offset="0.59" stop-color="#2251d2"/><stop offset="0.61" stop-color="#2251d2"/><stop offset="0.62" stop-color="#2251d1"/><stop offset="0.64" stop-color="#2251d1"/><stop offset="0.66" stop-color="#2350d0"/><stop offset="0.67" stop-color="#2450cf"/><stop offset="0.69" stop-color="#284dca"/><stop offset="0.7" stop-color="#3144bb"/><stop offset="0.72" stop-color="#353dac"/><stop offset="0.73" stop-color="#3639a5"/><stop offset="0.75" stop-color="#36359e"/><stop offset="0.77" stop-color="#363195"/><stop offset="0.78" stop-color="#352d8c"/><stop offset="0.8" stop-color="#352a87"/><stop offset="0.81" stop-color="#352a87"/><stop offset="0.83" stop-color="#352a87"/><stop offset="0.84" stop-color="#352a87"/><stop offset="0.86" stop-color="#352a87"/><stop offset="0.88" stop-color="#352a87"/><stop offset="0.89" stop-color="#352a87"/><stop offset="0.91" stop-color="#352a87"/><stop offset="0.92" stop-color="#352a87"/><stop offset="0.94" stop-color="#352a87"/><stop offset="0.95" stop-color="#352a87"/><stop offset="0.97" stop-color="#352a87"/><stop offset="0.98" stop-color="#352a87"/><stop offset="1" stop-color="#352a87"/></linearGradient>
<linearGradient id="hd_35938" x1="0" y1="0" x2="0" y2="1"><stop offset="0" stop-color="#352a87"/><stop offset="0.02" stop-color="#352a87"/><stop offset="0.03" stop-color="#352a87"/><stop offset="0.05" stop-color="#352a87"/><stop offset="0.06" stop-color="#352a87"/><stop offset="0.08" stop-color="#352a87"/><stop offset="0.09" stop-color="#352a87"/><stop offset="0.11" stop-color="#352a87"/><stop offset="0.12" stop-color="#352a87"/><stop offset="0.14" stop-color="#352b87"/><stop offset="0.16" stop-color="#352d8c"/><stop offset="0.17" stop-color="#363093"/><stop offset="0.19" stop-color="#36349b"/><stop offset="0.2" stop-color="#353aa8"/><stop offset="0.22" stop-color="#3045bd"/><stop offset="0.23" stop-color="#2152d3"/><stop offset="0.25" stop-color="#0761e0"/><stop offset="0.27" stop-color="#0269e1"/><stop offset="0.28" stop-color="#0870df"/><stop offset="0.3" stop-color="#1079da"/><stop offset="0.31" stop-color="#1481d6"/><stop offset="0.33" stop-color="#1483d4"/><stop offset="0.34" stop-color="#1485d4"/><stop offset="0.36" stop-color="#1485d4"/><stop offset="0.38" stop-color="#1486d4"/><stop offset="0.39" stop-color="#1486d4"/><stop offset="0.41" stop-color="#1486d4"/><stop offset="0.42" stop-color="#1486d3"/><stop offset="0.44" stop-color="#1487d3"/><stop offset="0.45" stop-color="#1487d3"/><stop offset="0.47" stop-color="#1487d3"/><stop offset="0.48" stop-color="#1487d3"/><stop offset="0.5" stop-color="#1487d3"/><stop offset="0.52" stop-color="#1487d3"/><stop offset="0.53" stop-color="#1487d3"/><stop offset="0.55" stop-color="#1487d3"/><stop offset="0.56" stop-color="#1487d3"/><stop offset="0.58" stop-color="#1486d3"/><stop offset="0.59" stop-color="#1486d4"/><stop offset="0.61" stop-color="#1486d4"/><stop offset="0.62" stop-color="#1486d4"/><stop offset="0.64" stop-color="#1485d4"/><stop offset="0.66" stop-color="#1485d4"/><stop offset="0.67" stop-color="#1483d4"/><stop offset="0.69" stop-color="#1481d6"/><stop offset="0.7" stop-color="#1079da"/><stop offset="0.72" stop-color="#0870df"/><stop offset="0.73" stop-color="#0269e1"/><stop offset="0.75" stop-color="#0761e0"/><stop offset="0.77" stop-color="#2152d3"/><stop offset="0.78" stop-color="#3045bd"/><stop offset="0.8" stop-color="#353aa8"/><stop offset="0.81" stop-color="#36349b"/><stop offset="0.83" stop-color="#363093"/><stop offset="0.84" stop-color="#352d8c"/><stop offset="0.86" stop-color="#352b87"/><stop offset="0.88" stop-color="#352a87"/><stop offset="0.89" stop-color="#352a87"/><stop offset="0.91" stop-color="#352a87"/><stop offset="0.92" stop-color="#352a87"/><stop offset="0.94" stop-color="#352a87"/><stop offset="0.95" stop-color="#352a87"/><stop offset="0.97" stop-color="#352a87"/><stop offset="0.98" stop-color="#352a87"/><stop offset="1" stop-color="#352a87"/></linearGradient>
<linearGradient id="hd_32812" x1="0" y1="0" x2="0" y2="1"><stop offset="0" stop-color="#352a87"/><stop offset="0.02" stop-color="#352a87"/><stop offset="0.03" stop-color="#352a87"/><stop offset="0.05" stop-color="#352a87"/><stop offset="0.06" stop-color="#352a87"/><stop offset="0.08" stop-color="#352a87"/><stop offset="0.09" stop-color="#352a87"/><stop offset="0.11" stop-color="#352d8c"/><stop offset="0.12" stop-color="#363092"/><stop offset="0.14" stop-color="#36359e"/><stop offset="0.16" stop-color="#353dad"/><stop offset="0.17" stop-color="#2e48c2"/><stop offset="0.19" stop-color="#1658d9"/><stop offset="0.2" stop-color="#036be1"/><stop offset="0.22" stop-color="#0f78db"/><stop offset="0.23" stop-color="#1484d4"/><stop offset="0.25" stop-color="#0c93d2"/><stop offset="0.27" stop-color="#069fce"/><stop offset="0.28" stop-color="#06a7c5"/><stop offset="0.3" stop-color="#0eaeba"/><stop offset="0.31" stop-color="#1eb3ae"/><stop offset="0.33" stop-color="#26b5a9"/><stop offset="0.34" stop-color="#2ab6a6"/><stop offset="0.36" stop-color="#2db7a4"/><stop offset="0.38" stop-color="#2eb7a4"/><stop offset="0.39" stop-color="#2fb7a3"/><stop offset="0.41" stop-color="#30b7a3"/><stop offset="0.42" stop-color="#31b8a2"/><stop offset="0.44" stop-color="#32b8a1"/><stop offset="0.45" stop-color="#33b8a1"/><stop offset="0.47" stop-color="#34b8a0"/><stop offset="0.48" stop-color="#35b8a0"/><stop offset="0.5" stop-color="#35b89f"/><stop offset="0.52" stop-color="#35b8a0"/><stop offset="0.53" stop-color="#34b8a0"/><stop offset="0.55" stop-color="#33b8a1"/><stop offset="0.56" stop-color="#32b8a1"/><stop offset="0.58" stop-color="#31b8a2"/><stop offset="0.59" stop-color="#30b7a3"/><stop offset="0.61" stop-color="#2fb7a3"/><stop offset="0.62" stop-color="#2eb7a4"/><stop offset="0.64" stop-color="#2db7a4"/><stop offset="0.66" stop-color="#2ab6a6"/><stop offset="0.67" stop-color="#26b5a9"/><stop offset="0.69" stop-color="#1eb3ae"/><stop offset="0.7" stop-color="#0eaeba"/><stop offset="0.72" stop-color="#06a7c5"/><stop offset="0.73" stop-color="#069fce"/><stop offset="0.75" stop-color="#0c93d2"/><stop offset="0.77" stop-color="#1484d4"/><stop offset="0.78" stop-color="#0f78db"/><stop offset="0.8" stop-color="#036be1"/><stop offset="0.81" stop-color="#1658d9"/><stop offset="0.83" stop-color="#2e48c2"/><stop offset="0.84" stop-color="#353dad"/><stop offset="0.86" stop-color="#36359e"/><stop offset="0.88" stop-color="#363092"/><stop offset="0.89" stop-color="#352d8c"/><stop offset="0.91" stop-color="#352a87"/><stop offset="0.92" stop-color="#352a87"/><stop offset="0.94" stop-color="#352a87"/><stop offset="0.95" stop-color="#352a87"/><stop offset="0.97" stop-color="#352a87"/><stop offset="0.98" stop-color="#352a87"/><stop offset="1" stop-color="#352a87"/></linearGradient>
<linearGradient id="hd_29688" x1="0" y1="0" x2="0" y2="1"><stop offset="0" stop-color="#352a87"/><stop offset="0.02" stop-color="#352a87"/><stop offset="0.03" stop-color="#352a87"/><stop offset="0.05" stop-color="#352a87"/><stop offset="0.06" stop-color="#352b88"/><stop offset="0.08" stop-color="#352d8b"/><stop offset="0.09" stop-color="#363194"/><stop offset="0.11" stop-color="#3638a3"/><stop offset="0.12" stop-color="#3144bb"/><stop offset="0.14" stop-color="#1d54d5"/><stop offset="0.16" stop-color="#0266e1"/><stop offset="0.17" stop-color="#0d75dc"/><stop offset="0.19" stop-color="#1484d4"/><stop offset="0.2" stop-color="#0999d1"/><stop offset="0.22" stop-color="#06a8c5"/><stop offset="0.23" stop-color="#18b2b2"/><stop offset="0.25" stop-color="#39b99d"/><stop offset="0.27" stop-color="#57bd8d"/><stop offset="0.28" stop-color="#72bf80"/><stop offset="0.3" stop-color="#89bf76"/><stop offset="0.31" stop-color="#9cbf6e"/><stop offset="0.33" stop-color="#a5be6b"/><stop offset="0.34" stop-color="#acbe68"/><stop offset="0.36" stop-color="#b0bd66"/><stop offset="0.38" stop-color="#b1bd66"/><stop offset="0.39" stop-color="#b3bd65"/><stop offset="0.41" stop-color="#b4bd65"/><stop offset="0.42" stop-color="#b5bd65"/><stop offset="0.44" stop-color="#b6bd64"/><stop offset="0.45" stop-color="#b7bd64"/><stop offset="0.47" stop-color="#b8bd63"/><stop offset="0.48" stop-color="#b9bd63"/><stop offset="0.5" stop-color="#bbbd62"/><stop offset="0.52" stop-color="#b9bd63"/><stop offset="0.53" stop-color="#b8bd63"/><stop offset="0.55" stop-color="#b7bd64"/><stop offset="0.56" stop-color="#b6bd64"/><stop offset="0.58" stop-color="#b5bd65"/><stop offset="0.59" stop-color="#b4bd65"/><stop offset="0.61" stop-color="#b3bd65"/><stop offset="0.62" stop-color="#b1bd66"/><stop offset="0.64" stop-color="#b0bd66"/><stop offset="0.66" stop-color="#acbe68"/><stop offset="0.67" stop-color="#a5be6b"/><stop offset="0.69" stop-color="#9cbf6e"/><stop offset="0.7" stop-color="#89bf76"/><stop offset="0.72" stop-color="#72bf80"/><stop offset="0.73" stop-color="#57bd8d"/><stop offset="0.75" stop-color="#39b99d"/><stop offset="0.77" stop-color="#18b2b2"/><stop offset="0.78" stop-color="#06a8c5"/><stop offset="0.8" stop-color="#0999d1"/><stop offset="0.81" stop-color="#1484d4"/><stop offset="0.83" stop-color="#0d75dc"/><stop offset="0.84" stop-color="#0266e1"/><stop offset="0.86" stop-color="#1d54d5"/><stop offset="0.88" stop-color="#3144bb"/><stop offset="0.89" stop-color="#3638a3"/><stop offset="0.91" stop-color="#363194"/><stop offset="0.92" stop-color="#352d8b"/><stop offset="0.94" stop-color="#352b88"/><stop offset="0.95" stop-color="#352a87"/><stop offset="0.97" stop-color="#352a87"/><stop offset="0.98" stop-color="#352a87"/><stop offset="1" stop-color="#352a87"/></linearGradient>
<linearGradient id="hd_26562" x1="0" y1="0" x2="0" y2="1"><stop offset="0" stop-color="#352a87"/><stop offset="0.02" stop-color="#352a87"/><stop offset="0.03" stop-color="#352b88"/><stop offset="0.05" stop-color="#352c8a"/><stop offset="0.06" stop-color="#363092"/><stop offset="0.08" stop-color="#3637a0"/><stop offset="0.09" stop-color="#3243b8"/><stop offset="0.11" stop-color="#1c55d6"/><stop offset="0.12" stop-color="#0268e1"/><stop offset="0.14" stop-color="#0d75dc"/><stop offset="0.16" stop-color="#1483d5"/><stop offset="0.17" stop-color="#0998d1"/><stop offset="0.19" stop-color="#06a8c5"/><stop offset="0.2" stop-color="#1bb2b0"/><stop offset="0.22" stop-color="#41ba99"/><stop offset="0.23" stop-color="#6bbf83"/><stop offset="0.25" stop-color="#8dbf74"/><stop offset="0.27" stop-color="#a7be6a"/><stop offset="0.28" stop-color="#bdbd61"/><stop offset="0.3" stop-color="#cfbb5a"/><stop offset="0.31" stop-color="#dbba55"/><stop offset="0.33" stop-color="#e3b951"/><stop offset="0.34" stop-color="#eab94e"/><stop offset="0.36" stop-color="#eeb94b"/><stop offset="0.38" stop-color="#efb94b"/><stop offset="0.39" stop-color="#f0b94a"/><stop offset="0.41" stop-color="#f2b949"/><stop offset="0.42" stop-color="#f3b948"/><stop offset="0.44" stop-color="#f4ba47"/><stop offset="0.45" stop-color="#f5ba47"/><stop offset="0.47" stop-color="#f6ba46"/><stop offset="0.48" stop-color="#f7ba45"/><stop offset="0.5" stop-color="#f8bb44"/><stop offset="0.52" stop-color="#f7ba45"/><stop offset="0.53" stop-color="#f6ba46"/><stop offset="0.55" stop-color="#f5ba47"/><stop offset="0.56" stop-color="#f4ba47"/><stop offset="0.58" stop-color="#f3b948"/><stop offset="0.59" stop-color="#f2b949"/><stop offset="0.61" stop-color="#f0b94a"/><stop offset="0.62" stop-color="#efb94b"/><stop offset="0.64" stop-color="#eeb94b"/><stop offset="0.66" stop-color="#eab94e"/><stop offset="0.67" stop-color="#e3b951"/><stop offset="0.69" stop-color="#dbba55"/><stop offset="0.7" stop-color="#cfbb5a"/><stop offset="0.72" stop-color="#bdbd61"/><stop offset="0.73" stop-color="#a7be6a"/><stop offset="0.75" stop-color="#8dbf74"/><stop offset="0.77" stop-color="#6bbf83"/><stop offset="0.78" stop-color="#41ba99"/><stop offset="0.8" stop-color="#1bb2b0"/><stop offset="0.81" stop-color="#06a8c5"/><stop offset="0.83" stop-color="#0998d1"/><stop offset="0.84" stop-color="#1483d5"/><stop offset="0.86" stop-color="#0d75dc"/><stop offset="0.88" stop-color="#0268e1"/><stop offset="0.89" stop-color="#1c55d6"/><stop offset="0.91" stop-color="#3243b8"/><stop offset="0.92" stop-color="#3637a0"/><stop offset="0.94" stop-color="#363092"/><stop offset="0.95" stop-color="#352c8a"/><stop offset="0.97" stop-color="#352b88"/><stop offset="0.98" stop-color="#352a87"/><stop offset="1" stop-color="#352a87"/></linearGradient>
<linearGradient id="hd_23438" x1="0" y1="0" x2="0" y2="1"><stop offset="0" stop-color="#352a87"/><stop offset="0.02" stop-color="#352b88"/><stop offset="0.03" stop-color="#352c8b"/><stop offset="0.05" stop-color="#363296"/><stop offset="0.06" stop-color="#353ba9"/><stop offset="0.08" stop-color="#2c49c5"/><stop offset="0.09" stop-color="#095fdf"/><stop offset="0.11" stop-color="#046de0"/><stop offset="0.12" stop-color="#0f78db"/><stop offset="0.14" stop-color="#1484d4"/><stop offset="0.16" stop-color="#0a96d1"/><stop offset="0.17" stop-color="#06a8c4"/><stop offset="0.19" stop-color="#1db3af"/><stop offset="0.2" stop-color="#45bb96"/><stop offset="0.22" stop-color="#73bf7f"/><stop offset="0.23" stop-color="#95bf71"/><stop offset="0.25" stop-color="#adbe68"/><stop offset="0.27" stop-color="#bfbc60"/><stop offset="0.28" stop-color="#d0bb59"/><stop offset="0.3" stop-color="#dfba53"/><stop offset="0.31" stop-color="#ebb94d"/><stop offset="0.33" stop-color="#f3b948"/><stop offset="0.34" stop-color="#f9bb43"/><stop offset="0.36" stop-color="#fcbd3f"/><stop offset="0.38" stop-color="#fdbe3e"/><stop offset="0.39" stop-color="#fdbe3d"/><stop offset="0.41" stop-color="#febf3c"/><stop offset="0.42" stop-color="#fec03b"/><stop offset="0.44" stop-color="#fec13a"/><stop offset="0.45" stop-color="#fec139"/><stop offset="0.47" stop-color="#fec238"/><stop offset="0.48" stop-color="#ffc337"/><stop offset="0.5" stop-color="#ffc437"/><stop offset="0.52" stop-color="#ffc337"/><stop offset="0.53" stop-color="#fec238"/><stop offset="0.55" stop-color="#fec139"/><stop offset="0.56" stop-color="#fec13a"/><stop offset="0.58" stop-color="#fec03b"/><stop offset="0.59" stop-color="#febf3c"/><stop offset="0.61" stop-color="#fdbe3d"/><stop offset="0.62" stop-color="#fdbe3e"/><stop offset="0.64" stop-color="#fcbd3f"/><stop offset="0.66" stop-color="#f9bb43"/><stop offset="0.67" stop-color="#f3b948"/><stop offset="0.69" stop-color="#ebb94d"/><stop offset="0.7" stop-color="#dfba53"/><stop offset="0.72" stop-color="#d0bb59"/><stop offset="0.73" stop-color="#bfbc60"/><stop offset="0.75" stop-color="#adbe68"/><stop offset="0.77" stop-color="#95bf71"/><stop offset="0.78" stop-color="#73bf7f"/><stop offset="0.8" stop-color="#45bb96"/><stop offset="0.81" stop-color="#1db3af"/><stop offset="0.83" stop-color="#06a8c4"/><stop offset="0.84" stop-color="#0a96d1"/><stop offset="0.86" stop-color="#1484d4"/><stop offset="0.88" stop-color="#0f78db"/><stop offset="0.89" stop-color="#046de0"/><stop offset="0.91" stop-color="#095fdf"/><stop offset="0.92" stop-color="#2c49c5"/><stop offset="0.94" stop-color="#353ba9"/><stop offset="0.95" stop-color="#363296"/><stop offset="0.97" stop-color="#352c8b"/><stop offset="0.98" stop-color="#352b88"/><stop offset="1" stop-color="#352a87"/></linearGradient>
<linearGradient id="hd_20312" x1="0" y1="0" x2="0" y2="1"><stop offset="0" stop-color="#352a87"/><stop offset="0.02" stop-color="#352c89"/><stop offset="0.03" stop-color="#363092"/><stop offset="0.05" stop-color="#3638a3"/><stop offset="0.06" stop-color="#3046be"/><stop offset="0.08" stop-color="#125adb"/><stop offset="0.09" stop-color="#036ae1"/><stop offset="0.11" stop-color="#0c74dd"/><stop offset="0.12" stop-color="#137ed7"/><stop offset="0.14" stop-color="#128bd2"/><stop offset="0.16" stop-color="#079cd0"/><stop offset="0.17" stop-color="#09abbf"/><stop offset="0.19" stop-color="#28b6a8"/><stop offset="0.2" stop-color="#56bd8d"/><stop offset="0.22" stop-color="#85bf78"/><stop offset="0.23" stop-color="#a6be6a"/><stop offset="0.25" stop-color="#bdbd61"/><stop offset="0.27" stop-color="#cfbb5a"/><stop offset="0.28" stop-color="#e2b952"/><stop offset="0.3" stop-color="#f2b949"/><stop offset="0.31" stop-color="#fdbe3e"/><stop offset="0.33" stop-color="#ffc337"/><stop offset="0.34" stop-color="#fec833"/><stop offset="0.36" stop-color="#fdcb30"/><stop offset="0.38" stop-color="#fdcc2f"/><stop offset="0.39" stop-color="#fccd2e"/><stop offset="0.41" stop-color="#fcce2e"/><stop offset="0.42" stop-color="#fbcf2d"/><stop offset="0.44" stop-color="#fbd02c"/><stop offset="0.45" stop-color="#fbd02c"/><stop offset="0.47" stop-color="#fad12b"/><stop offset="0.48" stop-color="#fad22a"/><stop offset="0.5" stop-color="#fad329"/><stop offset="0.52" stop-color="#fad22a"/><stop offset="0.53" stop-color="#fad12b"/><stop offset="0.55" stop-color="#fbd02c"/><stop offset="0.56" stop-color="#fbd02c"/><stop offset="0.58" stop-color="#fbcf2d"/><stop offset="0.59" stop-color="#fcce2e"/><stop offset="0.61" stop-color="#fccd2e"/><stop offset="0.62" stop-color="#fdcc2f"/><stop offset="0.64" stop-color="#fdcb30"/><stop offset="0.66" stop-color="#fec833"/><stop offset="0.67" stop-color="#ffc337"/><stop offset="0.69" stop-color="#fdbe3e"/><stop offset="0.7" stop-color="#f2b949"/><stop offset="0.72" stop-color="#e2b952"/><stop offset="0.73" stop-color="#cfbb5a"/><stop offset="0.75" stop-color="#bdbd61"/><stop offset="0.77" stop-color="#a6be6a"/><stop offset="0.78" stop-color="#85bf78"/><stop offset="0.8" stop-color="#56bd8d"/><stop offset="0.81" stop-color="#28b6a8"/><stop offset="0.83" stop-color="#09abbf"/><stop offset="0.84" stop-color="#079cd0"/><stop offset="0.86" stop-color="#128bd2"/><stop offset="0.88" stop-color="#137ed7"/><stop offset="0.89" stop-color="#0c74dd"/><stop offset="0.91" stop-color="#036ae1"/><stop offset="0.92" stop-color="#125adb"/><stop offset="0.94" stop-color="#3046be"/><stop offset="0.95" stop-color="#3638a3"/><stop offset="0.97" stop-color="#363092"/><stop offset="0.98" stop-color="#352c89"/><stop offset="1" stop-color="#352a87"/></linearGradient>
<linearGradient id="hd_17188" x1="0" y1="0" x2="0" y2="1"><stop offset="0" stop-color="#352a87"/><stop offset="0.02" stop-color="#352c8a"/><stop offset="0.03" stop-color="#363195"/><stop offset="0.05" stop-color="#353baa"/><stop offset="0.06" stop-color="#2b4ac7"/><stop offset="0.08" stop-color="#0a5fdf"/><stop offset="0.09" stop-color="#046ce0"/><stop offset="0.11" stop-color="#0e76db"/><stop offset="0.12" stop-color="#1480d6"/><stop offset="0.14" stop-color="#0f90d2"/><stop offset="0.16" stop-color="#06a1cc"/><stop offset="0.17" stop-color="#12afb7"/><stop offset="0.19" stop-color="#3eba9a"/><stop offset="0.2" stop-color="#79bf7d"/><stop offset="0.22" stop-color="#a8be6a"/><stop offset="0.23" stop-color="#c9bb5c"/><stop offset="0.25" stop-color="#e2b952"/><stop offset="0.27" stop-color="#f5ba47"/><stop offset="0.28" stop-color="#fec239"/><stop offset="0.3" stop-color="#fdcc2f"/><stop offset="0.31" stop-color="#f9d528"/><stop offset="0.33" stop-color="#f6db24"/><stop offset="0.34" stop-color="#f5e11f"/><stop offset="0.36" stop-color="#f5e51c"/><stop offset="0.38" stop-color="#f5e71b"/><stop offset="0.39" stop-color="#f5e81a"/><stop offset="0.41" stop-color="#f5e919"/><stop offset="0.42" stop-color="#f5ea19"/><stop offset="0.44" stop-color="#f5ec18"/><stop offset="0.45" stop-color="#f5ed17"/><stop offset="0.47" stop-color="#f5ef16"/><stop offset="0.48" stop-color="#f6f015"/><stop offset="0.5" stop-color="#f6f114"/><stop offset="0.52" stop-color="#f6f015"/><stop offset="0.53" stop-color="#f5ef16"/><stop offset="0.55" stop-color="#f5ed17"/><stop offset="0.56" stop-color="#f5ec18"/><stop offset="0.58" stop-color="#f5ea19"/><stop offset="0.59" stop-color="#f5e919"/><stop offset="0.61" stop-color="#f5e81a"/><stop offset="0.62" stop-color="#f5e71b"/><stop offset="0.64" stop-color="#f5e51c"/><stop offset="0.66" stop-color="#f5e11f"/><stop offset="0.67" stop-color="#f6db24"/><stop offset="0.69" stop-color="#f9d528"/><stop offset="0.7" stop-color="#fdcc2f"/><stop offset="0.72" stop-color="#fec239"/><stop offset="0.73" stop-color="#f5ba47"/><stop offset="0.75" stop-color="#e2b952"/><stop offset="0.77" stop-color="#c9bb5c"/><stop offset="0.78" stop-color="#a8be6a"/><stop offset="0.8" stop-color="#79bf7d"/><stop offset="0.81" stop-color="#3eba9a"/><stop offset="0.83" stop-color="#12afb7"/><stop offset="0.84" stop-color="#06a1cc"/><stop offset="0.86" stop-color="#0f90d2"/><stop offset="0.88" stop-color="#1480d6"/><stop offset="0.89" stop-color="#0e76db"/><stop offset="0.91" stop-color="#046ce0"/><stop offset="0.92" stop-color="#0a5fdf"/><stop offset="0.94" stop-color="#2b4ac7"/><stop offset="0.95" stop-color="#353baa"/><stop offset="0.97" stop-color="#363195"/><stop offset="0.98" stop-color="#352c8a"/><stop offset="1" stop-color="#352a87"/></linearGradient>
<linearGradient id="hd_14062" x1="0" y1="0" x2="0" y2="1"><stop offset="0" stop-color="#352a87"/><stop offset="0.02" stop-color="#352c8b"/><stop offset="0.03" stop-color="#363296"/><stop offset="0.05" stop-color="#353dac"/><stop offset="0.06" stop-color="#274ecc"/><stop offset="0.08" stop-color="#0363e1"/><stop offset="0.09" stop-color="#0871df"/><stop offset="0.11" stop-color="#127cd8"/><stop offset="0.12" stop-color="#1487d3"/><stop offset="0.14" stop-color="#0899d1"/><stop offset="0.16" stop-color="#06a7c5"/><stop offset="0.17" stop-color="#21b4ac"/><stop offset="0.19" stop-color="#58bd8c"/><stop offset="0.2" stop-color="#91bf73"/><stop offset="0.22" stop-color="#bcbd62"/><stop offset="0.23" stop-color="#dbba55"/><stop offset="0.25" stop-color="#f1b949"/><stop offset="0.27" stop-color="#fec03b"/><stop offset="0.28" stop-color="#fccd2f"/><stop offset="0.3" stop-color="#f8d727"/><stop offset="0.31" stop-color="#f5e11f"/><stop offset="0.33" stop-color="#f5e91a"/><stop offset="0.34" stop-color="#f6f015"/><stop offset="0.36" stop-color="#f7f611"/><stop offset="0.38" stop-color="#f8f710"/><stop offset="0.39" stop-color="#f8f90f"/><stop offset="0.41" stop-color="#f9fa0e"/><stop offset="0.42" stop-color="#f9fb0e"/><stop offset="0.44" stop-color="#f9fb0e"/><stop offset="0.45" stop-color="#f9fb0e"/><stop offset="0.47" stop-color="#f9fb0e"/><stop offset="0.48" stop-color="#f9fb0e"/><stop offset="0.5" stop-color="#f9fb0e"/><stop offset="0.52" stop-color="#f9fb0e"/><stop offset="0.53" stop-color="#f9fb0e"/><stop offset="0.55" stop-color="#f9fb0e"/><stop offset="0.56" stop-color="#f9fb0e"/><stop offset="0.58" stop-color="#f9fb0e"/><stop offset="0.59" stop-color="#f9fa0e"/><stop offset="0.61" stop-color="#f8f90f"/><stop offset="0.62" stop-color="#f8f710"/><stop offset="0.64" stop-color="#f7f611"/><stop offset="0.66" stop-color="#f6f015"/><stop offset="0.67" stop-color="#f5e91a"/><stop offset="0.69" stop-color="#f5e11f"/><stop offset="0.7" stop-color="#f8d727"/><stop offset="0.72" stop-color="#fccd2f"/><stop offset="0.73" stop-color="#fec03b"/><stop offset="0.75" stop-color="#f1b949"/><stop offset="0.77" stop-color="#dbba55"/><stop offset="0.78" stop-color="#bcbd62"/><stop offset="0.8" stop-color="#91bf73"/><stop offset="0.81" stop-color="#58bd8c"/><stop offset="0.83" stop-color="#21b4ac"/><stop offset="0.84" stop-color="#06a7c5"/><stop offset="0.86" stop-color="#0899d1"/><stop offset="0.88" stop-color="#1487d3"/><stop offset="0.89" stop-color="#127cd8"/><stop offset="0.91" stop-color="#0871df"/><stop offset="0.92" stop-color="#0363e1"/><stop offset="0.94" stop-color="#274ecc"/><stop offset="0.95" stop-color="#353dac"/><stop offset="0.97" stop-color="#363296"/><stop offset="0.98" stop-color="#352c8b"/><stop offset="1" stop-color="#352a87"/></linearGradient>
<linearGradient id="hd_10938" x1="0" y1="0" x2="0" y2="1"><stop offset="0" stop-color="#352a87"/><stop offset="0.02" stop-color="#352c8b"/><stop offset="0.03" stop-color="#363398"/><stop offset="0.05" stop-color="#343fb0"/><stop offset="0.06" stop-color="#2152d2"/><stop offset="0.08" stop-color="#0267e1"/><stop offset="0.09" stop-color="#0b73dd"/><stop offset="0.11" stop-color="#137ed7"/><stop offset="0.12" stop-color="#128ad3"/><stop offset="0.14" stop-color="#079dcf"/><stop offset="0.16" stop-color="#07aac1"/><stop offset="0.17" stop-color="#2cb7a5"/><stop offset="0.19" stop-color="#68be84"/><stop offset="0.2" stop-color="#a1be6d"/><stop offset="0.22" stop-color="#cbbb5c"/><stop offset="0.23" stop-color="#eab94e"/><stop offset="0.25" stop-color="#fdbe3e"/><stop offset="0.27" stop-color="#fdcb30"/><stop offset="0.28" stop-color="#f8d726"/><stop offset="0.3" stop-color="#f5e31e"/><stop offset="0.31" stop-color="#f6f015"/><stop offset="0.33" stop-color="#f8f90f"/><stop offset="0.34" stop-color="#f9fb0e"/><stop offset="0.36" stop-color="#f9fb0e"/><stop offset="0.38" stop-color="#f9fb0e"/><stop offset="0.39" stop-color="#f9fb0e"/><stop offset="0.41" stop-color="#f9fb0e"/><stop offset="0.42" stop-color="#f9fb0e"/><stop offset="0.44" stop-color="#f9fb0e"/><stop offset="0.45" stop-color="#f9fb0e"/><stop offset="0.47" stop-color="#f9fb0e"/><stop offset="0.48" stop-color="#f9fb0e"/><stop offset="0.5" stop-color="#f9fb0e"/><stop offset="0.52" stop-color="#f9fb0e"/><stop offset="0.53" stop-color="#f9fb0e"/><stop offset="0.55" stop-color="#f9fb0e"/><stop offset="0.56" stop-color="#f9fb0e"/><stop offset="0.58" stop-color="#f9fb0e"/><stop offset="0.59" stop-color="#f9fb0e"/><stop offset="0.61" stop-color="#f9fb0e"/><stop offset="0.62" stop-color="#f9fb0e"/><stop offset="0.64" stop-color="#f9fb0e"/><stop offset="0.66" stop-color="#f9fb0e"/><stop offset="0.67" stop-color="#f8f90f"/><stop offset="0.69" stop-color="#f6f015"/><stop offset="0.7" stop-color="#f5e31e"/><stop offset="0.72" stop-color="#f8d726"/><stop offset="0.73" stop-color="#fdcb30"/><stop offset="0.75" stop-color="#fdbe3e"/><stop offset="0.77" stop-color="#eab94e"/><stop offset="0.78" stop-color="#cbbb5c"/><stop offset="0.8" stop-color="#a1be6d"/><stop offset="0.81" stop-color="#68be84"/><stop offset="0.83" stop-color="#2cb7a5"/><stop offset="0.84" stop-color="#07aac1"/><stop offset="0.86" stop-color="#079dcf"/><stop offset="0.88" stop-color="#128ad3"/><stop offset="0.89" stop-color="#137ed7"/><stop offset="0.91" stop-color="#0b73dd"/><stop offset="0.92" stop-color="#0267e1"/><stop offset="0.94" stop-color="#2152d2"/><stop offset="0.95" stop-color="#343fb0"/><stop offset="0.97" stop-color="#363398"/><stop offset="0.98" stop-color="#352c8b"/><stop offset="1" stop-color="#352a87"/></linearGradient>
<linearGradient id="hd_7812" x1="0" y1="0" x2="0" y2="1"><stop offset="0" stop-color="#352a87"/><stop offset="0.02" stop-color="#352d8b"/><stop offset="0.03" stop-color="#363399"/><stop offset="0.05" stop-color="#3440b3"/><stop offset="0.06" stop-color="#1d54d6"/><stop offset="0.08" stop-color="#0269e1"/><stop offset="0.09" stop-color="#0d75dc"/><stop offset="0.11" stop-color="#1481d6"/><stop offset="0.12" stop-color="#108ed2"/><stop offset="0.14" stop-color="#06a0cd"/><stop offset="0.16" stop-color="#0aacbe"/><stop offset="0.17" stop-color="#34b8a0"/><stop offset="0.19" stop-color="#74bf7f"/><stop offset="0.2" stop-color="#abbe69"/><stop offset="0.22" stop-color="#d4bb58"/><stop offset="0.23" stop-color="#f2b949"/><stop offset="0.25" stop-color="#ffc337"/><stop offset="0.27" stop-color="#fbd02c"/><stop offset="0.28" stop-color="#f6dd22"/><stop offset="0.3" stop-color="#f5e919"/><stop offset="0.31" stop-color="#f8f710"/><stop offset="0.33" stop-color="#f9fb0e"/><stop offset="0.34" stop-color="#f9fb0e"/><stop offset="0.36" stop-color="#f9fb0e"/><stop offset="0.38" stop-color="#f9fb0e"/><stop offset="0.39" stop-color="#f9fb0e"/><stop offset="0.41" stop-color="#f9fb0e"/><stop offset="0.42" stop-color="#f9fb0e"/><stop offset="0.44" stop-color="#f9fb0e"/><stop offset="0.45" stop-color="#f9fb0e"/><stop offset="0.47" stop-color="#f9fb0e"/><stop offset="0.48" stop-color="#f9fb0e"/><stop offset="0.5" stop-color="#f9fb0e"/><stop offset="0.52" stop-color="#f9fb0e"/><stop offset="0.53" stop-color="#f9fb0e"/><stop offset="0.55" stop-color="#f9fb0e"/><stop offset="0.56" stop-color="#f9fb0e"/><stop offset="0.58" stop-color="#f9fb0e"/><stop offset="0.59" stop-color="#f9fb0e"/><stop offset="0.61" stop-color="#f9fb0e"/><stop offset="0.62" stop-color="#f9fb0e"/><stop offset="0.64" stop-color="#f9fb0e"/><stop offset="0.66" stop-color="#f9fb0e"/><stop offset="0.67" stop-color="#f9fb0e"/><stop offset="0.69" stop-color="#f8f710"/><stop offset="0.7" stop-color="#f5e919"/><stop offset="0.72" stop-color="#f6dd22"/><stop offset="0.73" stop-color="#fbd02c"/><stop offset="0.75" stop-color="#ffc337"/><stop offset="0.77" stop-color="#f2b949"/><stop offset="0.78" stop-color="#d4bb58"/><stop offset="0.8" stop-color="#abbe69"/><stop offset="0.81" stop-color="#74bf7f"/><stop offset="0.83" stop-color="#34b8a0"/><stop offset="0.84" stop-color="#0aacbe"/><stop offset="0.86" stop-color="#06a0cd"/><stop offset="0.88" stop-color="#108ed2"/><stop offset="0.89" stop-color="#1481d6"/><stop offset="0.91" stop-color="#0d75dc"/><stop offset="0.92" stop-color="#0269e1"/><stop offset="0.94" stop-color="#1d54d6"/><stop offset="0.95" stop-color="#3440b3"/><stop offset="0.97" stop-color="#363399"/><stop offset="0.98" stop-color="#352d8b"/><stop offset="1" stop-color="#352a87"/></linearGradient>
<linearGradient id="hd_4688" x1="0" y1="0" x2="0" y2="1"><stop offset="0" stop-color="#352a87"/><stop offset="0.02" stop-color="#352d8c"/><stop offset="0.03" stop-color="#363399"/><stop offset="0.05" stop-color="#3340b4"/><stop offset="0.06" stop-color="#1b55d7"/><stop offset="0.08" stop-color="#0269e1"/><stop offset="0.09" stop-color="#0d76dc"/><stop offset="0.11" stop-color="#1481d6"/><stop offset="0.12" stop-color="#108ed2"/><stop offset="0.14" stop-color="#06a0cd"/><stop offset="0.16" stop-color="#0bacbd"/><stop offset="0.17" stop-color="#36b99f"/><stop offset="0.19" stop-color="#76bf7e"/><stop offset="0.2" stop-color="#adbe68"/><stop offset="0.22" stop-color="#d6ba57"/><stop offset="0.23" stop-color="#f4ba47"/><stop offset="0.25" stop-color="#ffc436"/><stop offset="0.27" stop-color="#fad12b"/><stop offset="0.28" stop-color="#f5de21"/><stop offset="0.3" stop-color="#f5eb18"/><stop offset="0.31" stop-color="#f8f90f"/><stop offset="0.33" stop-color="#f9fb0e"/><stop offset="0.34" stop-color="#f9fb0e"/><stop offset="0.36" stop-color="#f9fb0e"/><stop offset="0.38" stop-color="#f9fb0e"/><stop offset="0.39" stop-color="#f9fb0e"/><stop offset="0.41" stop-color="#f9fb0e"/><stop offset="0.42" stop-color="#f9fb0e"/><stop offset="0.44" stop-color="#f9fb0e"/><stop offset="0.45" stop-color="#f9fb0e"/><stop offset="0.47" stop-color="#f9fb0e"/><stop offset="0.48" stop-color="#f9fb0e"/><stop offset="0.5" stop-color="#f9fb0e"/><stop offset="0.52" stop-color="#f9fb0e"/><stop offset="0.53" stop-color="#f9fb0e"/><stop offset="0.55" stop-color="#f9fb0e"/><stop offset="0.56" stop-color="#f9fb0e"/><stop offset="0.58" stop-color="#f9fb0e"/><stop offset="0.59" stop-color="#f9fb0e"/><stop offset="0.61" stop-color="#f9fb0e"/><stop offset="0.62" stop-color="#f9fb0e"/><stop offset="0.64" stop-color="#f9fb0e"/><stop offset="0.66" stop-color="#f9fb0e"/><stop offset="0.67" stop-color="#f9fb0e"/><stop offset="0.69" stop-color="#f8f90f"/><stop offset="0.7" stop-color="#f5eb18"/><stop offset="0.72" stop-color="#f5de21"/><stop offset="0.73" stop-color="#fad12b"/><stop offset="0.75" stop-color="#ffc436"/><stop offset="0.77" stop-color="#f4ba47"/><stop offset="0.78" stop-color="#d6ba57"/><stop offset="0.8" stop-color="#adbe68"/><stop offset="0.81" stop-color="#76bf7e"/><stop offset="0.83" stop-color="#36b99f"/><stop offset="0.84" stop-color="#0bacbd"/><stop offset="0.86" stop-color="#06a0cd"/><stop offset="0.88" stop-color="#108ed2"/><stop offset="0.89" stop-color="#1481d6"/><stop offset="0.91" stop-color="#0d76dc"/><stop offset="0.92" stop-color="#0269e1"/><stop offset="0.94" stop-color="#1b55d7"/><stop offset="0.95" stop-color="#3340b4"/><stop offset="0.97" stop-color="#363399"/><stop offset="0.98" stop-color="#352d8c"/><stop offset="1" stop-color="#352a87"/></linearGradient>
<linearGradient id="hd_1562" x1="0" y1="0" x2="0" y2="1"><stop offset="0" stop-color="#352a87"/><stop offset="0.02" stop-color="#352d8c"/><stop offset="0.03" stop-color="#363399"/><stop offset="0.05" stop-color="#3341b4"/><stop offset="0.06" stop-color="#1a56d7"/><stop offset="0.08" stop-color="#026ae1"/><stop offset="0.09" stop-color="#0e76dc"/><stop offset="0.11" stop-color="#1481d5"/><stop offset="0.12" stop-color="#108fd2"/><stop offset="0.14" stop-color="#06a1cd"/><stop offset="0.16" stop-color="#0badbc"/><stop offset="0.17" stop-color="#38b99e"/><stop offset="0.19" stop-color="#79bf7d"/><stop offset="0.2" stop-color="#afbe67"/><stop offset="0.22" stop-color="#d8ba56"/><stop offset="0.23" stop-color="#f6ba46"/><stop offset="0.25" stop-color="#fec635"/><stop offset="0.27" stop-color="#fad32a"/><stop offset="0.28" stop-color="#f5e020"/><stop offset="0.3" stop-color="#f5ed17"/><stop offset="0.31" stop-color="#f9fb0e"/><stop offset="0.33" stop-color="#f9fb0e"/><stop offset="0.34" stop-color="#f9fb0e"/><stop offset="0.36" stop-color="#f9fb0e"/><stop offset="0.38" stop-color="#f9fb0e"/><stop offset="0.39" stop-color="#f9fb0e"/><stop offset="0.41" stop-color="#f9fb0e"/><stop offset="0.42" stop-color="#f9fb0e"/><stop offset="0.44" stop-color="#f9fb0e"/><stop offset="0.45" stop-color="#f9fb0e"/><stop offset="0.47" stop-color="#f9fb0e"/><stop offset="0.48" stop-color="#f9fb0e"/><stop offset="0.5" stop-color="#f9fb0e"/><stop offset="0.52" stop-color="#f9fb0e"/><stop offset="0.53" stop-color="#f9fb0e"/><stop offset="0.55" stop-color="#f9fb0e"/><stop offset="0.56" stop-color="#f9fb0e"/><stop offset="0.58" stop-color="#f9fb0e"/><stop offset="0.59" stop-color="#f9fb0e"/><stop offset="0.61" stop-color="#f9fb0e"/><stop offset="0.62" stop-color="#f9fb0e"/><stop offset="0.64" stop-color="#f9fb0e"/><stop offset="0.66" stop-color="#f9fb0e"/><stop offset="0.67" stop-color="#f9fb0e"/><stop offset="0.69" stop-color="#f9fb0e"/><stop offset="0.7" stop-color="#f5ed17"/><stop offset="0.72" stop-color="#f5e020"/><stop offset="0.73" stop-color="#fad32a"/><stop offset="0.75" stop-color="#fec635"/><stop offset="0.77" stop-color="#f6ba46"/><stop offset="0.78" stop-color="#d8ba56"/><stop offset="0.8" stop-color="#afbe67"/><stop offset="0.81" stop-color="#79bf7d"/><stop offset="0.83" stop-color="#38b99e"/><stop offset="0.84" stop-color="#0badbc"/><stop offset="0.86" stop-color="#06a1cd"/><stop offset="0.88" stop-color="#108fd2"/><stop offset="0.89" stop-color="#1481d5"/><stop offset="0.91" stop-color="#0e76dc"/><stop offset="0.92" stop-color="#026ae1"/><stop offset="0.94" stop-color="#1a56d7"/><stop offset="0.95" stop-color="#3341b4"/><stop offset="0.97" stop-color="#363399"/><stop offset="0.98" stop-color="#352d8c"/><stop offset="1" stop-color="#352a87"/></linearGradient>
<g id="perd"><rect x="0" y="0" width="2.46" height="167.75" fill="url(#hd_48438)"/><rect x="0.46" y="0" width="2.46" height="167.75" fill="url(#hd_45312)"/><rect x="0.91" y="0" width="2.46" height="167.75" fill="url(#hd_42188)"/><rect x="1.37" y="0" width="2.46" height="167.75" fill="url(#hd_39062)"/><rect x="1.83" y="0" width="2.46" height="167.75" fill="url(#hd_35938)"/><rect x="2.29" y="0" width="2.46" height="167.75" fill="url(#hd_32812)"/><rect x="2.74" y="0" width="2.46" height="167.75" fill="url(#hd_29688)"/><rect x="3.2" y="0" width="2.46" height="167.75" fill="url(#hd_26562)"/><rect x="3.66" y="0" width="2.46" height="167.75" fill="url(#hd_23438)"/><rect x="4.11" y="0" width="2.46" height="167.75" fill="url(#hd_20312)"/><rect x="4.57" y="0" width="2.46" height="167.75" fill="url(#hd_17188)"/><rect x="5.03" y="0" width="2.46" height="167.75" fill="url(#hd_14062)"/><rect x="5.48" y="0" width="2.46" height="167.75" fill="url(#hd_10938)"/><rect x="5.94" y="0" width="2.46" height="167.75" fill="url(#hd_7812)"/><rect x="6.4" y="0" width="2.46" height="167.75" fill="url(#hd_4688)"/><rect x="6.86" y="0" width="2.46" height="167.75" fill="url(#hd_1562)"/><rect x="7.31" y="0" width="2.46" height="167.75" fill="url(#hd_1562)"/><rect x="7.77" y="0" width="2.46" height="167.75" fill="url(#hd_4688)"/><rect x="8.23" y="0" width="2.46" height="167.75" fill="url(#hd_7812)"/><rect x="8.68" y="0" width="2.46" height="167.75" fill="url(#hd_10938)"/><rect x="9.14" y="0" width="2.46" height="167.75" fill="url(#hd_14062)"/><rect x="9.6" y="0" width="2.46" height="167.75" fill="url(#hd_17188)"/><rect x="10.05" y="0" width="2.46" height="167.75" fill="url(#hd_20312)"/><rect x="10.51" y="0" width="2.46" height="167.75" fill="url(#hd_23438)"/><rect x="10.97" y="0" width="2.46" height="167.75" fill="url(#hd_26562)"/><rect x="11.43" y="0" width="2.46" height="167.75" fill="url(#hd_29688)"/><rect x="11.88" y="0" width="2.46" height="167.75" fill="url(#hd_32812)"/><rect x="12.34" y="0" width="2.46" height="167.75" fill="url(#hd_35938)"/><rect x="12.8" y="0" width="2.46" height="167.75" fill="url(#hd_39062)"/><rect x="13.25" y="0" width="2.46" height="167.75" fill="url(#hd_42188)"/><rect x="13.71" y="0" width="2.46" height="167.75" fill="url(#hd_45312)"/><rect x="14.17" y="0" width="2.46" height="167.75" fill="url(#hd_48438)"/></g>
<clipPath id="clipd"><rect x="492.1" y="272.7" width="175.5" height="167.75"/></clipPath>
<linearGradient id="cbd" x1="0" y1="0" x2="0" y2="1"><stop offset="0" stop-color="#f9fb0e"/><stop offset="0.02" stop-color="#f6f313"/><stop offset="0.03" stop-color="#f5eb18"/><stop offset="0.05" stop-color="#f5e51d"/><stop offset="0.06" stop-color="#f5de21"/><stop offset="0.08" stop-color="#f7d925"/><stop offset="0.09" stop-color="#f9d329"/><stop offset="0.11" stop-color="#fcce2d"/><stop offset="0.12" stop-color="#fec932"/><stop offset="0.14" stop-color="#ffc436"/><stop offset="0.16" stop-color="#febf3c"/><stop offset="0.17" stop-color="#f9bb43"/><stop offset="0.19" stop-color="#f2b949"/><stop offset="0.2" stop-color="#ebb94d"/><stop offset="0.22" stop-color="#e3b951"/><stop offset="0.23" stop-color="#dbba55"/><stop offset="0.25" stop-color="#d3bb58"/><stop offset="0.27" stop-color="#cbbb5c"/><stop offset="0.28" stop-color="#c2bc5f"/><stop offset="0.3" stop-color="#babd63"/><stop offset="0.31" stop-color="#b1bd66"/><stop offset="0.33" stop-color="#a8be6a"/><stop offset="0.34" stop-color="#9fbe6d"/><stop offset="0.36" stop-color="#95bf71"/><stop offset="0.38" stop-color="#8bbf75"/><stop offset="0.39" stop-color="#80bf7a"/><stop offset="0.41" stop-color="#75bf7e"/><stop offset="0.42" stop-color="#6abe83"/><stop offset="0.44" stop-color="#5ebe89"/><stop offset="0.45" stop-color="#52bd8f"/><stop offset="0.47" stop-color="#47bb95"/><stop offset="0.48" stop-color="#3dba9b"/><stop offset="0.5" stop-color="#33b8a1"/><stop offset="0.52" stop-color="#2ab6a7"/><stop offset="0.53" stop-color="#21b4ac"/><stop offset="0.55" stop-color="#1ab2b1"/><stop offset="0.56" stop-color="#13b0b6"/><stop offset="0.58" stop-color="#0dadbb"/><stop offset="0.59" stop-color="#09abbf"/><stop offset="0.61" stop-color="#06a8c4"/><stop offset="0.62" stop-color="#06a6c7"/><stop offset="0.64" stop-color="#06a2cb"/><stop offset="0.66" stop-color="#069fce"/><stop offset="0.67" stop-color="#079bd0"/><stop offset="0.69" stop-color="#0a97d1"/><stop offset="0.7" stop-color="#0e92d2"/><stop offset="0.72" stop-color="#118dd2"/><stop offset="0.73" stop-color="#1388d3"/><stop offset="0.75" stop-color="#1484d4"/><stop offset="0.77" stop-color="#1480d6"/><stop offset="0.78" stop-color="#127cd8"/><stop offset="0.8" stop-color="#0f78db"/><stop offset="0.81" stop-color="#0c74dd"/><stop offset="0.83" stop-color="#0870df"/><stop offset="0.84" stop-color="#046ce0"/><stop offset="0.86" stop-color="#0267e1"/><stop offset="0.88" stop-color="#0462e0"/><stop offset="0.89" stop-color="#115bdc"/><stop offset="0.91" stop-color="#2152d3"/><stop offset="0.92" stop-color="#2c4ac6"/><stop offset="0.94" stop-color="#3243b9"/><stop offset="0.95" stop-color="#353dac"/><stop offset="0.97" stop-color="#36369f"/><stop offset="0.98" stop-color="#363093"/><stop offset="1" stop-color="#352a87"/></linearGradient></defs>
<rect width="685" height="502" fill="#fff"/>
<line x1="179.1" y1="5.3" x2="179.1" y2="179" stroke="#dfdfdf" stroke-width="0.7"/>
<line x1="225.4" y1="5.3" x2="225.4" y2="179" stroke="#dfdfdf" stroke-width="0.7"/>
<line x1="271.7" y1="5.3" x2="271.7" y2="179" stroke="#dfdfdf" stroke-width="0.7"/>
<line x1="132.8" y1="135.57" x2="318" y2="135.57" stroke="#dfdfdf" stroke-width="0.7"/>
<line x1="132.8" y1="92.15" x2="318" y2="92.15" stroke="#dfdfdf" stroke-width="0.7"/>
<line x1="132.8" y1="48.73" x2="318" y2="48.73" stroke="#dfdfdf" stroke-width="0.7"/>
<g transform="translate(225.4,91.95) scale(0.37040,0.34740)"><g mask="url(#rca)" transform="rotate(0.5)">
<use href="#seca" transform="rotate(0)"/>
<use href="#seca" transform="rotate(30)"/>
<use href="#seca" transform="rotate(60)"/>
<use href="#seca" transform="rotate(90)"/>
<use href="#seca" transform="rotate(120)"/>
<use href="#seca" transform="rotate(150)"/>
<use href="#seca" transform="rotate(180)"/>
<use href="#seca" transform="rotate(210)"/>
<use href="#seca" transform="rotate(240)"/>
<use href="#seca" transform="rotate(270)"/>
<use href="#seca" transform="rotate(300)"/>
<use href="#seca" transform="rotate(330)"/>
<use href="#fixa"/>
</g></g>
<rect x="132.8" y="5.3" width="185.2" height="173.7" fill="none" stroke="#a2a2a2" stroke-width="1.7"/>
<line x1="132.8" y1="179" x2="132.8" y2="177.2" stroke="#6a6a6a" stroke-width="0.6"/>
<line x1="132.8" y1="5.3" x2="132.8" y2="7.1" stroke="#6a6a6a" stroke-width="0.6"/>
<text x="132.8" y="195.9" text-anchor="middle" font-family="'Liberation Sans', sans-serif" font-size="11.7" fill="#262626">-250</text>
<line x1="179.1" y1="179" x2="179.1" y2="177.2" stroke="#6a6a6a" stroke-width="0.6"/>
<line x1="179.1" y1="5.3" x2="179.1" y2="7.1" stroke="#6a6a6a" stroke-width="0.6"/>
<text x="179.1" y="195.9" text-anchor="middle" font-family="'Liberation Sans', sans-serif" font-size="11.7" fill="#262626">-125</text>
<line x1="225.4" y1="179" x2="225.4" y2="177.2" stroke="#6a6a6a" stroke-width="0.6"/>
<line x1="225.4" y1="5.3" x2="225.4" y2="7.1" stroke="#6a6a6a" stroke-width="0.6"/>
<text x="225.4" y="195.9" text-anchor="middle" font-family="'Liberation Sans', sans-serif" font-size="11.7" fill="#262626">0</text>
<line x1="271.7" y1="179" x2="271.7" y2="177.2" stroke="#6a6a6a" stroke-width="0.6"/>
<line x1="271.7" y1="5.3" x2="271.7" y2="7.1" stroke="#6a6a6a" stroke-width="0.6"/>
<text x="271.7" y="195.9" text-anchor="middle" font-family="'Liberation Sans', sans-serif" font-size="11.7" fill="#262626">125</text>
<line x1="318" y1="179" x2="318" y2="177.2" stroke="#6a6a6a" stroke-width="0.6"/>
<line x1="318" y1="5.3" x2="318" y2="7.1" stroke="#6a6a6a" stroke-width="0.6"/>
<text x="318" y="195.9" text-anchor="middle" font-family="'Liberation Sans', sans-serif" font-size="11.7" fill="#262626">250</text>
<line x1="132.8" y1="179" x2="134.6" y2="179" stroke="#6a6a6a" stroke-width="0.6"/>
<line x1="318" y1="179" x2="316.2" y2="179" stroke="#6a6a6a" stroke-width="0.6"/>
<text x="128.3" y="183.9" text-anchor="end" font-family="'Liberation Sans', sans-serif" font-size="11.7" fill="#262626">-250</text>
<line x1="132.8" y1="135.57" x2="134.6" y2="135.57" stroke="#6a6a6a" stroke-width="0.6"/>
<line x1="318" y1="135.57" x2="316.2" y2="135.57" stroke="#6a6a6a" stroke-width="0.6"/>
<text x="128.3" y="140.47" text-anchor="end" font-family="'Liberation Sans', sans-serif" font-size="11.7" fill="#262626">-125</text>
<line x1="132.8" y1="92.15" x2="134.6" y2="92.15" stroke="#6a6a6a" stroke-width="0.6"/>
<line x1="318" y1="92.15" x2="316.2" y2="92.15" stroke="#6a6a6a" stroke-width="0.6"/>
<text x="128.3" y="97.05" text-anchor="end" font-family="'Liberation Sans', sans-serif" font-size="11.7" fill="#262626">0</text>
<line x1="132.8" y1="48.73" x2="134.6" y2="48.73" stroke="#6a6a6a" stroke-width="0.6"/>
<line x1="318" y1="48.73" x2="316.2" y2="48.73" stroke="#6a6a6a" stroke-width="0.6"/>
<text x="128.3" y="53.63" text-anchor="end" font-family="'Liberation Sans', sans-serif" font-size="11.7" fill="#262626">125</text>
<line x1="132.8" y1="5.3" x2="134.6" y2="5.3" stroke="#6a6a6a" stroke-width="0.6"/>
<line x1="318" y1="5.3" x2="316.2" y2="5.3" stroke="#6a6a6a" stroke-width="0.6"/>
<text x="128.3" y="10.2" text-anchor="end" font-family="'Liberation Sans', sans-serif" font-size="11.7" fill="#262626">250</text>
<text x="225.4" y="212.6" text-anchor="middle" font-family="'Liberation Sans', sans-serif" font-size="13.1" fill="#262626">x /mm</text>
<text transform="translate(98.9,92.15) rotate(-90)" text-anchor="middle" font-family="'Liberation Sans', sans-serif" font-size="13.1" fill="#262626">z /mm</text>
<rect x="24.2" y="11" width="16.4" height="191.6" fill="url(#cba)" stroke="#3a3a3a" stroke-width="0.6"/>
<line x1="38.8" y1="24.2" x2="40.6" y2="24.2" stroke="#262626" stroke-width="0.6"/>
<text x="45.1" y="28.81" font-family="'Liberation Sans', sans-serif" font-size="11.7" fill="#262626">2.5</text>
<line x1="38.8" y1="59.98" x2="40.6" y2="59.98" stroke="#262626" stroke-width="0.6"/>
<text x="45.1" y="64.59" font-family="'Liberation Sans', sans-serif" font-size="11.7" fill="#262626">2</text>
<line x1="38.8" y1="95.75" x2="40.6" y2="95.75" stroke="#262626" stroke-width="0.6"/>
<text x="45.1" y="100.36" font-family="'Liberation Sans', sans-serif" font-size="11.7" fill="#262626">1.5</text>
<line x1="38.8" y1="131.52" x2="40.6" y2="131.52" stroke="#262626" stroke-width="0.6"/>
<text x="45.1" y="136.13" font-family="'Liberation Sans', sans-serif" font-size="11.7" fill="#262626">1</text>
<line x1="38.8" y1="167.3" x2="40.6" y2="167.3" stroke="#262626" stroke-width="0.6"/>
<text x="45.1" y="171.91" font-family="'Liberation Sans', sans-serif" font-size="11.7" fill="#262626">0.5</text>
<text x="67" y="21" font-family="'Liberation Sans', sans-serif" font-size="14.3" fill="#555">×</text>
<text x="76.4" y="18.8" font-family="'Liberation Sans', sans-serif" font-size="11.7" fill="#262626">10</text>
<text x="89.5" y="12.9" font-family="'Liberation Sans', sans-serif" font-size="9.9" fill="#262626">7</text>
<text transform="translate(14.6,91.3) rotate(-90)" text-anchor="middle" font-family="'Liberation Sans', sans-serif" font-size="13.1" fill="#262626">J /A·m<tspan dy="-6.8" dx="0.6" font-size="8.8">-1</tspan></text>
<text x="183.1" y="233.4" text-anchor="middle" font-family="'Liberation Serif', serif" font-size="16" fill="#111">(a) XOZ plane of <tspan font-style="italic">y</tspan> = 0 mm</text>
<line x1="532.67" y1="5.3" x2="532.67" y2="178.2" stroke="#dfdfdf" stroke-width="0.7"/>
<line x1="577.95" y1="5.3" x2="577.95" y2="178.2" stroke="#dfdfdf" stroke-width="0.7"/>
<line x1="623.23" y1="5.3" x2="623.23" y2="178.2" stroke="#dfdfdf" stroke-width="0.7"/>
<line x1="487.4" y1="134.97" x2="668.5" y2="134.97" stroke="#dfdfdf" stroke-width="0.7"/>
<line x1="487.4" y1="91.75" x2="668.5" y2="91.75" stroke="#dfdfdf" stroke-width="0.7"/>
<line x1="487.4" y1="48.53" x2="668.5" y2="48.53" stroke="#dfdfdf" stroke-width="0.7"/>
<g transform="translate(577.95,91.55) scale(0.36220,0.34580)"><g mask="url(#rcb)" transform="rotate(0.5)">
<use href="#secb" transform="rotate(0)"/>
<use href="#secb" transform="rotate(30)"/>
<use href="#secb" transform="rotate(60)"/>
<use href="#secb" transform="rotate(90)"/>
<use href="#secb" transform="rotate(120)"/>
<use href="#secb" transform="rotate(150)"/>
<use href="#secb" transform="rotate(180)"/>
<use href="#secb" transform="rotate(210)"/>
<use href="#secb" transform="rotate(240)"/>
<use href="#secb" transform="rotate(270)"/>
<use href="#secb" transform="rotate(300)"/>
<use href="#secb" transform="rotate(330)"/>
<use href="#fixb"/>
</g></g>
<rect x="487.4" y="5.3" width="181.1" height="172.9" fill="none" stroke="#747474" stroke-width="1.1"/>
<line x1="487.4" y1="178.2" x2="487.4" y2="176.4" stroke="#6a6a6a" stroke-width="0.6"/>
<line x1="487.4" y1="5.3" x2="487.4" y2="7.1" stroke="#6a6a6a" stroke-width="0.6"/>
<text x="487.4" y="195.6" text-anchor="middle" font-family="'Liberation Sans', sans-serif" font-size="11.7" fill="#262626">-250</text>
<line x1="532.67" y1="178.2" x2="532.67" y2="176.4" stroke="#6a6a6a" stroke-width="0.6"/>
<line x1="532.67" y1="5.3" x2="532.67" y2="7.1" stroke="#6a6a6a" stroke-width="0.6"/>
<text x="532.67" y="195.6" text-anchor="middle" font-family="'Liberation Sans', sans-serif" font-size="11.7" fill="#262626">-125</text>
<line x1="577.95" y1="178.2" x2="577.95" y2="176.4" stroke="#6a6a6a" stroke-width="0.6"/>
<line x1="577.95" y1="5.3" x2="577.95" y2="7.1" stroke="#6a6a6a" stroke-width="0.6"/>
<text x="577.95" y="195.6" text-anchor="middle" font-family="'Liberation Sans', sans-serif" font-size="11.7" fill="#262626">0</text>
<line x1="623.23" y1="178.2" x2="623.23" y2="176.4" stroke="#6a6a6a" stroke-width="0.6"/>
<line x1="623.23" y1="5.3" x2="623.23" y2="7.1" stroke="#6a6a6a" stroke-width="0.6"/>
<text x="623.23" y="195.6" text-anchor="middle" font-family="'Liberation Sans', sans-serif" font-size="11.7" fill="#262626">125</text>
<line x1="668.5" y1="178.2" x2="668.5" y2="176.4" stroke="#6a6a6a" stroke-width="0.6"/>
<line x1="668.5" y1="5.3" x2="668.5" y2="7.1" stroke="#6a6a6a" stroke-width="0.6"/>
<text x="668.5" y="195.6" text-anchor="middle" font-family="'Liberation Sans', sans-serif" font-size="11.7" fill="#262626">250</text>
<line x1="487.4" y1="178.2" x2="489.2" y2="178.2" stroke="#6a6a6a" stroke-width="0.6"/>
<line x1="668.5" y1="178.2" x2="666.7" y2="178.2" stroke="#6a6a6a" stroke-width="0.6"/>
<text x="482.9" y="183.1" text-anchor="end" font-family="'Liberation Sans', sans-serif" font-size="11.7" fill="#262626">-250</text>
<line x1="487.4" y1="134.97" x2="489.2" y2="134.97" stroke="#6a6a6a" stroke-width="0.6"/>
<line x1="668.5" y1="134.97" x2="666.7" y2="134.97" stroke="#6a6a6a" stroke-width="0.6"/>
<text x="482.9" y="139.88" text-anchor="end" font-family="'Liberation Sans', sans-serif" font-size="11.7" fill="#262626">-125</text>
<line x1="487.4" y1="91.75" x2="489.2" y2="91.75" stroke="#6a6a6a" stroke-width="0.6"/>
<line x1="668.5" y1="91.75" x2="666.7" y2="91.75" stroke="#6a6a6a" stroke-width="0.6"/>
<text x="482.9" y="96.65" text-anchor="end" font-family="'Liberation Sans', sans-serif" font-size="11.7" fill="#262626">0</text>
<line x1="487.4" y1="48.53" x2="489.2" y2="48.53" stroke="#6a6a6a" stroke-width="0.6"/>
<line x1="668.5" y1="48.53" x2="666.7" y2="48.53" stroke="#6a6a6a" stroke-width="0.6"/>
<text x="482.9" y="53.43" text-anchor="end" font-family="'Liberation Sans', sans-serif" font-size="11.7" fill="#262626">125</text>
<line x1="487.4" y1="5.3" x2="489.2" y2="5.3" stroke="#6a6a6a" stroke-width="0.6"/>
<line x1="668.5" y1="5.3" x2="666.7" y2="5.3" stroke="#6a6a6a" stroke-width="0.6"/>
<text x="482.9" y="10.2" text-anchor="end" font-family="'Liberation Sans', sans-serif" font-size="11.7" fill="#262626">250</text>
<text x="577.95" y="212.9" text-anchor="middle" font-family="'Liberation Sans', sans-serif" font-size="13.1" fill="#262626">x /mm</text>
<text transform="translate(453.5,91.75) rotate(-90)" text-anchor="middle" font-family="'Liberation Sans', sans-serif" font-size="13.1" fill="#262626">z /mm</text>
<rect x="384.2" y="12" width="16.6" height="191.6" fill="url(#cbb)" stroke="#3a3a3a" stroke-width="0.6"/>
<line x1="399" y1="14.52" x2="400.8" y2="14.52" stroke="#262626" stroke-width="0.6"/>
<text x="405.1" y="19.58" font-family="'Liberation Sans', sans-serif" font-size="11.7" fill="#262626">3</text>
<line x1="399" y1="46.08" x2="400.8" y2="46.08" stroke="#262626" stroke-width="0.6"/>
<text x="405.1" y="51.14" font-family="'Liberation Sans', sans-serif" font-size="11.7" fill="#262626">2.5</text>
<line x1="399" y1="77.63" x2="400.8" y2="77.63" stroke="#262626" stroke-width="0.6"/>
<text x="405.1" y="82.69" font-family="'Liberation Sans', sans-serif" font-size="11.7" fill="#262626">2</text>
<line x1="399" y1="109.19" x2="400.8" y2="109.19" stroke="#262626" stroke-width="0.6"/>
<text x="405.1" y="114.25" font-family="'Liberation Sans', sans-serif" font-size="11.7" fill="#262626">1.5</text>
<line x1="399" y1="140.74" x2="400.8" y2="140.74" stroke="#262626" stroke-width="0.6"/>
<text x="405.1" y="145.8" font-family="'Liberation Sans', sans-serif" font-size="11.7" fill="#262626">1</text>
<line x1="399" y1="172.3" x2="400.8" y2="172.3" stroke="#262626" stroke-width="0.6"/>
<text x="405.1" y="177.36" font-family="'Liberation Sans', sans-serif" font-size="11.7" fill="#262626">0.5</text>
<text x="419" y="21" font-family="'Liberation Sans', sans-serif" font-size="14.3" fill="#555">×</text>
<text x="428.4" y="18.8" font-family="'Liberation Sans', sans-serif" font-size="11.7" fill="#262626">10</text>
<text x="441.5" y="12.9" font-family="'Liberation Sans', sans-serif" font-size="9.9" fill="#262626">7</text>
<text transform="translate(375.6,91.3) rotate(-90)" text-anchor="middle" font-family="'Liberation Sans', sans-serif" font-size="13.1" fill="#262626">J /A·m<tspan dy="-6.8" dx="0.6" font-size="8.8">-1</tspan></text>
<text x="549.7" y="233.5" text-anchor="middle" font-family="'Liberation Serif', serif" font-size="16" fill="#111">(b) XOZ plane of <tspan font-style="italic">y</tspan> = 40 mm</text>
<line x1="133.4" y1="268.8" x2="133.4" y2="442.7" stroke="#666" stroke-width="0.9"/>
<line x1="316.4" y1="268.8" x2="316.4" y2="442.7" stroke="#888" stroke-width="0.8"/>
<g clip-path="url(#clipc)">
<rect x="133.1" y="271.4" width="183.6" height="168.6" fill="#352a87"/>
<use href="#perc" x="110.55" y="271.4"/>
<use href="#perc" x="125.85" y="271.4"/>
<use href="#perc" x="141.15" y="271.4"/>
<use href="#perc" x="156.45" y="271.4"/>
<use href="#perc" x="171.75" y="271.4"/>
<use href="#perc" x="187.05" y="271.4"/>
<use href="#perc" x="202.35" y="271.4"/>
<use href="#perc" x="217.65" y="271.4"/>
<use href="#perc" x="232.95" y="271.4"/>
<use href="#perc" x="248.25" y="271.4"/>
<use href="#perc" x="263.55" y="271.4"/>
<use href="#perc" x="278.85" y="271.4"/>
<use href="#perc" x="294.15" y="271.4"/>
<use href="#perc" x="309.45" y="271.4"/>
</g>
<line x1="132.6" y1="268.8" x2="317" y2="268.8" stroke="#8a8a8a" stroke-width="1.3"/>
<line x1="132.6" y1="442.7" x2="317" y2="442.7" stroke="#555" stroke-width="1.2"/>
<line x1="133.1" y1="442.7" x2="133.1" y2="440.9" stroke="#6a6a6a" stroke-width="0.6"/>
<line x1="133.1" y1="268.8" x2="133.1" y2="270.6" stroke="#6a6a6a" stroke-width="0.6"/>
<text x="133.1" y="459.3" text-anchor="middle" font-family="'Liberation Sans', sans-serif" font-size="11.7" fill="#262626">-180</text>
<line x1="163.7" y1="442.7" x2="163.7" y2="440.9" stroke="#6a6a6a" stroke-width="0.6"/>
<line x1="163.7" y1="268.8" x2="163.7" y2="270.6" stroke="#6a6a6a" stroke-width="0.6"/>
<text x="163.7" y="459.3" text-anchor="middle" font-family="'Liberation Sans', sans-serif" font-size="11.7" fill="#262626">-120</text>
<line x1="194.3" y1="442.7" x2="194.3" y2="440.9" stroke="#6a6a6a" stroke-width="0.6"/>
<line x1="194.3" y1="268.8" x2="194.3" y2="270.6" stroke="#6a6a6a" stroke-width="0.6"/>
<text x="194.3" y="459.3" text-anchor="middle" font-family="'Liberation Sans', sans-serif" font-size="11.7" fill="#262626">-60</text>
<line x1="224.9" y1="442.7" x2="224.9" y2="440.9" stroke="#6a6a6a" stroke-width="0.6"/>
<line x1="224.9" y1="268.8" x2="224.9" y2="270.6" stroke="#6a6a6a" stroke-width="0.6"/>
<text x="224.9" y="459.3" text-anchor="middle" font-family="'Liberation Sans', sans-serif" font-size="11.7" fill="#262626">0</text>
<line x1="255.5" y1="442.7" x2="255.5" y2="440.9" stroke="#6a6a6a" stroke-width="0.6"/>
<line x1="255.5" y1="268.8" x2="255.5" y2="270.6" stroke="#6a6a6a" stroke-width="0.6"/>
<text x="255.5" y="459.3" text-anchor="middle" font-family="'Liberation Sans', sans-serif" font-size="11.7" fill="#262626">60</text>
<line x1="286.1" y1="442.7" x2="286.1" y2="440.9" stroke="#6a6a6a" stroke-width="0.6"/>
<line x1="286.1" y1="268.8" x2="286.1" y2="270.6" stroke="#6a6a6a" stroke-width="0.6"/>
<text x="286.1" y="459.3" text-anchor="middle" font-family="'Liberation Sans', sans-serif" font-size="11.7" fill="#262626">120</text>
<line x1="316.7" y1="442.7" x2="316.7" y2="440.9" stroke="#6a6a6a" stroke-width="0.6"/>
<line x1="316.7" y1="268.8" x2="316.7" y2="270.6" stroke="#6a6a6a" stroke-width="0.6"/>
<text x="316.7" y="459.3" text-anchor="middle" font-family="'Liberation Sans', sans-serif" font-size="11.7" fill="#262626">180</text>
<text x="129.6" y="447.6" text-anchor="end" font-family="'Liberation Sans', sans-serif" font-size="11.7" fill="#262626">-70</text>
<text x="129.6" y="404.12" text-anchor="end" font-family="'Liberation Sans', sans-serif" font-size="11.7" fill="#262626">-35</text>
<text x="129.6" y="360.65" text-anchor="end" font-family="'Liberation Sans', sans-serif" font-size="11.7" fill="#262626">0</text>
<text x="129.6" y="317.17" text-anchor="end" font-family="'Liberation Sans', sans-serif" font-size="11.7" fill="#262626">35</text>
<text x="129.6" y="273.7" text-anchor="end" font-family="'Liberation Sans', sans-serif" font-size="11.7" fill="#262626">70</text>
<text x="224.9" y="474.3" text-anchor="middle" font-family="'Liberation Sans', sans-serif" font-size="13.1" fill="#262626">θ /°</text>
<text transform="translate(105.6,355.75) rotate(-90)" text-anchor="middle" font-family="'Liberation Sans', sans-serif" font-size="13.1" fill="#262626">y /mm</text>
<rect x="25.3" y="264.2" width="16.2" height="188.1" fill="url(#cbc)" stroke="#3a3a3a" stroke-width="0.6"/>
<line x1="39.7" y1="273.4" x2="41.5" y2="273.4" stroke="#262626" stroke-width="0.6"/>
<text x="46.2" y="278.46" font-family="'Liberation Sans', sans-serif" font-size="11.7" fill="#262626">2</text>
<line x1="39.7" y1="318.26" x2="41.5" y2="318.26" stroke="#262626" stroke-width="0.6"/>
<text x="46.2" y="323.32" font-family="'Liberation Sans', sans-serif" font-size="11.7" fill="#262626">1.5</text>
<line x1="39.7" y1="363.13" x2="41.5" y2="363.13" stroke="#262626" stroke-width="0.6"/>
<text x="46.2" y="368.19" font-family="'Liberation Sans', sans-serif" font-size="11.7" fill="#262626">1</text>
<line x1="39.7" y1="408" x2="41.5" y2="408" stroke="#262626" stroke-width="0.6"/>
<text x="46.2" y="413.06" font-family="'Liberation Sans', sans-serif" font-size="11.7" fill="#262626">0.5</text>
<text x="63.4" y="279.1" font-family="'Liberation Sans', sans-serif" font-size="14.3" fill="#555">×</text>
<text x="72.8" y="276.9" font-family="'Liberation Sans', sans-serif" font-size="11.7" fill="#262626">10</text>
<text x="85.9" y="271" font-family="'Liberation Sans', sans-serif" font-size="9.9" fill="#262626">7</text>
<text transform="translate(14.6,355.3) rotate(-90)" text-anchor="middle" font-family="'Liberation Sans', sans-serif" font-size="13.1" fill="#262626">J /A·m<tspan dy="-6.8" dx="0.6" font-size="8.8">-1</tspan></text>
<text x="184.1" y="496.5" text-anchor="middle" font-family="'Liberation Serif', serif" font-size="16" fill="#111">(c) Unfolded <tspan font-style="italic">Y</tspan>-<tspan font-style="italic">θ</tspan> surface of <tspan font-style="italic">r</tspan> = <tspan font-style="italic">r</tspan><tspan font-size="11.5" dy="2.2">0</tspan><tspan dy="-2.2">+5 mm</tspan></text>
<line x1="492.4" y1="270.3" x2="492.4" y2="443.4" stroke="#666" stroke-width="0.9"/>
<line x1="667.3" y1="270.3" x2="667.3" y2="443.4" stroke="#888" stroke-width="0.8"/>
<g clip-path="url(#clipd)">
<rect x="492.1" y="272.7" width="175.5" height="167.75" fill="#352a87"/>
<use href="#perd" x="470.56" y="272.7"/>
<use href="#perd" x="485.19" y="272.7"/>
<use href="#perd" x="499.81" y="272.7"/>
<use href="#perd" x="514.44" y="272.7"/>
<use href="#perd" x="529.06" y="272.7"/>
<use href="#perd" x="543.69" y="272.7"/>
<use href="#perd" x="558.31" y="272.7"/>
<use href="#perd" x="572.94" y="272.7"/>
<use href="#perd" x="587.56" y="272.7"/>
<use href="#perd" x="602.19" y="272.7"/>
<use href="#perd" x="616.81" y="272.7"/>
<use href="#perd" x="631.44" y="272.7"/>
<use href="#perd" x="646.06" y="272.7"/>
<use href="#perd" x="660.69" y="272.7"/>
</g>
<line x1="491.6" y1="270.3" x2="667.9" y2="270.3" stroke="#e4e4e4" stroke-width="0.8"/>
<line x1="491.6" y1="443.4" x2="667.9" y2="443.4" stroke="#707070" stroke-width="1.1"/>
<line x1="492.1" y1="443.4" x2="492.1" y2="441.6" stroke="#6a6a6a" stroke-width="0.6"/>
<line x1="492.1" y1="270.3" x2="492.1" y2="272.1" stroke="#6a6a6a" stroke-width="0.6"/>
<text x="492.1" y="459.5" text-anchor="middle" font-family="'Liberation Sans', sans-serif" font-size="11.7" fill="#262626">-180</text>
<line x1="521.35" y1="443.4" x2="521.35" y2="441.6" stroke="#6a6a6a" stroke-width="0.6"/>
<line x1="521.35" y1="270.3" x2="521.35" y2="272.1" stroke="#6a6a6a" stroke-width="0.6"/>
<text x="521.35" y="459.5" text-anchor="middle" font-family="'Liberation Sans', sans-serif" font-size="11.7" fill="#262626">-120</text>
<line x1="550.6" y1="443.4" x2="550.6" y2="441.6" stroke="#6a6a6a" stroke-width="0.6"/>
<line x1="550.6" y1="270.3" x2="550.6" y2="272.1" stroke="#6a6a6a" stroke-width="0.6"/>
<text x="550.6" y="459.5" text-anchor="middle" font-family="'Liberation Sans', sans-serif" font-size="11.7" fill="#262626">-60</text>
<line x1="579.85" y1="443.4" x2="579.85" y2="441.6" stroke="#6a6a6a" stroke-width="0.6"/>
<line x1="579.85" y1="270.3" x2="579.85" y2="272.1" stroke="#6a6a6a" stroke-width="0.6"/>
<text x="579.85" y="459.5" text-anchor="middle" font-family="'Liberation Sans', sans-serif" font-size="11.7" fill="#262626">0</text>
<line x1="609.1" y1="443.4" x2="609.1" y2="441.6" stroke="#6a6a6a" stroke-width="0.6"/>
<line x1="609.1" y1="270.3" x2="609.1" y2="272.1" stroke="#6a6a6a" stroke-width="0.6"/>
<text x="609.1" y="459.5" text-anchor="middle" font-family="'Liberation Sans', sans-serif" font-size="11.7" fill="#262626">60</text>
<line x1="638.35" y1="443.4" x2="638.35" y2="441.6" stroke="#6a6a6a" stroke-width="0.6"/>
<line x1="638.35" y1="270.3" x2="638.35" y2="272.1" stroke="#6a6a6a" stroke-width="0.6"/>
<text x="638.35" y="459.5" text-anchor="middle" font-family="'Liberation Sans', sans-serif" font-size="11.7" fill="#262626">120</text>
<line x1="667.6" y1="443.4" x2="667.6" y2="441.6" stroke="#6a6a6a" stroke-width="0.6"/>
<line x1="667.6" y1="270.3" x2="667.6" y2="272.1" stroke="#6a6a6a" stroke-width="0.6"/>
<text x="667.6" y="459.5" text-anchor="middle" font-family="'Liberation Sans', sans-serif" font-size="11.7" fill="#262626">180</text>
<text x="489.6" y="448.3" text-anchor="end" font-family="'Liberation Sans', sans-serif" font-size="11.7" fill="#262626">-70</text>
<text x="489.6" y="405.02" text-anchor="end" font-family="'Liberation Sans', sans-serif" font-size="11.7" fill="#262626">-35</text>
<text x="489.6" y="361.75" text-anchor="end" font-family="'Liberation Sans', sans-serif" font-size="11.7" fill="#262626">0</text>
<text x="489.6" y="318.47" text-anchor="end" font-family="'Liberation Sans', sans-serif" font-size="11.7" fill="#262626">35</text>
<text x="489.6" y="275.2" text-anchor="end" font-family="'Liberation Sans', sans-serif" font-size="11.7" fill="#262626">70</text>
<text x="579.85" y="475.2" text-anchor="middle" font-family="'Liberation Sans', sans-serif" font-size="13.1" fill="#262626">θ /°</text>
<text transform="translate(465.1,356.85) rotate(-90)" text-anchor="middle" font-family="'Liberation Sans', sans-serif" font-size="13.1" fill="#262626">y /mm</text>
<rect x="388.2" y="269.2" width="16.3" height="184" fill="url(#cbd)" stroke="#3a3a3a" stroke-width="0.6"/>
<line x1="402.7" y1="299.28" x2="404.5" y2="299.28" stroke="#262626" stroke-width="0.6"/>
<text x="407.7" y="303.24" font-family="'Liberation Sans', sans-serif" font-size="11.7" fill="#262626">1.5</text>
<line x1="402.7" y1="350.44" x2="404.5" y2="350.44" stroke="#262626" stroke-width="0.6"/>
<text x="407.7" y="354.4" font-family="'Liberation Sans', sans-serif" font-size="11.7" fill="#262626">1</text>
<line x1="402.7" y1="401.59" x2="404.5" y2="401.59" stroke="#262626" stroke-width="0.6"/>
<text x="407.7" y="405.55" font-family="'Liberation Sans', sans-serif" font-size="11.7" fill="#262626">0.5</text>
<text x="424.9" y="282" font-family="'Liberation Sans', sans-serif" font-size="14.3" fill="#555">×</text>
<text x="434.3" y="279.8" font-family="'Liberation Sans', sans-serif" font-size="11.7" fill="#262626">10</text>
<text x="447.4" y="273.9" font-family="'Liberation Sans', sans-serif" font-size="9.9" fill="#262626">7</text>
<text transform="translate(380.35,355.2) rotate(-90)" text-anchor="middle" font-family="'Liberation Sans', sans-serif" font-size="13.1" fill="#262626">J /A·m<tspan dy="-6.8" dx="0.6" font-size="8.8">-1</tspan></text>
<text x="548.7" y="496.8" text-anchor="middle" font-family="'Liberation Serif', serif" font-size="16" fill="#111">(d) Unfolded <tspan font-style="italic">Y</tspan>-<tspan font-style="italic">θ</tspan> surface of <tspan font-style="italic">r</tspan> = <tspan font-style="italic">r</tspan><tspan font-size="11.5" dy="2.2">0</tspan><tspan dy="-2.2">+10 mm</tspan></text>
</svg></body></html>
